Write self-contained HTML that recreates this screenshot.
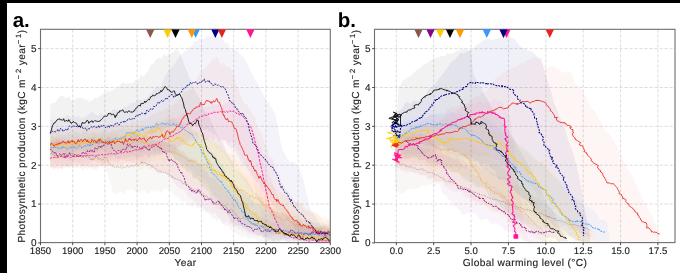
<!DOCTYPE html><html><head><meta charset="utf-8"><style>html,body{margin:0;padding:0;background:#fff;overflow:hidden}svg{display:block;will-change:transform;text-rendering:geometricPrecision}</style></head><body><svg width="680" height="273" viewBox="0 0 680 273">
<rect width="680" height="273" fill="#fff"/>
<line x1="72.70" y1="29.3" x2="72.70" y2="242.6" stroke="#d2d2d2" stroke-width="0.75" stroke-dasharray="3.2,1.8"/>
<line x1="104.90" y1="29.3" x2="104.90" y2="242.6" stroke="#d2d2d2" stroke-width="0.75" stroke-dasharray="3.2,1.8"/>
<line x1="137.10" y1="29.3" x2="137.10" y2="242.6" stroke="#d2d2d2" stroke-width="0.75" stroke-dasharray="3.2,1.8"/>
<line x1="169.30" y1="29.3" x2="169.30" y2="242.6" stroke="#d2d2d2" stroke-width="0.75" stroke-dasharray="3.2,1.8"/>
<line x1="201.50" y1="29.3" x2="201.50" y2="242.6" stroke="#d2d2d2" stroke-width="0.75" stroke-dasharray="3.2,1.8"/>
<line x1="233.70" y1="29.3" x2="233.70" y2="242.6" stroke="#d2d2d2" stroke-width="0.75" stroke-dasharray="3.2,1.8"/>
<line x1="265.90" y1="29.3" x2="265.90" y2="242.6" stroke="#d2d2d2" stroke-width="0.75" stroke-dasharray="3.2,1.8"/>
<line x1="298.10" y1="29.3" x2="298.10" y2="242.6" stroke="#d2d2d2" stroke-width="0.75" stroke-dasharray="3.2,1.8"/>
<line x1="40.5" y1="204.05" x2="330.3" y2="204.05" stroke="#d2d2d2" stroke-width="0.75" stroke-dasharray="3.2,1.8"/>
<line x1="40.5" y1="165.20" x2="330.3" y2="165.20" stroke="#d2d2d2" stroke-width="0.75" stroke-dasharray="3.2,1.8"/>
<line x1="40.5" y1="126.35" x2="330.3" y2="126.35" stroke="#d2d2d2" stroke-width="0.75" stroke-dasharray="3.2,1.8"/>
<line x1="40.5" y1="87.50" x2="330.3" y2="87.50" stroke="#d2d2d2" stroke-width="0.75" stroke-dasharray="3.2,1.8"/>
<line x1="40.5" y1="48.65" x2="330.3" y2="48.65" stroke="#d2d2d2" stroke-width="0.75" stroke-dasharray="3.2,1.8"/>
<line x1="396.30" y1="29.3" x2="396.30" y2="242.6" stroke="#d2d2d2" stroke-width="0.75" stroke-dasharray="3.2,1.8"/>
<line x1="433.68" y1="29.3" x2="433.68" y2="242.6" stroke="#d2d2d2" stroke-width="0.75" stroke-dasharray="3.2,1.8"/>
<line x1="471.05" y1="29.3" x2="471.05" y2="242.6" stroke="#d2d2d2" stroke-width="0.75" stroke-dasharray="3.2,1.8"/>
<line x1="508.43" y1="29.3" x2="508.43" y2="242.6" stroke="#d2d2d2" stroke-width="0.75" stroke-dasharray="3.2,1.8"/>
<line x1="545.80" y1="29.3" x2="545.80" y2="242.6" stroke="#d2d2d2" stroke-width="0.75" stroke-dasharray="3.2,1.8"/>
<line x1="583.17" y1="29.3" x2="583.17" y2="242.6" stroke="#d2d2d2" stroke-width="0.75" stroke-dasharray="3.2,1.8"/>
<line x1="620.55" y1="29.3" x2="620.55" y2="242.6" stroke="#d2d2d2" stroke-width="0.75" stroke-dasharray="3.2,1.8"/>
<line x1="657.92" y1="29.3" x2="657.92" y2="242.6" stroke="#d2d2d2" stroke-width="0.75" stroke-dasharray="3.2,1.8"/>
<line x1="374.5" y1="204.05" x2="675.0" y2="204.05" stroke="#d2d2d2" stroke-width="0.75" stroke-dasharray="3.2,1.8"/>
<line x1="374.5" y1="165.20" x2="675.0" y2="165.20" stroke="#d2d2d2" stroke-width="0.75" stroke-dasharray="3.2,1.8"/>
<line x1="374.5" y1="126.35" x2="675.0" y2="126.35" stroke="#d2d2d2" stroke-width="0.75" stroke-dasharray="3.2,1.8"/>
<line x1="374.5" y1="87.50" x2="675.0" y2="87.50" stroke="#d2d2d2" stroke-width="0.75" stroke-dasharray="3.2,1.8"/>
<line x1="374.5" y1="48.65" x2="675.0" y2="48.65" stroke="#d2d2d2" stroke-width="0.75" stroke-dasharray="3.2,1.8"/>
<path d="M50.2,105.3 L51.4,103.6 L52.7,103.1 L54.0,102.5 L55.3,102.4 L56.6,101.1 L57.9,98.4 L59.2,97.3 L60.5,95.6 L61.8,95.8 L63.0,96.0 L64.3,96.5 L65.6,98.9 L66.9,97.3 L68.2,96.9 L69.5,96.8 L70.8,99.4 L72.1,100.8 L73.3,100.4 L74.6,99.8 L75.9,98.5 L77.2,98.3 L78.5,97.5 L79.8,98.5 L81.1,97.9 L82.4,97.5 L83.6,99.6 L84.9,98.4 L86.2,99.7 L87.5,100.1 L88.8,101.2 L90.1,101.6 L91.4,101.0 L92.7,100.0 L94.0,98.4 L95.2,97.6 L96.5,97.8 L97.8,98.1 L99.1,97.3 L100.4,94.5 L101.7,95.0 L103.0,93.7 L104.3,92.4 L105.5,93.7 L106.8,92.1 L108.1,89.4 L109.4,91.8 L110.7,90.8 L112.0,89.8 L113.3,89.9 L114.6,88.1 L115.8,87.7 L117.1,88.8 L118.4,86.5 L119.7,85.3 L121.0,84.1 L122.3,82.7 L123.6,83.0 L124.9,83.2 L126.2,84.7 L127.4,83.0 L128.7,83.3 L130.0,83.0 L131.3,83.5 L132.6,83.1 L133.9,82.0 L135.2,79.1 L136.5,81.2 L137.7,81.3 L139.0,79.1 L140.3,76.2 L141.6,74.8 L142.9,76.3 L144.2,77.1 L145.5,73.4 L146.8,72.2 L148.0,71.4 L149.3,67.8 L150.6,65.2 L151.9,64.6 L153.2,63.6 L154.5,62.3 L155.8,59.8 L157.1,59.1 L158.4,58.3 L159.6,57.3 L160.9,59.1 L162.2,56.2 L163.5,54.7 L164.8,54.0 L166.1,56.2 L167.4,55.3 L168.7,52.7 L169.9,54.4 L171.2,53.3 L172.5,51.1 L173.8,52.6 L175.1,49.8 L176.4,49.4 L177.7,49.9 L179.0,51.1 L180.2,53.8 L181.5,57.3 L182.8,59.4 L184.1,64.1 L185.4,68.1 L186.7,70.1 L188.0,74.0 L189.3,78.3 L190.6,79.5 L191.8,80.8 L193.1,85.1 L194.4,89.7 L195.7,91.8 L197.0,94.3 L198.3,97.0 L199.6,97.7 L200.9,102.2 L202.1,103.1 L203.4,107.8 L204.7,110.9 L206.0,112.0 L207.3,113.3 L208.6,115.6 L209.9,118.6 L211.2,121.7 L212.4,124.5 L213.7,126.7 L215.0,130.0 L216.3,132.4 L217.6,134.5 L218.9,137.6 L220.2,139.5 L221.5,141.8 L222.8,142.4 L224.0,145.8 L225.3,149.6 L226.6,152.6 L227.9,154.8 L229.2,156.0 L230.5,159.3 L231.8,161.2 L233.1,161.6 L234.3,167.8 L235.6,169.8 L236.9,169.9 L238.2,170.6 L239.5,171.9 L240.8,174.1 L242.1,174.7 L243.4,176.2 L244.6,178.7 L245.9,177.3 L247.2,179.7 L248.5,182.8 L249.8,184.6 L251.1,186.4 L252.4,187.9 L253.7,192.6 L255.0,193.1 L256.2,192.3 L257.5,195.3 L258.8,196.3 L260.1,196.3 L261.4,197.2 L262.7,197.7 L264.0,202.5 L265.3,204.1 L266.5,205.2 L267.8,204.9 L269.1,204.5 L270.4,209.2 L271.7,207.5 L273.0,210.0 L274.3,209.1 L275.6,211.7 L276.8,211.3 L278.1,210.4 L279.4,211.9 L280.7,212.6 L282.0,212.6 L283.3,213.8 L284.6,215.1 L285.9,214.2 L287.2,214.7 L288.4,216.9 L289.7,214.8 L291.0,218.7 L292.3,218.7 L293.6,220.4 L294.9,221.2 L296.2,221.3 L297.5,222.3 L298.7,222.5 L300.0,225.2 L301.3,226.6 L302.6,225.0 L303.9,226.2 L305.2,227.1 L306.5,228.2 L307.8,225.7 L309.0,225.2 L310.3,224.2 L311.6,226.7 L312.9,227.0 L314.2,228.7 L315.5,227.4 L316.8,226.0 L318.1,228.3 L319.4,226.8 L320.6,226.8 L321.9,228.4 L323.2,231.4 L324.5,229.1 L325.8,229.9 L327.1,231.1 L328.4,230.6 L329.7,230.5 L329.7,242.1 L328.4,242.8 L327.1,242.2 L325.8,241.7 L324.5,241.2 L323.2,241.0 L321.9,241.5 L320.6,240.7 L319.4,240.8 L318.1,241.8 L316.8,242.3 L315.5,242.9 L314.2,240.9 L312.9,239.9 L311.6,240.1 L310.3,240.4 L309.0,238.2 L307.8,240.8 L306.5,240.2 L305.2,238.3 L303.9,238.0 L302.6,240.6 L301.3,239.4 L300.0,239.7 L298.7,239.7 L297.5,240.9 L296.2,240.1 L294.9,241.0 L293.6,240.8 L292.3,238.2 L291.0,238.1 L289.7,237.9 L288.4,239.2 L287.2,239.4 L285.9,238.4 L284.6,238.2 L283.3,239.6 L282.0,239.5 L280.7,240.2 L279.4,241.6 L278.1,241.5 L276.8,240.0 L275.6,239.3 L274.3,242.6 L273.0,242.9 L271.7,240.6 L270.4,239.3 L269.1,240.9 L267.8,240.4 L266.5,241.7 L265.3,239.5 L264.0,237.4 L262.7,237.2 L261.4,235.8 L260.1,235.1 L258.8,235.9 L257.5,236.5 L256.2,234.4 L255.0,233.5 L253.7,233.1 L252.4,232.5 L251.1,232.3 L249.8,231.8 L248.5,231.7 L247.2,230.7 L245.9,228.9 L244.6,227.8 L243.4,228.1 L242.1,226.8 L240.8,225.9 L239.5,225.7 L238.2,225.4 L236.9,225.6 L235.6,225.2 L234.3,223.7 L233.1,223.8 L231.8,223.2 L230.5,221.9 L229.2,217.6 L227.9,216.3 L226.6,212.5 L225.3,210.4 L224.0,210.1 L222.8,209.1 L221.5,210.5 L220.2,207.5 L218.9,203.5 L217.6,202.2 L216.3,203.8 L215.0,201.3 L213.7,199.2 L212.4,197.9 L211.2,197.2 L209.9,195.0 L208.6,190.4 L207.3,190.3 L206.0,190.6 L204.7,188.0 L203.4,186.6 L202.1,187.2 L200.9,183.0 L199.6,182.0 L198.3,179.9 L197.0,178.1 L195.7,178.6 L194.4,178.1 L193.1,178.6 L191.8,173.3 L190.6,171.5 L189.3,170.4 L188.0,173.0 L186.7,171.1 L185.4,168.7 L184.1,167.3 L182.8,167.6 L181.5,166.5 L180.2,164.1 L179.0,162.4 L177.7,160.5 L176.4,160.1 L175.1,159.4 L173.8,158.1 L172.5,155.0 L171.2,154.1 L169.9,153.0 L168.7,150.8 L167.4,152.3 L166.1,152.8 L164.8,150.1 L163.5,152.8 L162.2,153.7 L160.9,150.4 L159.6,152.7 L158.4,151.8 L157.1,150.4 L155.8,151.7 L154.5,153.5 L153.2,150.2 L151.9,149.6 L150.6,149.2 L149.3,150.1 L148.0,149.7 L146.8,149.7 L145.5,150.2 L144.2,151.5 L142.9,151.3 L141.6,152.7 L140.3,153.0 L139.0,150.5 L137.7,150.4 L136.5,152.6 L135.2,151.1 L133.9,151.0 L132.6,153.0 L131.3,150.5 L130.0,152.1 L128.7,151.5 L127.4,152.7 L126.2,151.7 L124.9,151.6 L123.6,150.9 L122.3,150.2 L121.0,152.3 L119.7,152.8 L118.4,151.5 L117.1,149.7 L115.8,149.4 L114.6,150.1 L113.3,149.6 L112.0,150.4 L110.7,152.4 L109.4,152.5 L108.1,150.3 L106.8,152.2 L105.5,152.2 L104.3,150.5 L103.0,149.4 L101.7,150.1 L100.4,150.2 L99.1,149.3 L97.8,151.6 L96.5,152.3 L95.2,151.9 L94.0,152.2 L92.7,152.5 L91.4,153.4 L90.1,152.2 L88.8,155.1 L87.5,153.9 L86.2,153.4 L84.9,150.6 L83.6,151.2 L82.4,148.9 L81.1,149.6 L79.8,150.6 L78.5,151.4 L77.2,150.5 L75.9,151.9 L74.6,151.6 L73.3,152.9 L72.1,153.2 L70.8,152.5 L69.5,153.2 L68.2,155.7 L66.9,154.4 L65.6,155.2 L64.3,152.3 L63.0,151.1 L61.8,152.5 L60.5,152.4 L59.2,152.1 L57.9,153.5 L56.6,152.0 L55.3,150.4 L54.0,151.0 L52.7,152.3 L51.4,153.8 L50.2,151.8Z" fill="#000000" fill-opacity="0.052" stroke="none"/>
<path d="M50.2,119.8 L51.4,119.8 L52.7,119.0 L54.0,120.2 L55.3,119.6 L56.6,121.0 L57.9,120.1 L59.2,118.1 L60.5,117.1 L61.8,117.2 L63.0,117.4 L64.3,118.8 L65.6,115.7 L66.9,115.6 L68.2,114.8 L69.5,116.6 L70.8,116.6 L72.1,118.5 L73.3,116.3 L74.6,115.0 L75.9,117.6 L77.2,116.6 L78.5,115.3 L79.8,117.4 L81.1,118.4 L82.4,118.0 L83.6,117.2 L84.9,117.6 L86.2,116.1 L87.5,115.0 L88.8,113.9 L90.1,113.2 L91.4,111.9 L92.7,111.5 L94.0,114.2 L95.2,114.5 L96.5,115.3 L97.8,115.6 L99.1,114.5 L100.4,113.8 L101.7,112.8 L103.0,114.7 L104.3,115.1 L105.5,113.7 L106.8,112.9 L108.1,112.4 L109.4,111.7 L110.7,111.9 L112.0,110.0 L113.3,109.3 L114.6,109.2 L115.8,109.7 L117.1,109.1 L118.4,111.5 L119.7,110.5 L121.0,108.6 L122.3,109.2 L123.6,107.3 L124.9,106.2 L126.2,107.2 L127.4,106.1 L128.7,105.5 L130.0,104.0 L131.3,102.8 L132.6,102.6 L133.9,103.1 L135.2,102.3 L136.5,101.5 L137.7,99.8 L139.0,99.2 L140.3,99.8 L141.6,100.5 L142.9,99.4 L144.2,99.0 L145.5,99.0 L146.8,97.4 L148.0,96.8 L149.3,95.1 L150.6,93.2 L151.9,92.8 L153.2,88.9 L154.5,89.6 L155.8,87.7 L157.1,87.4 L158.4,85.5 L159.6,88.2 L160.9,86.2 L162.2,83.1 L163.5,80.1 L164.8,75.7 L166.1,74.8 L167.4,72.3 L168.7,70.7 L169.9,68.7 L171.2,67.3 L172.5,66.4 L173.8,64.2 L175.1,64.0 L176.4,60.3 L177.7,60.0 L179.0,57.8 L180.2,54.1 L181.5,54.4 L182.8,53.6 L184.1,51.3 L185.4,50.8 L186.7,51.0 L188.0,49.2 L189.3,47.4 L190.6,46.0 L191.8,46.5 L193.1,43.2 L194.4,41.2 L195.7,41.6 L197.0,41.1 L198.3,41.1 L199.6,38.4 L200.9,39.6 L202.1,38.4 L203.4,38.9 L204.7,39.2 L206.0,37.5 L207.3,35.6 L208.6,36.1 L209.9,36.9 L211.2,35.3 L212.4,35.8 L213.7,36.1 L215.0,35.2 L216.3,35.4 L217.6,37.8 L218.9,35.9 L220.2,37.9 L221.5,38.3 L222.8,40.5 L224.0,41.1 L225.3,43.7 L226.6,42.5 L227.9,43.4 L229.2,46.6 L230.5,48.9 L231.8,50.5 L233.1,48.3 L234.3,49.5 L235.6,50.0 L236.9,50.8 L238.2,51.4 L239.5,53.7 L240.8,54.2 L242.1,56.8 L243.4,57.1 L244.6,58.6 L245.9,60.2 L247.2,63.1 L248.5,66.4 L249.8,68.5 L251.1,72.2 L252.4,73.3 L253.7,76.4 L255.0,79.5 L256.2,81.3 L257.5,82.9 L258.8,85.7 L260.1,88.6 L261.4,90.9 L262.7,93.4 L264.0,96.2 L265.3,97.4 L266.5,101.0 L267.8,102.6 L269.1,100.8 L270.4,106.1 L271.7,107.8 L273.0,110.1 L274.3,112.8 L275.6,115.3 L276.8,122.1 L278.1,127.9 L279.4,135.8 L280.7,142.8 L282.0,148.1 L283.3,150.9 L284.6,152.6 L285.9,155.8 L287.2,158.7 L288.4,159.5 L289.7,162.6 L291.0,162.0 L292.3,161.8 L293.6,162.4 L294.9,162.8 L296.2,164.0 L297.5,166.4 L298.7,167.6 L300.0,170.0 L301.3,174.1 L302.6,177.2 L303.9,181.8 L305.2,188.7 L306.5,193.3 L307.8,197.2 L309.0,204.9 L310.3,209.1 L311.6,211.9 L312.9,212.6 L314.2,215.6 L315.5,216.4 L316.8,219.2 L318.1,220.5 L319.4,221.7 L320.6,224.6 L321.9,222.2 L323.2,221.9 L324.5,225.0 L325.8,223.9 L327.1,224.5 L328.4,224.3 L329.7,224.5 L329.7,242.2 L328.4,241.5 L327.1,239.4 L325.8,238.1 L324.5,237.4 L323.2,239.2 L321.9,238.9 L320.6,237.1 L319.4,237.4 L318.1,235.9 L316.8,236.2 L315.5,234.5 L314.2,235.2 L312.9,235.0 L311.6,235.0 L310.3,234.8 L309.0,236.2 L307.8,233.1 L306.5,234.5 L305.2,235.6 L303.9,233.1 L302.6,232.7 L301.3,233.6 L300.0,231.4 L298.7,231.7 L297.5,231.0 L296.2,228.4 L294.9,230.8 L293.6,226.6 L292.3,224.4 L291.0,220.7 L289.7,220.5 L288.4,220.1 L287.2,219.9 L285.9,219.1 L284.6,217.2 L283.3,216.4 L282.0,215.2 L280.7,213.3 L279.4,211.1 L278.1,210.9 L276.8,209.8 L275.6,209.5 L274.3,206.2 L273.0,205.6 L271.7,203.3 L270.4,200.2 L269.1,200.2 L267.8,199.4 L266.5,196.6 L265.3,193.9 L264.0,192.2 L262.7,191.3 L261.4,190.0 L260.1,188.3 L258.8,182.2 L257.5,181.7 L256.2,183.2 L255.0,179.1 L253.7,176.6 L252.4,175.7 L251.1,173.8 L249.8,170.9 L248.5,170.6 L247.2,169.6 L245.9,167.1 L244.6,165.1 L243.4,164.9 L242.1,163.3 L240.8,161.6 L239.5,159.8 L238.2,156.0 L236.9,155.8 L235.6,151.8 L234.3,150.6 L233.1,148.5 L231.8,148.2 L230.5,148.3 L229.2,145.9 L227.9,145.7 L226.6,143.6 L225.3,140.1 L224.0,141.2 L222.8,141.6 L221.5,140.7 L220.2,139.5 L218.9,138.7 L217.6,135.9 L216.3,135.8 L215.0,133.6 L213.7,134.1 L212.4,133.7 L211.2,131.5 L209.9,132.4 L208.6,131.1 L207.3,129.0 L206.0,129.7 L204.7,130.4 L203.4,130.3 L202.1,126.8 L200.9,126.3 L199.6,125.4 L198.3,126.1 L197.0,126.1 L195.7,126.6 L194.4,126.2 L193.1,126.0 L191.8,128.0 L190.6,126.0 L189.3,125.3 L188.0,124.8 L186.7,125.4 L185.4,125.2 L184.1,127.7 L182.8,125.5 L181.5,125.4 L180.2,126.9 L179.0,125.2 L177.7,125.2 L176.4,127.6 L175.1,126.0 L173.8,125.4 L172.5,126.0 L171.2,125.3 L169.9,125.3 L168.7,126.7 L167.4,126.9 L166.1,127.4 L164.8,127.9 L163.5,129.8 L162.2,130.1 L160.9,129.8 L159.6,129.4 L158.4,128.9 L157.1,128.0 L155.8,130.7 L154.5,132.8 L153.2,133.4 L151.9,137.0 L150.6,133.6 L149.3,133.7 L148.0,131.4 L146.8,133.2 L145.5,133.2 L144.2,134.1 L142.9,133.9 L141.6,132.8 L140.3,135.8 L139.0,136.7 L137.7,138.5 L136.5,140.9 L135.2,138.9 L133.9,136.9 L132.6,138.0 L131.3,138.2 L130.0,138.0 L128.7,135.9 L127.4,138.7 L126.2,137.0 L124.9,139.0 L123.6,139.8 L122.3,138.9 L121.0,139.4 L119.7,139.0 L118.4,140.5 L117.1,141.5 L115.8,141.6 L114.6,139.8 L113.3,140.9 L112.0,140.3 L110.7,139.7 L109.4,141.3 L108.1,141.0 L106.8,142.2 L105.5,143.9 L104.3,142.3 L103.0,141.2 L101.7,142.4 L100.4,142.1 L99.1,143.0 L97.8,141.2 L96.5,141.4 L95.2,141.1 L94.0,139.6 L92.7,141.1 L91.4,142.1 L90.1,142.4 L88.8,141.0 L87.5,141.8 L86.2,140.4 L84.9,141.7 L83.6,143.3 L82.4,143.1 L81.1,143.2 L79.8,143.2 L78.5,144.4 L77.2,144.4 L75.9,145.0 L74.6,143.6 L73.3,144.2 L72.1,145.6 L70.8,144.7 L69.5,143.2 L68.2,143.7 L66.9,144.6 L65.6,143.5 L64.3,141.4 L63.0,143.7 L61.8,143.5 L60.5,143.3 L59.2,145.8 L57.9,147.6 L56.6,147.4 L55.3,146.6 L54.0,145.5 L52.7,144.4 L51.4,146.8 L50.2,147.5Z" fill="#000080" fill-opacity="0.048" stroke="none"/>
<path d="M50.2,130.0 L51.4,128.9 L52.7,128.9 L54.0,128.7 L55.3,129.2 L56.6,127.8 L57.9,129.1 L59.2,129.8 L60.5,128.5 L61.8,128.7 L63.0,129.2 L64.3,129.7 L65.6,129.5 L66.9,128.3 L68.2,128.0 L69.5,129.6 L70.8,128.4 L72.1,128.1 L73.3,129.2 L74.6,127.7 L75.9,128.1 L77.2,128.3 L78.5,127.0 L79.8,125.7 L81.1,127.3 L82.4,126.8 L83.6,128.0 L84.9,124.8 L86.2,126.4 L87.5,125.2 L88.8,126.7 L90.1,125.7 L91.4,123.4 L92.7,127.9 L94.0,127.6 L95.2,126.2 L96.5,126.2 L97.8,126.8 L99.1,123.8 L100.4,124.6 L101.7,127.0 L103.0,125.2 L104.3,127.3 L105.5,124.9 L106.8,125.6 L108.1,125.1 L109.4,123.5 L110.7,124.0 L112.0,125.9 L113.3,127.2 L114.6,124.4 L115.8,123.4 L117.1,124.8 L118.4,123.4 L119.7,123.1 L121.0,122.7 L122.3,125.8 L123.6,125.0 L124.9,123.2 L126.2,122.4 L127.4,121.8 L128.7,125.3 L130.0,124.0 L131.3,122.8 L132.6,119.8 L133.9,122.3 L135.2,122.8 L136.5,122.6 L137.7,121.1 L139.0,121.5 L140.3,119.6 L141.6,120.5 L142.9,119.5 L144.2,119.6 L145.5,118.5 L146.8,118.7 L148.0,119.5 L149.3,116.4 L150.6,115.5 L151.9,115.8 L153.2,114.7 L154.5,112.9 L155.8,114.0 L157.1,113.2 L158.4,111.8 L159.6,110.8 L160.9,110.9 L162.2,112.8 L163.5,109.5 L164.8,108.6 L166.1,108.2 L167.4,108.1 L168.7,107.0 L169.9,106.8 L171.2,106.7 L172.5,105.7 L173.8,104.5 L175.1,103.4 L176.4,102.9 L177.7,100.0 L179.0,100.3 L180.2,97.6 L181.5,97.6 L182.8,95.5 L184.1,92.6 L185.4,92.1 L186.7,92.3 L188.0,91.0 L189.3,89.6 L190.6,90.6 L191.8,89.2 L193.1,86.1 L194.4,84.2 L195.7,81.6 L197.0,78.5 L198.3,75.9 L199.6,73.4 L200.9,71.5 L202.1,70.7 L203.4,69.3 L204.7,68.1 L206.0,66.7 L207.3,65.0 L208.6,65.1 L209.9,62.7 L211.2,60.4 L212.4,60.1 L213.7,59.1 L215.0,57.8 L216.3,57.8 L217.6,56.0 L218.9,61.9 L220.2,62.9 L221.5,66.1 L222.8,64.7 L224.0,61.9 L225.3,66.9 L226.6,66.6 L227.9,66.2 L229.2,67.4 L230.5,67.3 L231.8,70.9 L233.1,69.4 L234.3,75.5 L235.6,82.2 L236.9,86.3 L238.2,88.6 L239.5,92.7 L240.8,95.6 L242.1,98.2 L243.4,102.5 L244.6,103.0 L245.9,103.9 L247.2,104.8 L248.5,108.1 L249.8,109.8 L251.1,110.8 L252.4,113.4 L253.7,115.2 L255.0,116.6 L256.2,122.3 L257.5,127.8 L258.8,128.7 L260.1,130.0 L261.4,132.9 L262.7,136.1 L264.0,140.9 L265.3,144.9 L266.5,146.6 L267.8,151.2 L269.1,156.0 L270.4,158.8 L271.7,157.4 L273.0,158.8 L274.3,164.0 L275.6,168.0 L276.8,170.3 L278.1,174.0 L279.4,174.8 L280.7,178.3 L282.0,182.6 L283.3,183.3 L284.6,187.3 L285.9,189.0 L287.2,190.4 L288.4,192.1 L289.7,192.8 L291.0,195.0 L292.3,198.2 L293.6,200.8 L294.9,201.6 L296.2,202.1 L297.5,202.1 L298.7,202.7 L300.0,203.0 L301.3,204.4 L302.6,206.8 L303.9,208.5 L305.2,211.4 L306.5,210.9 L307.8,210.2 L309.0,210.2 L310.3,211.3 L311.6,212.4 L312.9,212.0 L314.2,213.2 L315.5,213.4 L316.8,214.1 L318.1,215.2 L319.4,214.9 L320.6,217.3 L321.9,218.7 L323.2,220.3 L324.5,221.5 L325.8,219.7 L327.1,218.9 L328.4,221.0 L329.7,221.7 L329.7,242.9 L328.4,242.8 L327.1,241.4 L325.8,242.2 L324.5,242.0 L323.2,242.8 L321.9,242.9 L320.6,241.8 L319.4,240.5 L318.1,241.1 L316.8,241.2 L315.5,239.9 L314.2,239.9 L312.9,240.5 L311.6,241.8 L310.3,239.7 L309.0,239.3 L307.8,240.3 L306.5,241.6 L305.2,239.6 L303.9,237.2 L302.6,238.3 L301.3,239.3 L300.0,240.8 L298.7,241.0 L297.5,238.9 L296.2,238.3 L294.9,237.4 L293.6,233.6 L292.3,233.6 L291.0,232.2 L289.7,233.7 L288.4,230.9 L287.2,228.1 L285.9,227.7 L284.6,227.4 L283.3,226.6 L282.0,225.3 L280.7,224.5 L279.4,223.0 L278.1,222.4 L276.8,222.8 L275.6,221.6 L274.3,220.5 L273.0,219.5 L271.7,216.3 L270.4,213.4 L269.1,212.0 L267.8,212.0 L266.5,211.7 L265.3,212.0 L264.0,208.7 L262.7,205.7 L261.4,203.9 L260.1,200.3 L258.8,201.0 L257.5,198.2 L256.2,198.5 L255.0,194.7 L253.7,194.0 L252.4,193.2 L251.1,192.5 L249.8,188.6 L248.5,186.8 L247.2,187.8 L245.9,182.5 L244.6,180.8 L243.4,178.7 L242.1,177.9 L240.8,175.3 L239.5,173.9 L238.2,171.6 L236.9,170.2 L235.6,168.3 L234.3,165.1 L233.1,165.6 L231.8,163.3 L230.5,163.6 L229.2,160.2 L227.9,158.8 L226.6,159.0 L225.3,155.9 L224.0,155.3 L222.8,152.8 L221.5,152.5 L220.2,151.9 L218.9,149.1 L217.6,149.7 L216.3,147.7 L215.0,145.9 L213.7,145.3 L212.4,145.6 L211.2,144.2 L209.9,142.1 L208.6,140.9 L207.3,140.1 L206.0,140.2 L204.7,139.2 L203.4,138.6 L202.1,136.7 L200.9,135.4 L199.6,133.5 L198.3,135.1 L197.0,135.6 L195.7,136.1 L194.4,136.8 L193.1,138.0 L191.8,135.5 L190.6,137.7 L189.3,138.6 L188.0,142.1 L186.7,139.7 L185.4,140.8 L184.1,143.6 L182.8,142.4 L181.5,143.6 L180.2,146.9 L179.0,146.5 L177.7,147.3 L176.4,146.6 L175.1,146.4 L173.8,146.6 L172.5,147.0 L171.2,147.6 L169.9,146.4 L168.7,147.2 L167.4,149.1 L166.1,148.9 L164.8,148.0 L163.5,148.0 L162.2,149.9 L160.9,151.8 L159.6,153.1 L158.4,153.7 L157.1,153.5 L155.8,156.2 L154.5,156.2 L153.2,155.1 L151.9,155.5 L150.6,158.4 L149.3,158.5 L148.0,157.1 L146.8,156.4 L145.5,155.4 L144.2,153.3 L142.9,156.2 L141.6,157.1 L140.3,156.8 L139.0,158.7 L137.7,158.6 L136.5,160.1 L135.2,157.1 L133.9,156.6 L132.6,157.5 L131.3,157.4 L130.0,157.0 L128.7,156.9 L127.4,156.0 L126.2,156.2 L124.9,158.4 L123.6,159.0 L122.3,157.8 L121.0,158.8 L119.7,159.4 L118.4,159.0 L117.1,158.8 L115.8,159.6 L114.6,157.6 L113.3,156.1 L112.0,158.2 L110.7,157.0 L109.4,157.3 L108.1,157.2 L106.8,158.1 L105.5,159.0 L104.3,158.0 L103.0,158.5 L101.7,157.0 L100.4,156.5 L99.1,155.7 L97.8,158.5 L96.5,156.0 L95.2,155.4 L94.0,154.8 L92.7,156.8 L91.4,158.1 L90.1,158.1 L88.8,157.4 L87.5,157.9 L86.2,158.2 L84.9,155.5 L83.6,156.7 L82.4,157.0 L81.1,156.2 L79.8,156.1 L78.5,155.0 L77.2,155.6 L75.9,155.2 L74.6,156.9 L73.3,157.3 L72.1,155.7 L70.8,154.8 L69.5,154.9 L68.2,157.5 L66.9,157.7 L65.6,156.4 L64.3,159.0 L63.0,158.5 L61.8,158.1 L60.5,157.9 L59.2,156.4 L57.9,155.7 L56.6,157.4 L55.3,158.4 L54.0,157.8 L52.7,155.2 L51.4,155.8 L50.2,156.0Z" fill="#e8221e" fill-opacity="0.045" stroke="none"/>
<path d="M50.2,142.2 L51.4,141.3 L52.7,139.6 L54.0,140.9 L55.3,138.7 L56.6,138.3 L57.9,138.8 L59.2,139.3 L60.5,138.1 L61.8,139.8 L63.0,140.5 L64.3,141.9 L65.6,140.8 L66.9,139.2 L68.2,139.2 L69.5,139.4 L70.8,140.1 L72.1,140.0 L73.3,141.8 L74.6,139.8 L75.9,140.4 L77.2,141.5 L78.5,141.6 L79.8,141.7 L81.1,139.7 L82.4,138.4 L83.6,140.6 L84.9,138.9 L86.2,138.1 L87.5,139.4 L88.8,141.1 L90.1,141.0 L91.4,140.8 L92.7,139.4 L94.0,139.6 L95.2,141.6 L96.5,139.9 L97.8,141.0 L99.1,138.7 L100.4,140.0 L101.7,140.0 L103.0,140.1 L104.3,139.8 L105.5,137.4 L106.8,136.7 L108.1,136.6 L109.4,136.8 L110.7,139.1 L112.0,139.0 L113.3,138.9 L114.6,139.4 L115.8,137.8 L117.1,138.4 L118.4,138.7 L119.7,139.1 L121.0,140.5 L122.3,138.0 L123.6,135.9 L124.9,136.1 L126.2,137.6 L127.4,140.3 L128.7,138.2 L130.0,135.9 L131.3,135.8 L132.6,134.9 L133.9,133.8 L135.2,133.6 L136.5,135.3 L137.7,134.2 L139.0,133.5 L140.3,135.7 L141.6,135.1 L142.9,135.8 L144.2,134.3 L145.5,132.4 L146.8,133.2 L148.0,134.5 L149.3,130.9 L150.6,129.9 L151.9,127.8 L153.2,129.8 L154.5,127.8 L155.8,125.3 L157.1,123.8 L158.4,125.4 L159.6,125.4 L160.9,125.6 L162.2,124.1 L163.5,123.0 L164.8,123.3 L166.1,124.9 L167.4,122.9 L168.7,123.1 L169.9,121.6 L171.2,120.9 L172.5,118.7 L173.8,117.8 L175.1,119.0 L176.4,118.3 L177.7,116.0 L179.0,117.2 L180.2,116.4 L181.5,114.8 L182.8,113.6 L184.1,113.5 L185.4,115.3 L186.7,115.9 L188.0,114.1 L189.3,112.7 L190.6,109.1 L191.8,111.1 L193.1,109.4 L194.4,108.6 L195.7,110.8 L197.0,110.6 L198.3,109.0 L199.6,108.7 L200.9,107.8 L202.1,106.6 L203.4,107.5 L204.7,106.4 L206.0,107.1 L207.3,107.2 L208.6,105.9 L209.9,106.5 L211.2,105.7 L212.4,103.7 L213.7,104.5 L215.0,105.0 L216.3,104.1 L217.6,104.9 L218.9,103.5 L220.2,105.5 L221.5,104.2 L222.8,104.8 L224.0,105.4 L225.3,102.5 L226.6,104.1 L227.9,101.8 L229.2,101.8 L230.5,100.8 L231.8,103.1 L233.1,101.6 L234.3,101.7 L235.6,105.2 L236.9,108.1 L238.2,107.6 L239.5,111.1 L240.8,114.7 L242.1,117.8 L243.4,119.2 L244.6,121.1 L245.9,123.3 L247.2,123.7 L248.5,126.5 L249.8,127.6 L251.1,127.7 L252.4,131.2 L253.7,131.3 L255.0,131.0 L256.2,136.5 L257.5,140.2 L258.8,143.2 L260.1,147.0 L261.4,148.1 L262.7,152.9 L264.0,154.2 L265.3,155.3 L266.5,164.7 L267.8,171.2 L269.1,176.5 L270.4,177.7 L271.7,181.9 L273.0,185.2 L274.3,188.2 L275.6,190.9 L276.8,195.1 L278.1,198.5 L279.4,201.6 L280.7,202.7 L282.0,205.5 L283.3,206.3 L284.6,209.8 L285.9,210.6 L287.2,209.0 L288.4,211.1 L289.7,214.5 L291.0,215.2 L292.3,217.8 L293.6,220.6 L294.9,221.7 L296.2,221.4 L297.5,222.4 L298.7,223.6 L300.0,225.0 L301.3,226.1 L302.6,223.9 L303.9,224.2 L305.2,226.0 L306.5,228.4 L307.8,228.9 L309.0,224.7 L310.3,227.1 L311.6,227.2 L312.9,227.0 L314.2,227.5 L315.5,228.1 L316.8,229.8 L318.1,230.4 L319.4,227.7 L320.6,229.3 L321.9,228.4 L323.2,231.1 L324.5,231.0 L325.8,230.4 L327.1,229.4 L328.4,231.6 L329.7,230.8 L329.7,242.8 L328.4,241.3 L327.1,242.9 L325.8,242.2 L324.5,242.6 L323.2,242.4 L321.9,241.3 L320.6,239.0 L319.4,238.5 L318.1,237.4 L316.8,240.9 L315.5,241.0 L314.2,241.1 L312.9,240.7 L311.6,239.6 L310.3,238.2 L309.0,237.2 L307.8,237.2 L306.5,237.9 L305.2,237.0 L303.9,237.6 L302.6,237.4 L301.3,237.1 L300.0,238.0 L298.7,236.0 L297.5,236.8 L296.2,234.5 L294.9,235.4 L293.6,235.6 L292.3,236.1 L291.0,236.6 L289.7,237.6 L288.4,236.3 L287.2,235.2 L285.9,237.2 L284.6,237.0 L283.3,234.7 L282.0,233.1 L280.7,232.1 L279.4,232.2 L278.1,234.1 L276.8,232.0 L275.6,231.2 L274.3,233.1 L273.0,233.2 L271.7,233.9 L270.4,233.7 L269.1,233.0 L267.8,231.1 L266.5,229.7 L265.3,227.0 L264.0,224.0 L262.7,220.4 L261.4,215.8 L260.1,209.1 L258.8,205.4 L257.5,201.7 L256.2,195.1 L255.0,189.7 L253.7,182.6 L252.4,180.6 L251.1,178.4 L249.8,175.7 L248.5,170.2 L247.2,167.9 L245.9,165.2 L244.6,165.6 L243.4,160.3 L242.1,158.6 L240.8,157.4 L239.5,153.4 L238.2,150.7 L236.9,149.7 L235.6,146.6 L234.3,145.5 L233.1,143.5 L231.8,141.1 L230.5,142.9 L229.2,141.6 L227.9,143.8 L226.6,141.8 L225.3,141.2 L224.0,139.8 L222.8,138.1 L221.5,139.9 L220.2,142.0 L218.9,141.9 L217.6,139.4 L216.3,137.3 L215.0,137.1 L213.7,140.2 L212.4,140.0 L211.2,138.8 L209.9,136.9 L208.6,138.5 L207.3,140.8 L206.0,139.5 L204.7,138.6 L203.4,136.9 L202.1,138.0 L200.9,136.0 L199.6,137.5 L198.3,139.3 L197.0,141.2 L195.7,139.7 L194.4,141.7 L193.1,141.0 L191.8,141.0 L190.6,139.7 L189.3,141.3 L188.0,142.3 L186.7,145.0 L185.4,144.9 L184.1,144.6 L182.8,144.8 L181.5,144.5 L180.2,146.5 L179.0,146.2 L177.7,145.4 L176.4,149.3 L175.1,150.4 L173.8,153.5 L172.5,152.5 L171.2,152.6 L169.9,152.4 L168.7,153.0 L167.4,154.5 L166.1,152.6 L164.8,151.9 L163.5,152.3 L162.2,155.1 L160.9,155.1 L159.6,155.8 L158.4,155.2 L157.1,155.0 L155.8,154.8 L154.5,153.8 L153.2,153.7 L151.9,154.4 L150.6,155.7 L149.3,157.9 L148.0,157.5 L146.8,159.8 L145.5,160.5 L144.2,161.6 L142.9,161.6 L141.6,161.6 L140.3,162.6 L139.0,162.7 L137.7,163.0 L136.5,165.8 L135.2,165.4 L133.9,162.8 L132.6,162.5 L131.3,163.8 L130.0,163.0 L128.7,164.6 L127.4,162.8 L126.2,163.2 L124.9,163.0 L123.6,163.3 L122.3,163.9 L121.0,166.7 L119.7,165.2 L118.4,163.1 L117.1,164.3 L115.8,163.5 L114.6,165.3 L113.3,165.6 L112.0,166.2 L110.7,166.3 L109.4,164.5 L108.1,166.4 L106.8,166.4 L105.5,167.0 L104.3,164.3 L103.0,164.7 L101.7,165.2 L100.4,165.9 L99.1,165.8 L97.8,166.8 L96.5,166.5 L95.2,166.6 L94.0,166.6 L92.7,167.5 L91.4,166.8 L90.1,167.3 L88.8,167.0 L87.5,166.2 L86.2,165.3 L84.9,167.9 L83.6,166.7 L82.4,165.6 L81.1,164.0 L79.8,165.2 L78.5,164.7 L77.2,165.2 L75.9,165.1 L74.6,166.2 L73.3,164.5 L72.1,165.3 L70.8,165.4 L69.5,168.2 L68.2,167.1 L66.9,165.2 L65.6,167.0 L64.3,166.6 L63.0,168.5 L61.8,169.4 L60.5,168.8 L59.2,168.6 L57.9,170.4 L56.6,167.6 L55.3,168.3 L54.0,167.9 L52.7,166.8 L51.4,167.7 L50.2,166.7Z" fill="#ff1493" fill-opacity="0.05" stroke="none"/>
<path d="M50.2,132.9 L51.4,136.1 L52.7,135.0 L54.0,134.1 L55.3,133.7 L56.6,132.9 L57.9,132.9 L59.2,133.0 L60.5,135.4 L61.8,135.2 L63.0,136.9 L64.3,134.3 L65.6,133.3 L66.9,133.3 L68.2,134.0 L69.5,134.1 L70.8,131.2 L72.1,129.8 L73.3,131.2 L74.6,130.3 L75.9,133.2 L77.2,135.0 L78.5,134.1 L79.8,134.1 L81.1,133.7 L82.4,132.6 L83.6,128.6 L84.9,130.9 L86.2,131.2 L87.5,131.0 L88.8,131.3 L90.1,130.2 L91.4,128.7 L92.7,131.4 L94.0,131.1 L95.2,131.3 L96.5,130.7 L97.8,132.6 L99.1,133.7 L100.4,134.9 L101.7,132.1 L103.0,131.1 L104.3,130.7 L105.5,133.3 L106.8,132.2 L108.1,132.1 L109.4,132.7 L110.7,132.4 L112.0,130.3 L113.3,129.4 L114.6,129.6 L115.8,129.0 L117.1,130.0 L118.4,129.6 L119.7,129.5 L121.0,128.7 L122.3,129.0 L123.6,129.2 L124.9,129.3 L126.2,129.9 L127.4,126.7 L128.7,127.1 L130.0,127.4 L131.3,125.3 L132.6,125.3 L133.9,128.7 L135.2,127.7 L136.5,127.0 L137.7,125.2 L139.0,124.7 L140.3,124.9 L141.6,127.1 L142.9,127.7 L144.2,126.4 L145.5,125.3 L146.8,126.3 L148.0,125.9 L149.3,125.5 L150.6,124.6 L151.9,123.6 L153.2,123.7 L154.5,124.6 L155.8,122.0 L157.1,120.1 L158.4,120.9 L159.6,119.8 L160.9,119.7 L162.2,119.3 L163.5,119.0 L164.8,120.2 L166.1,119.0 L167.4,117.7 L168.7,119.1 L169.9,116.7 L171.2,115.8 L172.5,116.0 L173.8,116.1 L175.1,117.9 L176.4,120.3 L177.7,122.1 L179.0,123.5 L180.2,123.4 L181.5,123.7 L182.8,123.3 L184.1,126.6 L185.4,123.4 L186.7,122.0 L188.0,124.4 L189.3,125.1 L190.6,126.1 L191.8,127.3 L193.1,128.8 L194.4,129.9 L195.7,131.6 L197.0,131.7 L198.3,132.3 L199.6,132.7 L200.9,134.6 L202.1,135.0 L203.4,135.9 L204.7,136.2 L206.0,138.9 L207.3,139.0 L208.6,138.9 L209.9,139.9 L211.2,142.1 L212.4,143.8 L213.7,145.0 L215.0,144.9 L216.3,144.5 L217.6,146.8 L218.9,149.1 L220.2,149.6 L221.5,150.6 L222.8,152.9 L224.0,154.5 L225.3,155.0 L226.6,154.9 L227.9,157.6 L229.2,159.3 L230.5,158.9 L231.8,161.3 L233.1,161.4 L234.3,161.9 L235.6,163.5 L236.9,166.1 L238.2,166.9 L239.5,168.3 L240.8,169.0 L242.1,171.4 L243.4,171.0 L244.6,174.8 L245.9,175.6 L247.2,176.5 L248.5,176.5 L249.8,179.1 L251.1,179.7 L252.4,182.0 L253.7,182.3 L255.0,182.0 L256.2,185.1 L257.5,186.3 L258.8,189.2 L260.1,189.2 L261.4,189.5 L262.7,191.8 L264.0,195.0 L265.3,195.5 L266.5,195.3 L267.8,195.5 L269.1,196.3 L270.4,200.2 L271.7,201.2 L273.0,199.6 L274.3,202.3 L275.6,201.3 L276.8,200.2 L278.1,201.4 L279.4,202.0 L280.7,204.4 L282.0,207.0 L283.3,207.4 L284.6,208.1 L285.9,208.7 L287.2,208.4 L288.4,209.7 L289.7,210.4 L291.0,210.8 L292.3,211.9 L293.6,210.7 L294.9,212.1 L296.2,213.6 L297.5,215.1 L298.7,216.6 L300.0,215.1 L301.3,216.1 L302.6,218.2 L303.9,218.9 L305.2,219.0 L306.5,219.6 L307.8,218.4 L309.0,220.6 L310.3,220.0 L311.6,220.4 L312.9,222.3 L314.2,222.1 L315.5,222.4 L316.8,222.1 L318.1,223.3 L319.4,223.2 L320.6,225.7 L321.9,226.5 L323.2,225.0 L324.5,224.1 L325.8,225.2 L327.1,226.6 L328.4,225.6 L329.7,229.1 L329.7,242.6 L328.4,242.9 L327.1,242.3 L325.8,241.6 L324.5,240.4 L323.2,242.9 L321.9,242.9 L320.6,241.9 L319.4,240.2 L318.1,240.7 L316.8,241.0 L315.5,241.2 L314.2,239.1 L312.9,239.7 L311.6,240.5 L310.3,239.6 L309.0,241.6 L307.8,237.5 L306.5,239.0 L305.2,237.0 L303.9,238.2 L302.6,238.0 L301.3,236.7 L300.0,234.8 L298.7,236.4 L297.5,237.1 L296.2,238.1 L294.9,238.4 L293.6,235.8 L292.3,235.0 L291.0,236.0 L289.7,237.2 L288.4,235.5 L287.2,234.8 L285.9,236.9 L284.6,236.6 L283.3,233.9 L282.0,235.0 L280.7,233.1 L279.4,233.4 L278.1,234.7 L276.8,233.1 L275.6,231.5 L274.3,234.3 L273.0,232.2 L271.7,234.1 L270.4,233.8 L269.1,233.1 L267.8,233.2 L266.5,234.3 L265.3,234.0 L264.0,234.4 L262.7,229.7 L261.4,227.3 L260.1,228.9 L258.8,228.1 L257.5,226.0 L256.2,225.1 L255.0,224.7 L253.7,226.2 L252.4,223.2 L251.1,222.2 L249.8,222.8 L248.5,219.5 L247.2,220.0 L245.9,218.3 L244.6,218.4 L243.4,217.1 L242.1,215.0 L240.8,214.7 L239.5,214.5 L238.2,214.7 L236.9,214.9 L235.6,215.2 L234.3,214.1 L233.1,210.5 L231.8,209.6 L230.5,209.5 L229.2,207.4 L227.9,208.0 L226.6,206.2 L225.3,204.2 L224.0,203.2 L222.8,203.4 L221.5,201.8 L220.2,200.9 L218.9,200.0 L217.6,196.6 L216.3,196.6 L215.0,195.8 L213.7,194.4 L212.4,195.1 L211.2,191.6 L209.9,188.8 L208.6,187.8 L207.3,186.5 L206.0,185.7 L204.7,184.4 L203.4,184.7 L202.1,181.9 L200.9,182.2 L199.6,180.7 L198.3,181.2 L197.0,178.9 L195.7,178.7 L194.4,176.9 L193.1,177.8 L191.8,176.0 L190.6,172.9 L189.3,173.7 L188.0,171.2 L186.7,170.9 L185.4,170.4 L184.1,167.9 L182.8,168.6 L181.5,168.0 L180.2,167.9 L179.0,168.5 L177.7,165.4 L176.4,164.6 L175.1,165.0 L173.8,162.6 L172.5,162.2 L171.2,161.1 L169.9,159.4 L168.7,160.5 L167.4,158.6 L166.1,162.7 L164.8,162.5 L163.5,162.7 L162.2,161.5 L160.9,160.3 L159.6,160.5 L158.4,159.8 L157.1,160.4 L155.8,161.7 L154.5,159.7 L153.2,160.9 L151.9,161.0 L150.6,162.3 L149.3,162.7 L148.0,162.3 L146.8,161.3 L145.5,161.9 L144.2,159.7 L142.9,161.6 L141.6,162.9 L140.3,163.1 L139.0,161.8 L137.7,159.6 L136.5,159.6 L135.2,159.5 L133.9,160.3 L132.6,160.9 L131.3,160.2 L130.0,161.3 L128.7,160.7 L127.4,160.9 L126.2,161.4 L124.9,161.3 L123.6,159.9 L122.3,161.1 L121.0,160.5 L119.7,159.0 L118.4,159.3 L117.1,159.5 L115.8,160.0 L114.6,162.0 L113.3,161.4 L112.0,161.0 L110.7,162.5 L109.4,163.3 L108.1,162.8 L106.8,163.1 L105.5,163.6 L104.3,164.6 L103.0,162.7 L101.7,162.3 L100.4,162.5 L99.1,162.2 L97.8,161.8 L96.5,162.0 L95.2,163.1 L94.0,160.3 L92.7,161.0 L91.4,159.4 L90.1,160.6 L88.8,159.1 L87.5,161.0 L86.2,160.8 L84.9,161.5 L83.6,162.8 L82.4,161.8 L81.1,162.2 L79.8,162.2 L78.5,161.4 L77.2,159.9 L75.9,160.9 L74.6,160.6 L73.3,158.4 L72.1,160.7 L70.8,161.0 L69.5,163.5 L68.2,161.4 L66.9,163.3 L65.6,160.4 L64.3,161.3 L63.0,163.9 L61.8,160.4 L60.5,161.7 L59.2,162.2 L57.9,160.9 L56.6,160.9 L55.3,163.9 L54.0,162.1 L52.7,160.4 L51.4,161.0 L50.2,162.3Z" fill="#ffcc00" fill-opacity="0.07" stroke="none"/>
<path d="M50.2,138.6 L51.4,136.5 L52.7,136.1 L54.0,136.9 L55.3,136.4 L56.6,138.2 L57.9,138.2 L59.2,138.4 L60.5,139.3 L61.8,138.2 L63.0,137.8 L64.3,135.7 L65.6,140.2 L66.9,139.3 L68.2,139.1 L69.5,138.4 L70.8,137.0 L72.1,136.2 L73.3,136.3 L74.6,136.8 L75.9,135.9 L77.2,135.6 L78.5,138.0 L79.8,137.3 L81.1,138.2 L82.4,138.4 L83.6,136.8 L84.9,136.1 L86.2,135.7 L87.5,136.6 L88.8,136.2 L90.1,136.8 L91.4,135.5 L92.7,134.5 L94.0,132.7 L95.2,132.3 L96.5,134.5 L97.8,135.2 L99.1,136.0 L100.4,134.9 L101.7,132.4 L103.0,132.5 L104.3,136.0 L105.5,136.6 L106.8,136.9 L108.1,134.8 L109.4,134.4 L110.7,133.8 L112.0,131.7 L113.3,133.7 L114.6,134.6 L115.8,131.8 L117.1,132.2 L118.4,133.7 L119.7,135.9 L121.0,136.3 L122.3,137.6 L123.6,135.2 L124.9,134.0 L126.2,132.2 L127.4,132.7 L128.7,133.5 L130.0,133.9 L131.3,130.9 L132.6,133.7 L133.9,132.8 L135.2,132.5 L136.5,131.6 L137.7,132.2 L139.0,131.3 L140.3,130.4 L141.6,130.9 L142.9,131.5 L144.2,131.3 L145.5,132.0 L146.8,131.3 L148.0,131.0 L149.3,130.1 L150.6,128.2 L151.9,127.2 L153.2,128.6 L154.5,128.0 L155.8,127.9 L157.1,127.2 L158.4,127.6 L159.6,127.4 L160.9,128.1 L162.2,128.7 L163.5,126.9 L164.8,125.4 L166.1,125.3 L167.4,125.4 L168.7,125.5 L169.9,126.5 L171.2,128.9 L172.5,127.4 L173.8,127.3 L175.1,128.4 L176.4,129.5 L177.7,127.6 L179.0,130.4 L180.2,127.8 L181.5,127.9 L182.8,126.1 L184.1,129.0 L185.4,129.8 L186.7,130.9 L188.0,130.9 L189.3,131.4 L190.6,132.5 L191.8,131.0 L193.1,132.6 L194.4,133.3 L195.7,132.5 L197.0,133.6 L198.3,134.1 L199.6,133.6 L200.9,134.4 L202.1,136.3 L203.4,136.5 L204.7,137.2 L206.0,135.7 L207.3,138.8 L208.6,138.3 L209.9,140.7 L211.2,141.8 L212.4,142.8 L213.7,143.0 L215.0,142.9 L216.3,142.3 L217.6,145.2 L218.9,144.9 L220.2,145.6 L221.5,146.6 L222.8,149.4 L224.0,149.3 L225.3,150.9 L226.6,151.7 L227.9,153.2 L229.2,153.4 L230.5,153.4 L231.8,153.8 L233.1,156.1 L234.3,156.3 L235.6,156.3 L236.9,159.6 L238.2,158.9 L239.5,162.3 L240.8,162.3 L242.1,162.6 L243.4,162.3 L244.6,163.9 L245.9,166.1 L247.2,168.1 L248.5,170.1 L249.8,169.1 L251.1,170.3 L252.4,171.9 L253.7,171.8 L255.0,173.7 L256.2,174.7 L257.5,175.7 L258.8,174.2 L260.1,174.1 L261.4,176.4 L262.7,179.7 L264.0,179.7 L265.3,180.4 L266.5,180.8 L267.8,181.3 L269.1,183.0 L270.4,182.9 L271.7,183.4 L273.0,184.8 L274.3,186.8 L275.6,188.3 L276.8,188.1 L278.1,190.6 L279.4,191.2 L280.7,192.7 L282.0,194.7 L283.3,193.7 L284.6,194.5 L285.9,195.3 L287.2,195.1 L288.4,198.3 L289.7,198.7 L291.0,198.9 L292.3,198.9 L293.6,201.6 L294.9,201.3 L296.2,202.2 L297.5,201.7 L298.7,202.1 L300.0,203.2 L301.3,202.2 L302.6,204.5 L303.9,206.5 L305.2,207.7 L306.5,209.3 L307.8,209.4 L309.0,211.9 L310.3,211.3 L311.6,210.8 L312.9,210.1 L314.2,211.7 L315.5,210.7 L316.8,213.0 L318.1,213.8 L319.4,216.6 L320.6,217.0 L321.9,217.5 L323.2,215.4 L324.5,215.8 L325.8,218.2 L327.1,217.8 L328.4,218.0 L329.7,219.2 L329.7,242.9 L328.4,241.9 L327.1,242.9 L325.8,242.0 L324.5,240.8 L323.2,241.2 L321.9,240.7 L320.6,239.6 L319.4,240.5 L318.1,241.6 L316.8,241.7 L315.5,241.3 L314.2,241.4 L312.9,240.4 L311.6,240.1 L310.3,238.6 L309.0,239.6 L307.8,239.6 L306.5,237.7 L305.2,237.8 L303.9,239.1 L302.6,238.2 L301.3,240.4 L300.0,240.0 L298.7,240.6 L297.5,240.8 L296.2,239.0 L294.9,240.8 L293.6,238.4 L292.3,238.7 L291.0,238.2 L289.7,237.5 L288.4,236.0 L287.2,235.9 L285.9,236.1 L284.6,237.5 L283.3,238.0 L282.0,238.7 L280.7,237.3 L279.4,237.1 L278.1,235.5 L276.8,235.3 L275.6,233.9 L274.3,234.5 L273.0,236.2 L271.7,234.4 L270.4,235.1 L269.1,235.4 L267.8,236.3 L266.5,236.1 L265.3,234.5 L264.0,235.0 L262.7,232.7 L261.4,233.4 L260.1,231.0 L258.8,230.8 L257.5,232.3 L256.2,230.6 L255.0,229.1 L253.7,227.9 L252.4,227.5 L251.1,229.8 L249.8,228.3 L248.5,227.1 L247.2,225.7 L245.9,223.8 L244.6,224.1 L243.4,225.6 L242.1,225.5 L240.8,223.9 L239.5,222.7 L238.2,221.5 L236.9,221.0 L235.6,219.5 L234.3,221.0 L233.1,216.5 L231.8,217.1 L230.5,214.2 L229.2,215.4 L227.9,215.8 L226.6,214.1 L225.3,213.7 L224.0,213.3 L222.8,212.2 L221.5,209.9 L220.2,210.5 L218.9,209.6 L217.6,208.5 L216.3,209.3 L215.0,206.9 L213.7,204.5 L212.4,205.1 L211.2,203.7 L209.9,203.0 L208.6,200.2 L207.3,201.5 L206.0,200.9 L204.7,199.0 L203.4,199.0 L202.1,195.5 L200.9,195.9 L199.6,194.9 L198.3,194.0 L197.0,193.6 L195.7,191.9 L194.4,191.2 L193.1,190.8 L191.8,192.6 L190.6,189.2 L189.3,187.8 L188.0,186.7 L186.7,185.5 L185.4,183.7 L184.1,183.6 L182.8,183.6 L181.5,183.6 L180.2,181.7 L179.0,178.4 L177.7,180.6 L176.4,178.0 L175.1,178.4 L173.8,177.4 L172.5,174.7 L171.2,173.9 L169.9,172.5 L168.7,174.1 L167.4,172.2 L166.1,173.7 L164.8,172.8 L163.5,171.3 L162.2,171.4 L160.9,172.2 L159.6,171.9 L158.4,169.0 L157.1,168.7 L155.8,170.0 L154.5,171.3 L153.2,167.6 L151.9,168.0 L150.6,169.0 L149.3,169.6 L148.0,167.9 L146.8,167.5 L145.5,166.5 L144.2,168.2 L142.9,169.0 L141.6,169.7 L140.3,169.7 L139.0,170.5 L137.7,169.2 L136.5,167.2 L135.2,165.7 L133.9,167.2 L132.6,167.1 L131.3,166.8 L130.0,167.0 L128.7,165.5 L127.4,165.6 L126.2,166.1 L124.9,164.6 L123.6,165.2 L122.3,165.0 L121.0,166.2 L119.7,165.0 L118.4,166.8 L117.1,166.7 L115.8,166.6 L114.6,167.1 L113.3,166.1 L112.0,167.5 L110.7,166.7 L109.4,166.6 L108.1,164.9 L106.8,166.1 L105.5,166.2 L104.3,166.0 L103.0,166.7 L101.7,167.4 L100.4,166.7 L99.1,167.6 L97.8,169.5 L96.5,167.4 L95.2,168.0 L94.0,167.4 L92.7,165.5 L91.4,166.8 L90.1,168.2 L88.8,168.1 L87.5,165.3 L86.2,167.2 L84.9,165.0 L83.6,165.2 L82.4,165.2 L81.1,167.9 L79.8,167.2 L78.5,166.5 L77.2,167.8 L75.9,168.2 L74.6,166.7 L73.3,168.0 L72.1,168.9 L70.8,167.3 L69.5,166.6 L68.2,167.2 L66.9,166.9 L65.6,167.4 L64.3,166.3 L63.0,166.4 L61.8,167.6 L60.5,167.6 L59.2,166.4 L57.9,165.1 L56.6,166.3 L55.3,168.5 L54.0,169.6 L52.7,167.9 L51.4,167.5 L50.2,167.1Z" fill="#ff9900" fill-opacity="0.06" stroke="none"/>
<path d="M50.2,140.8 L51.4,142.4 L52.7,140.0 L54.0,142.0 L55.3,140.8 L56.6,139.5 L57.9,141.6 L59.2,139.8 L60.5,141.5 L61.8,143.4 L63.0,141.5 L64.3,140.6 L65.6,141.1 L66.9,143.9 L68.2,142.5 L69.5,142.1 L70.8,141.9 L72.1,141.7 L73.3,143.3 L74.6,142.7 L75.9,139.6 L77.2,138.4 L78.5,139.9 L79.8,141.0 L81.1,140.3 L82.4,139.1 L83.6,138.9 L84.9,140.9 L86.2,140.4 L87.5,140.1 L88.8,138.5 L90.1,137.9 L91.4,138.4 L92.7,137.8 L94.0,139.3 L95.2,137.8 L96.5,139.3 L97.8,139.0 L99.1,138.3 L100.4,140.0 L101.7,140.5 L103.0,142.0 L104.3,140.5 L105.5,140.0 L106.8,140.0 L108.1,139.1 L109.4,141.5 L110.7,140.3 L112.0,139.6 L113.3,139.6 L114.6,138.4 L115.8,136.7 L117.1,138.3 L118.4,139.6 L119.7,139.8 L121.0,139.1 L122.3,138.2 L123.6,139.4 L124.9,137.8 L126.2,139.3 L127.4,137.9 L128.7,137.6 L130.0,137.4 L131.3,135.4 L132.6,137.1 L133.9,137.8 L135.2,137.4 L136.5,136.7 L137.7,138.9 L139.0,138.3 L140.3,139.3 L141.6,138.3 L142.9,137.0 L144.2,138.0 L145.5,138.7 L146.8,138.8 L148.0,142.5 L149.3,140.2 L150.6,139.4 L151.9,139.5 L153.2,140.2 L154.5,141.1 L155.8,140.9 L157.1,139.4 L158.4,140.2 L159.6,139.0 L160.9,142.9 L162.2,142.6 L163.5,141.7 L164.8,141.6 L166.1,143.5 L167.4,143.4 L168.7,141.3 L169.9,143.5 L171.2,145.0 L172.5,146.3 L173.8,146.8 L175.1,146.2 L176.4,146.4 L177.7,149.9 L179.0,148.2 L180.2,150.2 L181.5,151.6 L182.8,150.2 L184.1,152.0 L185.4,154.6 L186.7,155.7 L188.0,156.9 L189.3,158.2 L190.6,158.6 L191.8,157.9 L193.1,158.6 L194.4,161.4 L195.7,158.5 L197.0,161.8 L198.3,162.7 L199.6,163.7 L200.9,163.8 L202.1,165.5 L203.4,165.8 L204.7,164.5 L206.0,166.5 L207.3,169.2 L208.6,169.4 L209.9,171.1 L211.2,171.9 L212.4,172.0 L213.7,172.3 L215.0,173.5 L216.3,173.3 L217.6,174.7 L218.9,177.1 L220.2,176.2 L221.5,177.5 L222.8,176.8 L224.0,178.9 L225.3,179.0 L226.6,179.7 L227.9,183.9 L229.2,185.0 L230.5,185.5 L231.8,183.3 L233.1,186.3 L234.3,185.1 L235.6,184.8 L236.9,185.8 L238.2,186.5 L239.5,188.7 L240.8,189.7 L242.1,190.4 L243.4,191.0 L244.6,191.4 L245.9,193.2 L247.2,195.0 L248.5,196.3 L249.8,196.3 L251.1,199.1 L252.4,200.5 L253.7,200.7 L255.0,201.5 L256.2,202.0 L257.5,205.4 L258.8,205.0 L260.1,205.1 L261.4,204.5 L262.7,207.7 L264.0,208.0 L265.3,207.6 L266.5,207.7 L267.8,206.9 L269.1,206.9 L270.4,209.5 L271.7,209.1 L273.0,210.1 L274.3,211.4 L275.6,209.6 L276.8,211.3 L278.1,212.6 L279.4,213.0 L280.7,213.8 L282.0,212.4 L283.3,212.5 L284.6,211.7 L285.9,212.5 L287.2,214.3 L288.4,213.5 L289.7,215.3 L291.0,216.1 L292.3,216.4 L293.6,216.5 L294.9,215.4 L296.2,217.1 L297.5,217.1 L298.7,217.7 L300.0,219.6 L301.3,220.5 L302.6,220.2 L303.9,219.5 L305.2,219.5 L306.5,219.5 L307.8,220.2 L309.0,221.3 L310.3,221.0 L311.6,222.7 L312.9,224.1 L314.2,223.9 L315.5,225.2 L316.8,225.0 L318.1,225.4 L319.4,225.5 L320.6,225.2 L321.9,226.1 L323.2,226.4 L324.5,228.1 L325.8,227.1 L327.1,227.9 L328.4,227.1 L329.7,230.5 L329.7,242.7 L328.4,242.9 L327.1,240.7 L325.8,242.3 L324.5,242.9 L323.2,242.9 L321.9,242.9 L320.6,242.9 L319.4,242.8 L318.1,241.4 L316.8,242.4 L315.5,242.9 L314.2,242.9 L312.9,242.9 L311.6,242.8 L310.3,242.9 L309.0,240.1 L307.8,242.5 L306.5,241.7 L305.2,242.9 L303.9,242.9 L302.6,242.9 L301.3,242.9 L300.0,242.9 L298.7,242.9 L297.5,242.9 L296.2,242.9 L294.9,242.9 L293.6,242.9 L292.3,242.6 L291.0,242.1 L289.7,242.9 L288.4,242.9 L287.2,242.9 L285.9,242.9 L284.6,241.3 L283.3,241.5 L282.0,240.1 L280.7,241.1 L279.4,242.9 L278.1,242.9 L276.8,242.9 L275.6,242.9 L274.3,242.9 L273.0,242.9 L271.7,242.9 L270.4,242.9 L269.1,241.4 L267.8,242.1 L266.5,242.5 L265.3,242.1 L264.0,242.4 L262.7,240.8 L261.4,242.7 L260.1,242.9 L258.8,242.4 L257.5,239.8 L256.2,239.2 L255.0,238.8 L253.7,238.9 L252.4,237.7 L251.1,238.4 L249.8,237.0 L248.5,239.5 L247.2,236.4 L245.9,237.4 L244.6,236.9 L243.4,235.5 L242.1,238.4 L240.8,235.8 L239.5,234.9 L238.2,235.2 L236.9,234.3 L235.6,232.5 L234.3,231.3 L233.1,230.7 L231.8,229.6 L230.5,230.0 L229.2,227.3 L227.9,226.1 L226.6,226.4 L225.3,225.9 L224.0,224.7 L222.8,224.6 L221.5,223.6 L220.2,220.0 L218.9,218.9 L217.6,220.8 L216.3,220.6 L215.0,218.6 L213.7,218.4 L212.4,219.1 L211.2,217.3 L209.9,216.1 L208.6,213.4 L207.3,212.9 L206.0,212.1 L204.7,212.1 L203.4,211.1 L202.1,210.4 L200.9,209.5 L199.6,208.6 L198.3,207.8 L197.0,209.2 L195.7,206.5 L194.4,204.5 L193.1,207.4 L191.8,207.3 L190.6,206.3 L189.3,206.0 L188.0,204.2 L186.7,202.5 L185.4,200.4 L184.1,201.6 L182.8,201.1 L181.5,200.5 L180.2,201.0 L179.0,197.6 L177.7,195.6 L176.4,197.9 L175.1,195.9 L173.8,194.5 L172.5,192.8 L171.2,191.6 L169.9,190.1 L168.7,190.1 L167.4,190.1 L166.1,188.1 L164.8,189.0 L163.5,189.8 L162.2,192.3 L160.9,193.0 L159.6,193.7 L158.4,189.5 L157.1,191.9 L155.8,190.7 L154.5,190.4 L153.2,192.1 L151.9,189.7 L150.6,192.3 L149.3,194.1 L148.0,194.2 L146.8,192.4 L145.5,191.7 L144.2,189.7 L142.9,191.0 L141.6,192.3 L140.3,193.6 L139.0,190.9 L137.7,192.5 L136.5,193.4 L135.2,191.2 L133.9,191.2 L132.6,189.6 L131.3,188.8 L130.0,189.7 L128.7,190.0 L127.4,190.8 L126.2,189.9 L124.9,194.6 L123.6,194.3 L122.3,192.4 L121.0,192.1 L119.7,192.6 L118.4,192.1 L117.1,193.3 L115.8,192.9 L114.6,193.8 L113.3,193.9 L112.0,189.0 L110.7,183.5 L109.4,180.8 L108.1,174.9 L106.8,171.6 L105.5,169.6 L104.3,170.0 L103.0,167.0 L101.7,166.3 L100.4,166.6 L99.1,166.7 L97.8,167.5 L96.5,170.6 L95.2,170.1 L94.0,168.8 L92.7,169.7 L91.4,169.2 L90.1,168.2 L88.8,167.6 L87.5,169.3 L86.2,168.4 L84.9,168.7 L83.6,169.5 L82.4,170.8 L81.1,168.0 L79.8,167.4 L78.5,167.7 L77.2,168.1 L75.9,167.2 L74.6,168.3 L73.3,168.0 L72.1,166.7 L70.8,166.4 L69.5,167.5 L68.2,167.4 L66.9,168.2 L65.6,167.6 L64.3,167.6 L63.0,167.3 L61.8,168.7 L60.5,167.7 L59.2,168.1 L57.9,169.3 L56.6,167.7 L55.3,168.1 L54.0,169.1 L52.7,170.1 L51.4,167.4 L50.2,168.1Z" fill="#8c564b" fill-opacity="0.05" stroke="none"/>
<path d="M50.2,140.7 L51.4,143.4 L52.7,142.2 L54.0,142.1 L55.3,143.3 L56.6,140.8 L57.9,140.7 L59.2,141.4 L60.5,140.6 L61.8,139.9 L63.0,139.4 L64.3,139.3 L65.6,139.4 L66.9,141.2 L68.2,141.2 L69.5,140.5 L70.8,143.4 L72.1,139.1 L73.3,139.9 L74.6,140.9 L75.9,142.3 L77.2,140.5 L78.5,139.9 L79.8,140.2 L81.1,140.1 L82.4,140.5 L83.6,140.5 L84.9,139.7 L86.2,139.9 L87.5,138.4 L88.8,138.5 L90.1,138.2 L91.4,137.7 L92.7,136.4 L94.0,136.4 L95.2,136.8 L96.5,137.4 L97.8,138.4 L99.1,138.3 L100.4,137.0 L101.7,136.8 L103.0,137.4 L104.3,138.7 L105.5,139.5 L106.8,137.7 L108.1,136.0 L109.4,135.8 L110.7,137.7 L112.0,137.2 L113.3,136.4 L114.6,137.3 L115.8,136.2 L117.1,136.2 L118.4,136.9 L119.7,137.7 L121.0,135.6 L122.3,135.1 L123.6,136.2 L124.9,136.8 L126.2,134.9 L127.4,134.2 L128.7,134.8 L130.0,132.9 L131.3,134.0 L132.6,135.4 L133.9,133.6 L135.2,134.1 L136.5,133.7 L137.7,134.0 L139.0,135.6 L140.3,136.8 L141.6,136.4 L142.9,134.5 L144.2,136.5 L145.5,134.9 L146.8,135.6 L148.0,137.6 L149.3,137.2 L150.6,136.8 L151.9,138.4 L153.2,140.8 L154.5,139.3 L155.8,140.4 L157.1,139.3 L158.4,141.6 L159.6,140.9 L160.9,141.5 L162.2,142.7 L163.5,142.0 L164.8,141.4 L166.1,142.0 L167.4,143.2 L168.7,142.4 L169.9,144.8 L171.2,144.1 L172.5,144.3 L173.8,143.6 L175.1,144.7 L176.4,146.4 L177.7,147.9 L179.0,149.5 L180.2,152.4 L181.5,151.2 L182.8,152.2 L184.1,154.2 L185.4,156.7 L186.7,155.5 L188.0,156.5 L189.3,159.5 L190.6,159.5 L191.8,158.6 L193.1,160.9 L194.4,162.1 L195.7,164.1 L197.0,166.0 L198.3,165.5 L199.6,163.5 L200.9,166.4 L202.1,168.7 L203.4,169.4 L204.7,171.5 L206.0,171.9 L207.3,172.5 L208.6,175.5 L209.9,177.6 L211.2,178.1 L212.4,177.8 L213.7,178.8 L215.0,178.8 L216.3,182.3 L217.6,182.5 L218.9,184.4 L220.2,185.0 L221.5,185.7 L222.8,188.0 L224.0,188.9 L225.3,190.9 L226.6,190.8 L227.9,192.6 L229.2,193.7 L230.5,193.9 L231.8,195.6 L233.1,194.9 L234.3,197.0 L235.6,196.9 L236.9,197.9 L238.2,200.4 L239.5,201.1 L240.8,202.7 L242.1,203.4 L243.4,204.1 L244.6,202.5 L245.9,204.8 L247.2,204.1 L248.5,205.5 L249.8,208.7 L251.1,211.9 L252.4,210.5 L253.7,213.4 L255.0,212.2 L256.2,211.7 L257.5,212.6 L258.8,214.2 L260.1,215.6 L261.4,216.1 L262.7,217.5 L264.0,218.9 L265.3,219.9 L266.5,218.8 L267.8,220.2 L269.1,219.9 L270.4,221.6 L271.7,222.0 L273.0,223.1 L274.3,222.5 L275.6,221.2 L276.8,221.2 L278.1,222.2 L279.4,221.5 L280.7,222.4 L282.0,222.1 L283.3,222.2 L284.6,222.1 L285.9,225.6 L287.2,226.1 L288.4,224.1 L289.7,224.3 L291.0,221.8 L292.3,223.4 L293.6,224.8 L294.9,223.2 L296.2,223.6 L297.5,222.4 L298.7,223.5 L300.0,225.0 L301.3,224.8 L302.6,226.5 L303.9,227.1 L305.2,227.7 L306.5,227.7 L307.8,226.6 L309.0,227.7 L310.3,227.4 L311.6,228.3 L312.9,227.3 L314.2,231.1 L315.5,230.2 L316.8,229.4 L318.1,230.6 L319.4,228.9 L320.6,229.1 L321.9,228.1 L323.2,228.0 L324.5,228.5 L325.8,229.8 L327.1,231.6 L328.4,231.6 L329.7,232.0 L329.7,242.2 L328.4,240.9 L327.1,241.2 L325.8,241.3 L324.5,240.6 L323.2,239.8 L321.9,241.2 L320.6,242.4 L319.4,242.9 L318.1,242.9 L316.8,242.9 L315.5,242.0 L314.2,241.2 L312.9,241.4 L311.6,242.5 L310.3,241.8 L309.0,240.5 L307.8,242.9 L306.5,241.3 L305.2,242.6 L303.9,242.8 L302.6,242.7 L301.3,241.9 L300.0,240.4 L298.7,240.5 L297.5,240.1 L296.2,240.4 L294.9,240.0 L293.6,241.9 L292.3,239.4 L291.0,240.2 L289.7,242.5 L288.4,242.8 L287.2,241.6 L285.9,240.2 L284.6,240.6 L283.3,240.2 L282.0,238.7 L280.7,241.4 L279.4,239.4 L278.1,239.8 L276.8,242.5 L275.6,241.9 L274.3,240.8 L273.0,240.6 L271.7,241.9 L270.4,239.1 L269.1,239.3 L267.8,237.7 L266.5,237.8 L265.3,236.4 L264.0,238.0 L262.7,237.2 L261.4,235.3 L260.1,236.8 L258.8,235.8 L257.5,235.8 L256.2,234.5 L255.0,235.9 L253.7,234.8 L252.4,235.9 L251.1,233.5 L249.8,234.8 L248.5,234.5 L247.2,233.8 L245.9,231.1 L244.6,232.1 L243.4,230.2 L242.1,232.3 L240.8,228.9 L239.5,229.9 L238.2,228.7 L236.9,227.9 L235.6,226.0 L234.3,226.8 L233.1,226.6 L231.8,224.6 L230.5,224.3 L229.2,225.4 L227.9,222.1 L226.6,221.8 L225.3,222.9 L224.0,223.8 L222.8,221.9 L221.5,222.3 L220.2,218.8 L218.9,218.5 L217.6,218.2 L216.3,215.3 L215.0,212.9 L213.7,213.0 L212.4,215.6 L211.2,212.8 L209.9,212.6 L208.6,211.9 L207.3,211.9 L206.0,210.9 L204.7,209.2 L203.4,207.1 L202.1,208.2 L200.9,207.2 L199.6,206.5 L198.3,204.8 L197.0,202.6 L195.7,202.7 L194.4,201.6 L193.1,201.1 L191.8,198.7 L190.6,198.6 L189.3,196.6 L188.0,196.7 L186.7,194.7 L185.4,191.9 L184.1,190.1 L182.8,188.5 L181.5,189.1 L180.2,188.4 L179.0,187.4 L177.7,187.2 L176.4,185.8 L175.1,183.3 L173.8,182.1 L172.5,180.2 L171.2,178.5 L169.9,177.8 L168.7,176.9 L167.4,174.8 L166.1,173.4 L164.8,173.2 L163.5,172.7 L162.2,171.8 L160.9,173.4 L159.6,173.9 L158.4,173.5 L157.1,171.5 L155.8,171.6 L154.5,168.2 L153.2,166.6 L151.9,169.1 L150.6,169.0 L149.3,164.5 L148.0,165.9 L146.8,165.0 L145.5,164.5 L144.2,163.4 L142.9,163.8 L141.6,163.6 L140.3,163.0 L139.0,160.3 L137.7,160.3 L136.5,160.1 L135.2,160.8 L133.9,162.2 L132.6,163.0 L131.3,161.6 L130.0,160.9 L128.7,161.1 L127.4,161.4 L126.2,161.8 L124.9,159.8 L123.6,159.8 L122.3,161.6 L121.0,159.0 L119.7,161.0 L118.4,162.7 L117.1,162.0 L115.8,161.2 L114.6,162.0 L113.3,160.3 L112.0,160.5 L110.7,160.7 L109.4,160.9 L108.1,162.0 L106.8,162.1 L105.5,164.4 L104.3,164.7 L103.0,164.5 L101.7,164.9 L100.4,163.1 L99.1,163.0 L97.8,162.0 L96.5,161.8 L95.2,160.3 L94.0,161.3 L92.7,161.2 L91.4,163.0 L90.1,162.7 L88.8,164.2 L87.5,163.7 L86.2,163.4 L84.9,162.8 L83.6,166.8 L82.4,166.8 L81.1,166.3 L79.8,163.8 L78.5,163.6 L77.2,163.9 L75.9,162.4 L74.6,161.8 L73.3,164.4 L72.1,164.0 L70.8,164.6 L69.5,166.0 L68.2,166.1 L66.9,165.5 L65.6,167.0 L64.3,164.8 L63.0,164.7 L61.8,165.8 L60.5,164.3 L59.2,163.9 L57.9,165.1 L56.6,164.8 L55.3,163.7 L54.0,165.2 L52.7,161.8 L51.4,165.5 L50.2,164.9Z" fill="#8b008b" fill-opacity="0.045" stroke="none"/>
<path d="M50.2,135.7 L51.4,133.3 L52.7,136.4 L54.0,137.6 L55.3,137.6 L56.6,135.7 L57.9,134.1 L59.2,135.0 L60.5,134.3 L61.8,134.6 L63.0,134.4 L64.3,135.1 L65.6,134.9 L66.9,134.7 L68.2,133.2 L69.5,131.2 L70.8,134.7 L72.1,133.7 L73.3,133.8 L74.6,132.7 L75.9,132.0 L77.2,131.9 L78.5,131.7 L79.8,133.6 L81.1,135.3 L82.4,132.3 L83.6,131.3 L84.9,133.1 L86.2,131.5 L87.5,131.3 L88.8,134.7 L90.1,132.5 L91.4,133.5 L92.7,131.5 L94.0,132.5 L95.2,133.1 L96.5,134.2 L97.8,133.2 L99.1,131.2 L100.4,132.1 L101.7,133.8 L103.0,130.1 L104.3,128.5 L105.5,129.0 L106.8,130.5 L108.1,132.0 L109.4,133.2 L110.7,131.2 L112.0,129.4 L113.3,131.0 L114.6,130.6 L115.8,130.7 L117.1,130.6 L118.4,129.7 L119.7,127.3 L121.0,129.2 L122.3,128.4 L123.6,127.6 L124.9,128.8 L126.2,129.1 L127.4,130.6 L128.7,128.5 L130.0,129.3 L131.3,129.7 L132.6,129.1 L133.9,129.7 L135.2,130.2 L136.5,129.6 L137.7,127.0 L139.0,127.4 L140.3,126.6 L141.6,128.2 L142.9,129.4 L144.2,125.5 L145.5,125.9 L146.8,127.2 L148.0,126.0 L149.3,124.4 L150.6,126.1 L151.9,125.8 L153.2,124.1 L154.5,124.4 L155.8,122.4 L157.1,121.1 L158.4,120.8 L159.6,121.4 L160.9,121.1 L162.2,121.4 L163.5,120.8 L164.8,119.8 L166.1,119.8 L167.4,118.2 L168.7,115.3 L169.9,117.8 L171.2,118.5 L172.5,118.6 L173.8,119.2 L175.1,120.8 L176.4,122.1 L177.7,121.4 L179.0,121.8 L180.2,122.4 L181.5,124.4 L182.8,124.1 L184.1,124.1 L185.4,125.5 L186.7,125.5 L188.0,124.1 L189.3,128.3 L190.6,127.8 L191.8,129.9 L193.1,131.5 L194.4,131.3 L195.7,131.1 L197.0,132.5 L198.3,135.4 L199.6,138.0 L200.9,139.0 L202.1,139.7 L203.4,141.7 L204.7,144.3 L206.0,142.6 L207.3,145.6 L208.6,147.0 L209.9,149.0 L211.2,150.8 L212.4,151.7 L213.7,153.4 L215.0,154.2 L216.3,157.8 L217.6,161.0 L218.9,159.7 L220.2,162.4 L221.5,163.8 L222.8,165.1 L224.0,167.5 L225.3,170.3 L226.6,174.6 L227.9,177.8 L229.2,177.5 L230.5,178.7 L231.8,180.5 L233.1,185.0 L234.3,188.3 L235.6,189.0 L236.9,190.1 L238.2,189.6 L239.5,191.3 L240.8,189.7 L242.1,191.9 L243.4,193.5 L244.6,193.3 L245.9,194.3 L247.2,196.7 L248.5,196.5 L249.8,195.7 L251.1,199.5 L252.4,200.8 L253.7,202.9 L255.0,205.5 L256.2,204.4 L257.5,204.3 L258.8,204.5 L260.1,205.8 L261.4,209.7 L262.7,210.0 L264.0,211.4 L265.3,213.2 L266.5,214.2 L267.8,212.5 L269.1,213.1 L270.4,210.9 L271.7,211.7 L273.0,214.9 L274.3,213.5 L275.6,212.6 L276.8,213.6 L278.1,215.7 L279.4,213.5 L280.7,216.1 L282.0,216.2 L283.3,218.4 L284.6,219.0 L285.9,219.9 L287.2,217.3 L288.4,216.1 L289.7,217.5 L291.0,219.4 L292.3,219.0 L293.6,218.5 L294.9,220.5 L296.2,221.3 L297.5,220.7 L298.7,219.5 L300.0,219.9 L301.3,219.8 L302.6,221.8 L303.9,224.4 L305.2,222.7 L306.5,223.3 L307.8,222.9 L309.0,223.2 L310.3,222.5 L311.6,223.7 L312.9,221.9 L314.2,222.8 L315.5,222.9 L316.8,222.9 L318.1,222.6 L319.4,223.4 L320.6,226.4 L321.9,226.7 L323.2,224.2 L324.5,224.7 L325.8,225.0 L327.1,225.4 L328.4,227.0 L329.7,228.1 L329.7,242.9 L328.4,242.9 L327.1,242.9 L325.8,242.3 L324.5,242.2 L323.2,242.9 L321.9,242.9 L320.6,242.9 L319.4,242.9 L318.1,241.9 L316.8,241.3 L315.5,241.7 L314.2,241.0 L312.9,240.0 L311.6,241.5 L310.3,242.1 L309.0,242.0 L307.8,241.6 L306.5,241.2 L305.2,241.9 L303.9,242.0 L302.6,239.5 L301.3,240.6 L300.0,240.3 L298.7,240.2 L297.5,240.4 L296.2,240.6 L294.9,240.7 L293.6,239.8 L292.3,240.3 L291.0,241.7 L289.7,241.6 L288.4,240.3 L287.2,241.4 L285.9,240.4 L284.6,240.2 L283.3,237.5 L282.0,236.2 L280.7,238.4 L279.4,235.0 L278.1,235.5 L276.8,235.3 L275.6,235.7 L274.3,235.8 L273.0,235.2 L271.7,236.5 L270.4,237.0 L269.1,235.8 L267.8,237.7 L266.5,237.0 L265.3,236.4 L264.0,235.8 L262.7,235.2 L261.4,233.5 L260.1,233.2 L258.8,230.4 L257.5,229.9 L256.2,230.0 L255.0,228.2 L253.7,230.0 L252.4,229.3 L251.1,228.3 L249.8,227.7 L248.5,225.6 L247.2,227.2 L245.9,226.9 L244.6,228.0 L243.4,226.8 L242.1,225.5 L240.8,221.8 L239.5,220.6 L238.2,220.1 L236.9,217.7 L235.6,220.3 L234.3,219.7 L233.1,217.8 L231.8,214.5 L230.5,214.3 L229.2,214.8 L227.9,211.8 L226.6,209.0 L225.3,209.5 L224.0,209.0 L222.8,206.2 L221.5,203.9 L220.2,203.1 L218.9,200.5 L217.6,198.6 L216.3,197.1 L215.0,196.2 L213.7,195.1 L212.4,192.6 L211.2,189.7 L209.9,188.9 L208.6,185.0 L207.3,183.2 L206.0,181.3 L204.7,179.9 L203.4,179.4 L202.1,176.4 L200.9,175.7 L199.6,175.9 L198.3,175.8 L197.0,176.5 L195.7,175.1 L194.4,173.1 L193.1,170.0 L191.8,169.2 L190.6,169.4 L189.3,167.1 L188.0,167.5 L186.7,167.1 L185.4,166.4 L184.1,163.0 L182.8,162.9 L181.5,161.7 L180.2,159.8 L179.0,160.3 L177.7,159.9 L176.4,159.5 L175.1,159.7 L173.8,156.6 L172.5,157.1 L171.2,155.2 L169.9,154.2 L168.7,153.7 L167.4,156.4 L166.1,153.7 L164.8,152.3 L163.5,151.3 L162.2,153.7 L160.9,154.9 L159.6,155.8 L158.4,156.0 L157.1,154.6 L155.8,155.2 L154.5,156.2 L153.2,157.8 L151.9,156.0 L150.6,154.3 L149.3,156.5 L148.0,158.5 L146.8,153.9 L145.5,155.1 L144.2,156.2 L142.9,156.6 L141.6,157.5 L140.3,155.9 L139.0,155.8 L137.7,158.5 L136.5,156.7 L135.2,156.3 L133.9,156.5 L132.6,155.5 L131.3,155.5 L130.0,156.4 L128.7,156.9 L127.4,158.5 L126.2,159.1 L124.9,157.3 L123.6,156.3 L122.3,155.3 L121.0,157.6 L119.7,158.0 L118.4,159.7 L117.1,158.0 L115.8,157.4 L114.6,155.3 L113.3,157.6 L112.0,156.6 L110.7,159.2 L109.4,159.0 L108.1,156.6 L106.8,156.8 L105.5,156.2 L104.3,157.7 L103.0,158.4 L101.7,158.4 L100.4,156.1 L99.1,157.5 L97.8,158.1 L96.5,159.1 L95.2,158.3 L94.0,159.6 L92.7,159.9 L91.4,159.0 L90.1,158.9 L88.8,160.3 L87.5,158.7 L86.2,159.0 L84.9,158.2 L83.6,157.8 L82.4,158.0 L81.1,156.9 L79.8,157.2 L78.5,155.5 L77.2,156.6 L75.9,159.1 L74.6,160.1 L73.3,161.2 L72.1,160.5 L70.8,160.9 L69.5,160.9 L68.2,160.1 L66.9,158.7 L65.6,158.8 L64.3,157.8 L63.0,157.1 L61.8,157.8 L60.5,157.3 L59.2,159.5 L57.9,157.1 L56.6,156.1 L55.3,157.4 L54.0,156.8 L52.7,158.4 L51.4,158.4 L50.2,160.1Z" fill="#3399ff" fill-opacity="0.06" stroke="none"/>
<path d="M50.2,153.5 L50.8,153.7 L51.4,153.3 L52.1,153.3 L52.7,153.9 L53.4,155.1 L54.0,155.7 L54.7,155.4 L55.3,156.0 L56.0,154.8 L56.6,155.8 L57.2,157.0 L57.9,156.4 L58.5,157.4 L59.2,155.0 L59.8,155.8 L60.5,155.5 L61.1,155.4 L61.8,155.9 L62.4,157.2 L63.0,158.1 L63.7,156.4 L64.3,155.0 L65.0,153.0 L65.6,154.9 L66.3,154.5 L66.9,154.7 L67.5,154.1 L68.2,154.9 L68.8,154.3 L69.5,153.8 L70.1,153.8 L70.8,153.0 L71.4,153.9 L72.1,153.0 L72.7,154.4 L73.3,153.3 L74.0,156.5 L74.6,156.2 L75.3,156.8 L75.9,156.5 L76.6,155.4 L77.2,154.9 L77.9,155.2 L78.5,153.9 L79.1,155.9 L79.8,156.7 L80.4,155.2 L81.1,155.2 L81.7,157.4 L82.4,156.8 L83.0,157.7 L83.6,156.0 L84.3,155.1 L84.9,156.0 L85.6,155.0 L86.2,156.3 L86.9,155.5 L87.5,155.4 L88.2,155.9 L88.8,157.5 L89.4,157.5 L90.1,159.4 L90.7,159.2 L91.4,160.2 L92.0,158.2 L92.7,158.7 L93.3,160.4 L94.0,158.9 L94.6,158.1 L95.2,158.3 L95.9,156.1 L96.5,155.8 L97.2,156.2 L97.8,157.2 L98.5,160.0 L99.1,158.9 L99.7,157.8 L100.4,158.4 L101.0,159.6 L101.7,159.3 L102.3,160.6 L103.0,160.0 L103.6,158.9 L104.3,157.6 L104.9,157.8 L105.5,158.0 L106.2,157.7 L106.8,157.5 L107.5,159.1 L108.1,161.3 L108.8,162.6 L109.4,164.1 L110.1,165.1 L110.7,165.2 L111.3,165.1 L112.0,165.4 L112.6,165.9 L113.3,166.9 L113.9,167.0 L114.6,166.9 L115.2,167.1 L115.8,166.8 L116.5,167.6 L117.1,168.1 L117.8,166.6 L118.4,166.9 L119.1,166.8 L119.7,167.4 L120.4,166.6 L121.0,167.3 L121.6,168.2 L122.3,168.0 L122.9,168.1 L123.6,167.0 L124.2,167.3 L124.9,167.0 L125.5,167.0 L126.2,166.5 L126.8,167.0 L127.4,165.7 L128.1,167.0 L128.7,167.0 L129.4,167.2 L130.0,166.1 L130.7,165.8 L131.3,165.1 L131.9,165.4 L132.6,165.8 L133.2,166.5 L133.9,166.2 L134.5,166.1 L135.2,165.2 L135.8,164.5 L136.5,163.5 L137.1,163.6 L137.7,164.5 L138.4,165.5 L139.0,165.1 L139.7,164.7 L140.3,162.9 L141.0,163.3 L141.6,162.2 L142.3,161.4 L142.9,163.5 L143.5,162.9 L144.2,162.6 L144.8,162.2 L145.5,163.2 L146.1,163.1 L146.8,164.3 L147.4,164.8 L148.0,165.1 L148.7,163.8 L149.3,164.7 L150.0,164.3 L150.6,165.0 L151.3,166.3 L151.9,166.4 L152.6,166.1 L153.2,167.3 L153.8,167.0 L154.5,168.1 L155.1,169.0 L155.8,168.8 L156.4,169.1 L157.1,170.1 L157.7,171.4 L158.4,171.0 L159.0,170.5 L159.6,170.9 L160.3,170.8 L160.9,172.4 L161.6,171.8 L162.2,171.5 L162.9,171.6 L163.5,172.5 L164.1,172.6 L164.8,172.8 L165.4,172.2 L166.1,172.5 L166.7,172.9 L167.4,174.2 L168.0,173.8 L168.7,173.3 L169.3,174.6 L169.9,174.5 L170.6,174.9 L171.2,175.6 L171.9,177.4 L172.5,175.9 L173.2,178.3 L173.8,178.1 L174.5,178.7 L175.1,177.8 L175.7,178.7 L176.4,179.1 L177.0,179.0 L177.7,179.1 L178.3,180.2 L179.0,180.0 L179.6,180.3 L180.2,180.0 L180.9,181.3 L181.5,181.9 L182.2,182.8 L182.8,183.9 L183.5,183.8 L184.1,183.7 L184.8,182.9 L185.4,184.0 L186.0,184.2 L186.7,183.8 L187.3,184.8 L188.0,185.4 L188.6,185.9 L189.3,187.1 L189.9,188.3 L190.6,187.4 L191.2,187.8 L191.8,188.3 L192.5,189.9 L193.1,189.9 L193.8,189.0 L194.4,190.6 L195.1,191.7 L195.7,190.7 L196.3,189.8 L197.0,189.2 L197.6,190.8 L198.3,191.0 L198.9,192.5 L199.6,192.5 L200.2,193.4 L200.9,193.6 L201.5,192.9 L202.1,193.4 L202.8,194.3 L203.4,194.9 L204.1,195.1 L204.7,196.2 L205.4,196.3 L206.0,196.2 L206.7,195.4 L207.3,198.1 L207.9,199.4 L208.6,200.5 L209.2,199.4 L209.9,197.4 L210.5,198.1 L211.2,198.7 L211.8,198.4 L212.4,201.5 L213.1,201.8 L213.7,204.8 L214.4,204.0 L215.0,204.2 L215.7,204.5 L216.3,204.0 L217.0,204.7 L217.6,203.7 L218.2,204.2 L218.9,204.3 L219.5,202.5 L220.2,204.1 L220.8,204.1 L221.5,205.8 L222.1,205.2 L222.8,205.2 L223.4,206.1 L224.0,206.0 L224.7,205.5 L225.3,205.5 L226.0,206.8 L226.6,207.9 L227.3,207.7 L227.9,210.0 L228.5,210.9 L229.2,210.7 L229.8,210.6 L230.5,209.5 L231.1,208.9 L231.8,209.9 L232.4,210.6 L233.1,212.8 L233.7,213.4 L234.3,213.5 L235.0,214.2 L235.6,214.5 L236.3,214.3 L236.9,215.7 L237.6,216.5 L238.2,218.2 L238.9,216.9 L239.5,218.0 L240.1,219.6 L240.8,218.5 L241.4,218.8 L242.1,218.0 L242.7,218.8 L243.4,217.2 L244.0,217.5 L244.6,218.3 L245.3,219.0 L245.9,219.9 L246.6,219.7 L247.2,218.6 L247.9,220.1 L248.5,221.9 L249.2,221.8 L249.8,221.2 L250.4,223.1 L251.1,223.8 L251.7,224.6 L252.4,223.9 L253.0,223.4 L253.7,224.3 L254.3,225.3 L255.0,224.5 L255.6,226.4 L256.2,225.4 L256.9,225.5 L257.5,223.7 L258.2,223.4 L258.8,224.6 L259.5,225.3 L260.1,225.8 L260.7,226.6 L261.4,226.5 L262.0,225.7 L262.7,227.4 L263.3,227.5 L264.0,226.2 L264.6,225.9 L265.3,227.2 L265.9,228.1 L266.5,228.9 L267.2,230.2 L267.8,228.6 L268.5,228.6 L269.1,229.3 L269.8,230.5 L270.4,230.5 L271.1,230.7 L271.7,228.9 L272.3,229.6 L273.0,229.7 L273.6,228.9 L274.3,228.8 L274.9,229.5 L275.6,231.9 L276.2,230.4 L276.8,230.2 L277.5,230.8 L278.1,231.0 L278.8,231.9 L279.4,232.5 L280.1,233.5 L280.7,232.4 L281.4,231.7 L282.0,231.5 L282.6,230.8 L283.3,230.6 L283.9,230.8 L284.6,231.9 L285.2,231.4 L285.9,230.5 L286.5,230.4 L287.2,229.8 L287.8,230.9 L288.4,232.2 L289.1,231.1 L289.7,232.0 L290.4,231.9 L291.0,232.2 L291.7,232.3 L292.3,232.6 L292.9,233.1 L293.6,234.6 L294.2,232.3 L294.9,232.3 L295.5,234.2 L296.2,234.6 L296.8,235.2 L297.5,235.2 L298.1,236.8 L298.7,235.3 L299.4,233.2 L300.0,233.5 L300.7,232.8 L301.3,232.5 L302.0,233.9 L302.6,232.7 L303.3,234.5 L303.9,234.8 L304.5,234.8 L305.2,233.4 L305.8,233.5 L306.5,233.8 L307.1,234.6 L307.8,234.4 L308.4,234.3 L309.0,233.6 L309.7,232.6 L310.3,232.5 L311.0,233.1 L311.6,233.7 L312.3,232.5 L312.9,233.0 L313.6,233.5 L314.2,232.3 L314.8,231.7 L315.5,232.2 L316.1,233.1 L316.8,234.3 L317.4,233.6 L318.1,234.5 L318.7,233.9 L319.4,235.0 L320.0,235.0 L320.6,234.8 L321.3,234.9 L321.9,234.9 L322.6,234.8 L323.2,236.1 L323.9,237.0 L324.5,236.8 L325.1,234.9 L325.8,235.3 L326.4,236.4 L327.1,236.9 L327.7,236.6 L328.4,235.5 L329.0,236.2 L329.7,235.8 L330.3,235.8" fill="none" stroke="#8c564b" stroke-width="0.51" stroke-dasharray="1.6,1" stroke-linejoin="round" opacity="0.8"/>
<path d="M50.2,144.1 L50.8,144.7 L51.4,144.5 L52.1,144.8 L52.7,143.9 L53.4,145.3 L54.0,143.8 L54.7,143.1 L55.3,142.9 L56.0,142.0 L56.6,142.2 L57.2,144.1 L57.9,143.9 L58.5,143.4 L59.2,144.1 L59.8,144.8 L60.5,144.0 L61.1,143.4 L61.8,143.8 L62.4,143.9 L63.0,144.2 L63.7,144.3 L64.3,144.1 L65.0,143.0 L65.6,144.5 L66.3,144.3 L66.9,142.7 L67.5,142.8 L68.2,142.9 L68.8,142.4 L69.5,143.6 L70.1,144.5 L70.8,145.3 L71.4,145.7 L72.1,144.6 L72.7,143.4 L73.3,143.7 L74.0,144.1 L74.6,143.4 L75.3,142.9 L75.9,142.8 L76.6,144.5 L77.2,144.4 L77.9,145.9 L78.5,144.7 L79.1,144.7 L79.8,144.6 L80.4,142.9 L81.1,141.9 L81.7,142.0 L82.4,142.3 L83.0,142.5 L83.6,143.2 L84.3,143.2 L84.9,141.6 L85.6,142.9 L86.2,143.5 L86.9,143.2 L87.5,142.4 L88.2,142.0 L88.8,143.1 L89.4,143.2 L90.1,143.3 L90.7,144.1 L91.4,143.6 L92.0,143.7 L92.7,142.7 L93.3,142.4 L94.0,143.2 L94.6,143.0 L95.2,143.2 L95.9,143.6 L96.5,143.7 L97.2,142.5 L97.8,142.9 L98.5,144.2 L99.1,144.2 L99.7,143.0 L100.4,141.2 L101.0,142.6 L101.7,143.0 L102.3,143.1 L103.0,144.0 L103.6,143.2 L104.3,143.0 L104.9,142.6 L105.5,140.9 L106.2,141.8 L106.8,141.5 L107.5,141.3 L108.1,142.3 L108.8,142.9 L109.4,141.5 L110.1,141.3 L110.7,141.7 L111.3,142.9 L112.0,142.0 L112.6,141.8 L113.3,140.3 L113.9,140.0 L114.6,140.3 L115.2,140.9 L115.8,141.5 L116.5,142.3 L117.1,142.1 L117.8,142.0 L118.4,141.6 L119.1,141.0 L119.7,141.3 L120.4,142.1 L121.0,141.5 L121.6,140.6 L122.3,141.9 L122.9,141.7 L123.6,141.5 L124.2,141.3 L124.9,141.3 L125.5,141.7 L126.2,141.9 L126.8,140.7 L127.4,139.9 L128.1,141.9 L128.7,143.9 L129.4,142.8 L130.0,143.0 L130.7,143.0 L131.3,143.9 L131.9,142.8 L132.6,142.5 L133.2,142.7 L133.9,141.7 L134.5,139.9 L135.2,139.5 L135.8,139.6 L136.5,140.8 L137.1,140.7 L137.7,141.3 L138.4,140.8 L139.0,141.0 L139.7,141.6 L140.3,141.6 L141.0,142.6 L141.6,142.1 L142.3,141.2 L142.9,142.2 L143.5,142.2 L144.2,143.9 L144.8,143.0 L145.5,142.5 L146.1,143.7 L146.8,142.4 L147.4,142.9 L148.0,144.7 L148.7,145.5 L149.3,144.3 L150.0,144.5 L150.6,143.6 L151.3,145.2 L151.9,145.0 L152.6,144.1 L153.2,144.9 L153.8,144.4 L154.5,144.9 L155.1,144.8 L155.8,144.7 L156.4,143.2 L157.1,145.1 L157.7,144.7 L158.4,144.1 L159.0,145.7 L159.6,145.7 L160.3,144.3 L160.9,144.6 L161.6,148.1 L162.2,148.2 L162.9,149.6 L163.5,149.0 L164.1,149.6 L164.8,150.0 L165.4,150.6 L166.1,150.2 L166.7,150.8 L167.4,151.6 L168.0,151.7 L168.7,151.4 L169.3,152.4 L169.9,151.3 L170.6,152.9 L171.2,152.3 L171.9,152.6 L172.5,151.2 L173.2,152.2 L173.8,152.9 L174.5,153.9 L175.1,151.9 L175.7,151.8 L176.4,153.4 L177.0,153.9 L177.7,154.9 L178.3,153.7 L179.0,153.9 L179.6,156.2 L180.2,155.9 L180.9,155.3 L181.5,155.8 L182.2,155.9 L182.8,156.6 L183.5,156.9 L184.1,157.2 L184.8,158.3 L185.4,158.2 L186.0,158.5 L186.7,159.0 L187.3,159.9 L188.0,160.9 L188.6,160.4 L189.3,159.8 L189.9,162.0 L190.6,162.0 L191.2,160.5 L191.8,160.1 L192.5,161.2 L193.1,160.3 L193.8,161.7 L194.4,162.4 L195.1,160.8 L195.7,161.8 L196.3,162.3 L197.0,163.8 L197.6,164.2 L198.3,164.7 L198.9,164.3 L199.6,165.4 L200.2,164.1 L200.9,164.5 L201.5,165.1 L202.1,165.6 L202.8,164.9 L203.4,164.0 L204.1,165.1 L204.7,164.4 L205.4,164.0 L206.0,164.2 L206.7,165.2 L207.3,167.4 L207.9,167.1 L208.6,167.9 L209.2,168.1 L209.9,169.9 L210.5,169.9 L211.2,169.6 L211.8,170.5 L212.4,170.2 L213.1,169.2 L213.7,169.8 L214.4,171.1 L215.0,169.6 L215.7,172.4 L216.3,173.3 L217.0,172.9 L217.6,173.6 L218.2,175.6 L218.9,174.9 L219.5,174.2 L220.2,175.2 L220.8,174.1 L221.5,174.4 L222.1,174.2 L222.8,176.4 L223.4,176.7 L224.0,175.8 L224.7,175.2 L225.3,175.6 L226.0,177.1 L226.6,178.0 L227.3,179.4 L227.9,179.1 L228.5,180.5 L229.2,181.0 L229.8,183.1 L230.5,184.2 L231.1,182.5 L231.8,183.0 L232.4,183.4 L233.1,185.7 L233.7,185.6 L234.3,184.1 L235.0,186.2 L235.6,188.4 L236.3,188.0 L236.9,188.2 L237.6,188.3 L238.2,189.3 L238.9,190.1 L239.5,190.7 L240.1,189.7 L240.8,189.8 L241.4,189.3 L242.1,190.7 L242.7,190.4 L243.4,191.1 L244.0,191.3 L244.6,190.9 L245.3,191.6 L245.9,192.4 L246.6,194.1 L247.2,193.9 L247.9,193.4 L248.5,194.3 L249.2,194.5 L249.8,196.2 L250.4,197.0 L251.1,196.2 L251.7,195.2 L252.4,196.0 L253.0,197.7 L253.7,197.8 L254.3,199.0 L255.0,198.8 L255.6,197.1 L256.2,197.6 L256.9,198.4 L257.5,198.2 L258.2,199.3 L258.8,199.6 L259.5,200.1 L260.1,200.3 L260.7,202.2 L261.4,201.7 L262.0,201.5 L262.7,204.1 L263.3,206.1 L264.0,206.1 L264.6,204.4 L265.3,204.8 L265.9,204.9 L266.5,205.2 L267.2,205.4 L267.8,207.0 L268.5,208.1 L269.1,208.3 L269.8,208.5 L270.4,208.9 L271.1,209.5 L271.7,210.8 L272.3,210.6 L273.0,211.2 L273.6,211.4 L274.3,214.6 L274.9,213.9 L275.6,216.5 L276.2,216.2 L276.8,217.0 L277.5,217.0 L278.1,217.5 L278.8,217.7 L279.4,217.5 L280.1,217.4 L280.7,218.4 L281.4,220.4 L282.0,220.4 L282.6,219.4 L283.3,220.0 L283.9,219.5 L284.6,219.9 L285.2,220.7 L285.9,219.6 L286.5,218.7 L287.2,219.7 L287.8,220.3 L288.4,220.0 L289.1,221.7 L289.7,222.5 L290.4,221.4 L291.0,221.1 L291.7,222.1 L292.3,223.0 L292.9,222.7 L293.6,224.1 L294.2,224.2 L294.9,224.2 L295.5,226.1 L296.2,224.9 L296.8,224.1 L297.5,223.5 L298.1,225.2 L298.7,226.2 L299.4,226.5 L300.0,227.1 L300.7,224.9 L301.3,226.0 L302.0,226.3 L302.6,226.0 L303.3,225.8 L303.9,224.9 L304.5,226.5 L305.2,225.9 L305.8,226.2 L306.5,227.5 L307.1,227.3 L307.8,228.5 L308.4,226.9 L309.0,227.8 L309.7,227.1 L310.3,226.4 L311.0,227.5 L311.6,228.5 L312.3,228.2 L312.9,229.1 L313.6,228.0 L314.2,228.0 L314.8,228.8 L315.5,229.2 L316.1,228.4 L316.8,229.7 L317.4,227.9 L318.1,228.9 L318.7,229.1 L319.4,229.8 L320.0,228.2 L320.6,227.9 L321.3,227.3 L321.9,227.6 L322.6,228.2 L323.2,227.3 L323.9,227.6 L324.5,228.0 L325.1,228.2 L325.8,228.2 L326.4,228.6 L327.1,229.2 L327.7,230.8 L328.4,228.8 L329.0,230.3 L329.7,232.0 L330.3,231.8" fill="none" stroke="#ff9900" stroke-width="0.595" stroke-dasharray="1.8,1" stroke-linejoin="round" opacity="0.85"/>
<path d="M50.2,149.5 L50.8,149.1 L51.4,150.4 L52.1,150.7 L52.7,151.2 L53.4,153.3 L54.0,153.4 L54.7,152.9 L55.3,151.8 L56.0,153.2 L56.6,155.2 L57.2,156.1 L57.9,155.0 L58.5,154.5 L59.2,154.1 L59.8,153.9 L60.5,154.3 L61.1,155.5 L61.8,154.8 L62.4,154.3 L63.0,153.9 L63.7,153.1 L64.3,154.8 L65.0,157.0 L65.6,158.1 L66.3,155.4 L66.9,156.3 L67.5,155.8 L68.2,155.8 L68.8,155.2 L69.5,152.7 L70.1,154.2 L70.8,155.1 L71.4,156.1 L72.1,156.1 L72.7,155.9 L73.3,156.9 L74.0,155.4 L74.6,154.5 L75.3,154.4 L75.9,154.9 L76.6,155.2 L77.2,156.7 L77.9,155.6 L78.5,156.3 L79.1,156.3 L79.8,154.9 L80.4,155.6 L81.1,155.6 L81.7,154.4 L82.4,152.6 L83.0,153.6 L83.6,152.6 L84.3,153.5 L84.9,153.1 L85.6,152.7 L86.2,153.7 L86.9,152.3 L87.5,150.6 L88.2,150.9 L88.8,150.8 L89.4,151.9 L90.1,149.9 L90.7,150.0 L91.4,151.2 L92.0,150.1 L92.7,151.3 L93.3,151.3 L94.0,152.5 L94.6,150.1 L95.2,147.6 L95.9,148.3 L96.5,148.7 L97.2,148.9 L97.8,148.8 L98.5,147.7 L99.1,146.1 L99.7,147.0 L100.4,146.5 L101.0,148.0 L101.7,146.1 L102.3,146.1 L103.0,146.7 L103.6,145.0 L104.3,145.2 L104.9,144.0 L105.5,143.4 L106.2,142.4 L106.8,143.9 L107.5,144.1 L108.1,143.9 L108.8,144.2 L109.4,142.8 L110.1,144.7 L110.7,144.6 L111.3,144.4 L112.0,147.4 L112.6,148.8 L113.3,150.0 L113.9,150.6 L114.6,150.4 L115.2,151.0 L115.8,151.4 L116.5,152.3 L117.1,152.0 L117.8,151.1 L118.4,150.3 L119.1,151.0 L119.7,150.8 L120.4,151.2 L121.0,150.9 L121.6,151.7 L122.3,150.1 L122.9,149.2 L123.6,149.2 L124.2,149.4 L124.9,149.2 L125.5,149.2 L126.2,149.8 L126.8,147.2 L127.4,143.8 L128.1,145.4 L128.7,146.3 L129.4,145.2 L130.0,144.3 L130.7,145.5 L131.3,147.2 L131.9,146.2 L132.6,147.9 L133.2,146.0 L133.9,146.5 L134.5,146.4 L135.2,146.4 L135.8,147.1 L136.5,147.2 L137.1,147.5 L137.7,146.3 L138.4,146.8 L139.0,147.0 L139.7,147.7 L140.3,148.4 L141.0,148.9 L141.6,148.7 L142.3,147.0 L142.9,146.4 L143.5,146.9 L144.2,146.0 L144.8,146.0 L145.5,146.7 L146.1,147.7 L146.8,149.2 L147.4,149.1 L148.0,149.2 L148.7,150.4 L149.3,150.8 L150.0,148.2 L150.6,147.8 L151.3,147.2 L151.9,147.0 L152.6,147.4 L153.2,146.7 L153.8,145.7 L154.5,146.1 L155.1,145.6 L155.8,144.7 L156.4,145.4 L157.1,145.2 L157.7,146.6 L158.4,146.6 L159.0,147.6 L159.6,147.1 L160.3,148.7 L160.9,147.7 L161.6,149.1 L162.2,150.6 L162.9,152.0 L163.5,151.7 L164.1,153.0 L164.8,151.7 L165.4,151.9 L166.1,153.1 L166.7,156.0 L167.4,157.0 L168.0,158.7 L168.7,161.2 L169.3,161.2 L169.9,159.1 L170.6,160.2 L171.2,159.7 L171.9,159.1 L172.5,160.7 L173.2,161.3 L173.8,161.3 L174.5,161.1 L175.1,162.5 L175.7,162.3 L176.4,163.6 L177.0,163.9 L177.7,166.8 L178.3,168.2 L179.0,169.5 L179.6,170.7 L180.2,171.1 L180.9,173.0 L181.5,171.7 L182.2,174.3 L182.8,175.2 L183.5,176.3 L184.1,177.6 L184.8,180.0 L185.4,182.8 L186.0,184.7 L186.7,185.7 L187.3,186.2 L188.0,186.4 L188.6,186.6 L189.3,188.3 L189.9,189.6 L190.6,188.6 L191.2,189.8 L191.8,191.7 L192.5,190.1 L193.1,191.3 L193.8,192.3 L194.4,191.3 L195.1,192.6 L195.7,193.3 L196.3,192.2 L197.0,193.1 L197.6,190.8 L198.3,191.5 L198.9,189.6 L199.6,190.7 L200.2,191.9 L200.9,193.6 L201.5,194.5 L202.1,195.6 L202.8,196.0 L203.4,195.8 L204.1,197.6 L204.7,198.8 L205.4,200.8 L206.0,199.1 L206.7,199.5 L207.3,199.6 L207.9,199.7 L208.6,198.9 L209.2,199.1 L209.9,198.8 L210.5,199.5 L211.2,200.1 L211.8,200.4 L212.4,202.4 L213.1,201.2 L213.7,202.8 L214.4,203.7 L215.0,202.9 L215.7,203.0 L216.3,202.6 L217.0,201.6 L217.6,200.9 L218.2,200.9 L218.9,202.5 L219.5,201.7 L220.2,203.9 L220.8,204.9 L221.5,204.7 L222.1,205.8 L222.8,206.6 L223.4,207.5 L224.0,207.0 L224.7,210.3 L225.3,209.5 L226.0,209.4 L226.6,210.5 L227.3,210.9 L227.9,212.8 L228.5,212.5 L229.2,210.4 L229.8,212.7 L230.5,212.3 L231.1,213.5 L231.8,214.7 L232.4,215.8 L233.1,216.5 L233.7,218.0 L234.3,219.3 L235.0,217.6 L235.6,218.1 L236.3,218.0 L236.9,218.3 L237.6,218.5 L238.2,220.6 L238.9,221.7 L239.5,221.1 L240.1,220.5 L240.8,222.2 L241.4,223.0 L242.1,224.1 L242.7,223.5 L243.4,223.4 L244.0,223.8 L244.6,224.8 L245.3,224.8 L245.9,225.2 L246.6,226.3 L247.2,226.2 L247.9,227.2 L248.5,226.5 L249.2,226.5 L249.8,227.8 L250.4,227.4 L251.1,227.6 L251.7,228.6 L252.4,229.4 L253.0,230.8 L253.7,231.3 L254.3,230.3 L255.0,228.9 L255.6,229.7 L256.2,229.5 L256.9,229.3 L257.5,228.8 L258.2,228.8 L258.8,228.1 L259.5,228.1 L260.1,229.5 L260.7,229.5 L261.4,232.0 L262.0,231.9 L262.7,231.6 L263.3,231.0 L264.0,231.4 L264.6,230.7 L265.3,229.7 L265.9,231.0 L266.5,231.6 L267.2,231.3 L267.8,230.9 L268.5,231.0 L269.1,230.4 L269.8,231.8 L270.4,231.1 L271.1,230.2 L271.7,229.6 L272.3,229.9 L273.0,230.7 L273.6,230.6 L274.3,231.1 L274.9,232.7 L275.6,233.0 L276.2,232.7 L276.8,233.0 L277.5,233.5 L278.1,233.3 L278.8,233.2 L279.4,232.8 L280.1,232.7 L280.7,232.4 L281.4,231.4 L282.0,231.5 L282.6,231.4 L283.3,232.8 L283.9,235.3 L284.6,234.8 L285.2,233.4 L285.9,233.4 L286.5,233.7 L287.2,234.5 L287.8,233.1 L288.4,233.4 L289.1,232.9 L289.7,231.8 L290.4,231.5 L291.0,229.8 L291.7,230.8 L292.3,230.5 L292.9,230.5 L293.6,231.8 L294.2,232.0 L294.9,232.7 L295.5,233.7 L296.2,233.1 L296.8,233.7 L297.5,232.0 L298.1,232.9 L298.7,233.4 L299.4,233.2 L300.0,233.6 L300.7,233.3 L301.3,233.8 L302.0,234.8 L302.6,236.5 L303.3,236.6 L303.9,234.2 L304.5,233.4 L305.2,233.2 L305.8,233.6 L306.5,233.6 L307.1,233.2 L307.8,234.5 L308.4,234.8 L309.0,235.1 L309.7,233.5 L310.3,234.4 L311.0,233.0 L311.6,233.5 L312.3,231.0 L312.9,231.8 L313.6,232.3 L314.2,231.4 L314.8,231.2 L315.5,231.1 L316.1,232.8 L316.8,232.0 L317.4,230.9 L318.1,231.8 L318.7,232.8 L319.4,234.0 L320.0,233.0 L320.6,232.9 L321.3,233.2 L321.9,234.4 L322.6,232.8 L323.2,232.3 L323.9,232.7 L324.5,231.7 L325.1,233.2 L325.8,232.6 L326.4,233.9 L327.1,232.6 L327.7,233.3 L328.4,232.4 L329.0,233.2 L329.7,233.1 L330.3,232.3" fill="none" stroke="#8b008b" stroke-width="0.85" stroke-dasharray="2,1.2" stroke-linejoin="round" opacity="1.0"/>
<path d="M50.2,147.7 L50.8,147.3 L51.4,147.9 L52.1,146.9 L52.7,147.4 L53.4,147.6 L54.0,147.6 L54.7,146.4 L55.3,147.6 L56.0,147.4 L56.6,147.6 L57.2,147.9 L57.9,148.3 L58.5,148.0 L59.2,147.6 L59.8,148.7 L60.5,148.0 L61.1,148.7 L61.8,148.1 L62.4,146.0 L63.0,147.4 L63.7,147.4 L64.3,147.7 L65.0,146.8 L65.6,147.5 L66.3,148.9 L66.9,149.7 L67.5,148.7 L68.2,148.1 L68.8,147.0 L69.5,147.7 L70.1,147.1 L70.8,148.2 L71.4,147.0 L72.1,147.3 L72.7,148.0 L73.3,147.6 L74.0,146.1 L74.6,147.2 L75.3,148.1 L75.9,148.4 L76.6,148.7 L77.2,147.9 L77.9,147.1 L78.5,146.9 L79.1,146.5 L79.8,145.4 L80.4,145.8 L81.1,146.9 L81.7,148.2 L82.4,147.0 L83.0,146.9 L83.6,146.5 L84.3,145.6 L84.9,145.0 L85.6,146.3 L86.2,146.5 L86.9,145.7 L87.5,145.3 L88.2,144.0 L88.8,144.5 L89.4,146.1 L90.1,144.3 L90.7,145.5 L91.4,145.6 L92.0,144.5 L92.7,144.9 L93.3,142.3 L94.0,142.5 L94.6,142.3 L95.2,142.9 L95.9,141.1 L96.5,141.3 L97.2,142.4 L97.8,141.4 L98.5,143.2 L99.1,143.3 L99.7,142.6 L100.4,142.3 L101.0,143.0 L101.7,141.3 L102.3,140.4 L103.0,141.7 L103.6,141.5 L104.3,142.1 L104.9,142.3 L105.5,141.2 L106.2,141.3 L106.8,141.5 L107.5,141.4 L108.1,142.3 L108.8,140.9 L109.4,141.7 L110.1,140.4 L110.7,141.1 L111.3,141.5 L112.0,140.1 L112.6,140.1 L113.3,140.7 L113.9,140.9 L114.6,140.0 L115.2,138.4 L115.8,138.3 L116.5,139.0 L117.1,140.0 L117.8,140.1 L118.4,139.6 L119.1,138.9 L119.7,139.2 L120.4,137.7 L121.0,138.5 L121.6,138.7 L122.3,137.7 L122.9,137.1 L123.6,137.3 L124.2,136.2 L124.9,137.3 L125.5,135.4 L126.2,133.7 L126.8,132.7 L127.4,133.5 L128.1,132.4 L128.7,133.1 L129.4,132.4 L130.0,133.1 L130.7,133.0 L131.3,132.6 L131.9,134.1 L132.6,133.6 L133.2,131.7 L133.9,134.1 L134.5,132.8 L135.2,131.4 L135.8,131.0 L136.5,130.8 L137.1,129.6 L137.7,129.7 L138.4,131.5 L139.0,131.7 L139.7,131.2 L140.3,130.5 L141.0,130.5 L141.6,130.1 L142.3,128.4 L142.9,131.0 L143.5,129.2 L144.2,128.2 L144.8,127.8 L145.5,127.9 L146.1,127.9 L146.8,127.6 L147.4,127.4 L148.0,128.0 L148.7,127.1 L149.3,127.7 L150.0,127.4 L150.6,127.4 L151.3,128.0 L151.9,126.8 L152.6,126.6 L153.2,127.3 L153.8,126.8 L154.5,127.4 L155.1,125.5 L155.8,125.0 L156.4,123.4 L157.1,124.4 L157.7,124.0 L158.4,125.0 L159.0,125.4 L159.6,125.0 L160.3,124.4 L160.9,123.6 L161.6,124.1 L162.2,123.3 L162.9,122.9 L163.5,124.1 L164.1,124.3 L164.8,125.0 L165.4,123.3 L166.1,124.1 L166.7,123.4 L167.4,122.9 L168.0,123.6 L168.7,124.2 L169.3,123.9 L169.9,124.5 L170.6,125.4 L171.2,125.6 L171.9,124.9 L172.5,124.6 L173.2,123.3 L173.8,125.4 L174.5,124.9 L175.1,126.0 L175.7,124.9 L176.4,124.7 L177.0,125.1 L177.7,124.3 L178.3,125.4 L179.0,126.2 L179.6,127.2 L180.2,127.8 L180.9,127.6 L181.5,127.2 L182.2,126.6 L182.8,127.7 L183.5,128.8 L184.1,129.3 L184.8,129.8 L185.4,130.3 L186.0,130.7 L186.7,131.5 L187.3,131.4 L188.0,131.9 L188.6,132.2 L189.3,133.6 L189.9,133.4 L190.6,133.1 L191.2,133.1 L191.8,134.3 L192.5,135.6 L193.1,136.8 L193.8,137.6 L194.4,138.4 L195.1,139.0 L195.7,141.0 L196.3,140.7 L197.0,142.6 L197.6,143.6 L198.3,144.6 L198.9,144.9 L199.6,144.8 L200.2,147.2 L200.9,149.2 L201.5,151.1 L202.1,152.7 L202.8,153.7 L203.4,152.7 L204.1,155.3 L204.7,156.5 L205.4,158.2 L206.0,158.7 L206.7,160.5 L207.3,161.3 L207.9,163.8 L208.6,163.2 L209.2,165.0 L209.9,168.3 L210.5,168.8 L211.2,170.7 L211.8,172.9 L212.4,172.9 L213.1,174.0 L213.7,173.9 L214.4,175.2 L215.0,175.1 L215.7,176.0 L216.3,176.7 L217.0,177.6 L217.6,178.8 L218.2,179.9 L218.9,180.3 L219.5,180.6 L220.2,182.0 L220.8,181.1 L221.5,181.3 L222.1,184.0 L222.8,184.2 L223.4,185.5 L224.0,186.4 L224.7,188.0 L225.3,187.4 L226.0,189.3 L226.6,190.1 L227.3,191.4 L227.9,190.4 L228.5,190.7 L229.2,193.2 L229.8,194.3 L230.5,194.7 L231.1,195.8 L231.8,196.7 L232.4,198.2 L233.1,198.3 L233.7,200.0 L234.3,200.0 L235.0,199.1 L235.6,201.2 L236.3,201.3 L236.9,202.8 L237.6,204.9 L238.2,206.2 L238.9,207.8 L239.5,208.2 L240.1,208.4 L240.8,208.7 L241.4,210.1 L242.1,212.1 L242.7,212.7 L243.4,212.0 L244.0,213.0 L244.6,214.2 L245.3,216.8 L245.9,217.4 L246.6,217.4 L247.2,218.8 L247.9,218.2 L248.5,219.7 L249.2,221.1 L249.8,222.1 L250.4,222.2 L251.1,221.6 L251.7,222.6 L252.4,224.4 L253.0,224.2 L253.7,223.8 L254.3,223.0 L255.0,224.7 L255.6,223.9 L256.2,224.2 L256.9,224.7 L257.5,226.2 L258.2,227.1 L258.8,227.9 L259.5,226.9 L260.1,227.0 L260.7,226.5 L261.4,225.7 L262.0,226.7 L262.7,227.5 L263.3,226.5 L264.0,228.5 L264.6,229.2 L265.3,229.4 L265.9,229.6 L266.5,229.4 L267.2,230.0 L267.8,228.8 L268.5,230.2 L269.1,230.6 L269.8,231.5 L270.4,231.9 L271.1,230.6 L271.7,229.8 L272.3,230.0 L273.0,229.3 L273.6,229.1 L274.3,230.0 L274.9,230.1 L275.6,229.9 L276.2,228.4 L276.8,229.6 L277.5,229.6 L278.1,229.6 L278.8,229.0 L279.4,229.3 L280.1,229.1 L280.7,230.6 L281.4,230.9 L282.0,232.5 L282.6,231.9 L283.3,229.8 L283.9,230.1 L284.6,230.5 L285.2,230.6 L285.9,230.8 L286.5,232.1 L287.2,232.4 L287.8,232.2 L288.4,231.9 L289.1,232.5 L289.7,232.3 L290.4,232.7 L291.0,233.5 L291.7,233.4 L292.3,233.5 L292.9,232.3 L293.6,231.2 L294.2,231.2 L294.9,231.9 L295.5,232.5 L296.2,233.8 L296.8,233.7 L297.5,232.1 L298.1,231.4 L298.7,231.8 L299.4,232.5 L300.0,232.7 L300.7,232.5 L301.3,232.8 L302.0,232.6 L302.6,233.5 L303.3,233.4 L303.9,233.7 L304.5,232.8 L305.2,234.1 L305.8,232.9 L306.5,233.3 L307.1,233.9 L307.8,233.8 L308.4,233.8 L309.0,234.1 L309.7,233.7 L310.3,234.3 L311.0,235.5 L311.6,234.4 L312.3,234.2 L312.9,232.8 L313.6,233.0 L314.2,235.0 L314.8,233.7 L315.5,234.4 L316.1,233.8 L316.8,232.2 L317.4,232.1 L318.1,233.8 L318.7,234.0 L319.4,235.3 L320.0,234.3 L320.6,233.8 L321.3,234.8 L321.9,234.2 L322.6,233.5 L323.2,233.1 L323.9,234.1 L324.5,234.7 L325.1,235.4 L325.8,236.0 L326.4,235.1 L327.1,234.7 L327.7,233.5 L328.4,233.6 L329.0,234.2 L329.7,235.4 L330.3,233.8" fill="none" stroke="#3399ff" stroke-width="0.85" stroke-dasharray="2,1.2" stroke-linejoin="round" opacity="1.0"/>
<path d="M50.2,144.9 L50.8,144.9 L51.4,145.7 L52.1,146.2 L52.7,145.1 L53.4,145.7 L54.0,144.9 L54.7,144.3 L55.3,144.8 L56.0,146.0 L56.6,145.1 L57.2,143.8 L57.9,144.7 L58.5,145.6 L59.2,144.3 L59.8,144.2 L60.5,144.8 L61.1,143.7 L61.8,144.2 L62.4,143.9 L63.0,144.3 L63.7,144.9 L64.3,144.4 L65.0,145.0 L65.6,146.1 L66.3,145.7 L66.9,144.1 L67.5,143.2 L68.2,141.8 L68.8,141.9 L69.5,141.4 L70.1,142.2 L70.8,143.2 L71.4,143.1 L72.1,144.1 L72.7,143.4 L73.3,143.8 L74.0,143.5 L74.6,144.1 L75.3,143.9 L75.9,142.9 L76.6,143.1 L77.2,143.6 L77.9,143.1 L78.5,142.3 L79.1,142.6 L79.8,143.6 L80.4,144.4 L81.1,144.7 L81.7,142.9 L82.4,142.8 L83.0,142.2 L83.6,141.3 L84.3,141.4 L84.9,141.2 L85.6,141.8 L86.2,143.1 L86.9,142.0 L87.5,141.9 L88.2,141.3 L88.8,142.2 L89.4,141.9 L90.1,140.0 L90.7,141.1 L91.4,141.0 L92.0,139.9 L92.7,140.5 L93.3,140.5 L94.0,142.2 L94.6,140.9 L95.2,141.1 L95.9,139.8 L96.5,140.1 L97.2,140.4 L97.8,139.9 L98.5,140.1 L99.1,140.4 L99.7,139.0 L100.4,138.9 L101.0,139.7 L101.7,139.7 L102.3,139.9 L103.0,140.3 L103.6,141.0 L104.3,141.6 L104.9,141.8 L105.5,142.0 L106.2,142.3 L106.8,143.4 L107.5,143.3 L108.1,142.7 L108.8,143.4 L109.4,143.0 L110.1,142.1 L110.7,141.9 L111.3,142.1 L112.0,141.9 L112.6,142.1 L113.3,140.9 L113.9,141.3 L114.6,142.4 L115.2,142.6 L115.8,141.5 L116.5,140.8 L117.1,140.8 L117.8,141.4 L118.4,140.8 L119.1,140.8 L119.7,140.7 L120.4,139.9 L121.0,140.0 L121.6,139.2 L122.3,139.2 L122.9,138.9 L123.6,138.4 L124.2,136.6 L124.9,135.3 L125.5,134.9 L126.2,135.8 L126.8,135.6 L127.4,134.6 L128.1,134.0 L128.7,135.4 L129.4,134.8 L130.0,134.9 L130.7,133.6 L131.3,133.3 L131.9,134.0 L132.6,132.4 L133.2,133.4 L133.9,131.9 L134.5,133.1 L135.2,133.8 L135.8,132.7 L136.5,134.0 L137.1,134.8 L137.7,133.8 L138.4,134.4 L139.0,134.4 L139.7,135.8 L140.3,134.4 L141.0,134.1 L141.6,134.6 L142.3,134.6 L142.9,135.6 L143.5,136.2 L144.2,137.0 L144.8,135.7 L145.5,134.1 L146.1,133.3 L146.8,132.6 L147.4,132.1 L148.0,133.0 L148.7,133.6 L149.3,132.3 L150.0,131.7 L150.6,130.6 L151.3,130.9 L151.9,131.5 L152.6,130.7 L153.2,131.0 L153.8,131.8 L154.5,131.5 L155.1,131.4 L155.8,131.5 L156.4,131.0 L157.1,129.4 L157.7,127.3 L158.4,127.3 L159.0,129.2 L159.6,129.4 L160.3,130.7 L160.9,131.4 L161.6,132.9 L162.2,133.6 L162.9,135.5 L163.5,134.2 L164.1,135.6 L164.8,135.7 L165.4,136.8 L166.1,137.0 L166.7,138.4 L167.4,138.9 L168.0,138.4 L168.7,138.5 L169.3,140.7 L169.9,140.1 L170.6,141.6 L171.2,141.5 L171.9,140.7 L172.5,141.1 L173.2,141.0 L173.8,140.9 L174.5,140.2 L175.1,139.3 L175.7,138.3 L176.4,138.5 L177.0,137.3 L177.7,138.7 L178.3,137.4 L179.0,138.1 L179.6,137.7 L180.2,138.7 L180.9,139.4 L181.5,140.8 L182.2,140.8 L182.8,139.7 L183.5,140.7 L184.1,141.7 L184.8,142.4 L185.4,142.5 L186.0,143.5 L186.7,144.2 L187.3,144.6 L188.0,144.2 L188.6,144.1 L189.3,145.7 L189.9,146.3 L190.6,146.3 L191.2,145.7 L191.8,145.3 L192.5,146.1 L193.1,144.1 L193.8,144.5 L194.4,143.3 L195.1,142.4 L195.7,141.5 L196.3,141.9 L197.0,141.6 L197.6,143.7 L198.3,145.4 L198.9,145.6 L199.6,144.9 L200.2,144.3 L200.9,145.1 L201.5,145.7 L202.1,147.0 L202.8,147.6 L203.4,151.0 L204.1,152.9 L204.7,154.7 L205.4,156.3 L206.0,155.6 L206.7,157.7 L207.3,159.4 L207.9,160.5 L208.6,160.7 L209.2,162.3 L209.9,162.7 L210.5,163.5 L211.2,165.3 L211.8,168.2 L212.4,169.2 L213.1,170.5 L213.7,169.4 L214.4,170.4 L215.0,171.5 L215.7,171.1 L216.3,171.4 L217.0,172.4 L217.6,171.6 L218.2,171.5 L218.9,172.1 L219.5,173.4 L220.2,174.5 L220.8,176.1 L221.5,175.6 L222.1,175.5 L222.8,176.7 L223.4,177.0 L224.0,174.7 L224.7,177.1 L225.3,179.2 L226.0,178.9 L226.6,179.8 L227.3,180.6 L227.9,180.4 L228.5,181.1 L229.2,181.2 L229.8,182.0 L230.5,182.3 L231.1,183.7 L231.8,186.7 L232.4,186.0 L233.1,188.4 L233.7,188.1 L234.3,188.8 L235.0,190.8 L235.6,191.3 L236.3,191.3 L236.9,193.1 L237.6,193.7 L238.2,195.0 L238.9,196.3 L239.5,197.1 L240.1,196.5 L240.8,196.9 L241.4,198.1 L242.1,199.1 L242.7,199.9 L243.4,200.9 L244.0,201.9 L244.6,204.5 L245.3,204.4 L245.9,206.1 L246.6,208.9 L247.2,208.4 L247.9,209.6 L248.5,209.7 L249.2,210.0 L249.8,210.8 L250.4,210.6 L251.1,211.4 L251.7,212.1 L252.4,213.3 L253.0,213.7 L253.7,214.8 L254.3,214.9 L255.0,214.1 L255.6,214.2 L256.2,215.5 L256.9,218.1 L257.5,218.2 L258.2,218.3 L258.8,217.7 L259.5,220.9 L260.1,221.3 L260.7,222.0 L261.4,221.6 L262.0,223.2 L262.7,223.9 L263.3,222.4 L264.0,222.8 L264.6,225.6 L265.3,225.6 L265.9,224.7 L266.5,225.8 L267.2,225.6 L267.8,226.0 L268.5,227.5 L269.1,227.9 L269.8,226.8 L270.4,226.3 L271.1,227.4 L271.7,226.9 L272.3,228.1 L273.0,228.2 L273.6,228.5 L274.3,229.8 L274.9,229.5 L275.6,229.9 L276.2,232.1 L276.8,232.1 L277.5,232.1 L278.1,232.3 L278.8,232.6 L279.4,232.7 L280.1,234.2 L280.7,232.6 L281.4,232.4 L282.0,232.2 L282.6,232.6 L283.3,232.7 L283.9,233.2 L284.6,234.2 L285.2,235.2 L285.9,234.7 L286.5,233.8 L287.2,233.8 L287.8,232.7 L288.4,234.5 L289.1,234.7 L289.7,235.1 L290.4,234.0 L291.0,233.0 L291.7,234.1 L292.3,233.9 L292.9,234.6 L293.6,235.6 L294.2,235.5 L294.9,236.3 L295.5,234.8 L296.2,234.6 L296.8,234.1 L297.5,234.5 L298.1,236.9 L298.7,235.9 L299.4,235.9 L300.0,237.9 L300.7,237.1 L301.3,236.0 L302.0,234.9 L302.6,236.3 L303.3,235.8 L303.9,235.9 L304.5,236.4 L305.2,236.9 L305.8,236.5 L306.5,236.3 L307.1,236.2 L307.8,236.9 L308.4,238.1 L309.0,236.8 L309.7,236.1 L310.3,237.2 L311.0,237.4 L311.6,236.9 L312.3,238.6 L312.9,237.9 L313.6,236.0 L314.2,236.6 L314.8,237.7 L315.5,236.2 L316.1,237.0 L316.8,237.3 L317.4,238.0 L318.1,238.0 L318.7,239.6 L319.4,240.1 L320.0,240.6 L320.6,239.1 L321.3,239.0 L321.9,238.0 L322.6,239.9 L323.2,239.9 L323.9,238.4 L324.5,239.2 L325.1,240.6 L325.8,240.6 L326.4,240.3 L327.1,239.8 L327.7,238.6 L328.4,237.8 L329.0,237.2 L329.7,237.7 L330.3,238.8" fill="none" stroke="#ffcc00" stroke-width="0.85" stroke-linejoin="round" opacity="1.0"/>
<path d="M50.2,158.0 L50.8,158.5 L51.4,157.7 L52.1,157.2 L52.7,157.3 L53.4,157.8 L54.0,157.4 L54.7,157.3 L55.3,157.3 L56.0,157.8 L56.6,157.6 L57.2,157.7 L57.9,157.3 L58.5,157.1 L59.2,157.0 L59.8,157.3 L60.5,156.6 L61.1,156.6 L61.8,156.3 L62.4,156.3 L63.0,156.4 L63.7,156.5 L64.3,157.1 L65.0,157.8 L65.6,157.8 L66.3,157.2 L66.9,156.7 L67.5,156.7 L68.2,156.7 L68.8,156.0 L69.5,156.5 L70.1,157.3 L70.8,157.7 L71.4,157.4 L72.1,156.8 L72.7,156.4 L73.3,156.6 L74.0,156.2 L74.6,156.4 L75.3,156.7 L75.9,156.7 L76.6,156.3 L77.2,155.9 L77.9,156.5 L78.5,156.8 L79.1,156.5 L79.8,155.5 L80.4,156.2 L81.1,156.7 L81.7,156.3 L82.4,156.0 L83.0,156.2 L83.6,156.1 L84.3,155.9 L84.9,156.6 L85.6,156.3 L86.2,155.9 L86.9,155.5 L87.5,155.1 L88.2,155.4 L88.8,156.1 L89.4,155.4 L90.1,155.2 L90.7,155.6 L91.4,155.1 L92.0,154.9 L92.7,155.2 L93.3,156.2 L94.0,156.0 L94.6,156.1 L95.2,156.1 L95.9,155.8 L96.5,156.0 L97.2,155.5 L97.8,154.6 L98.5,155.3 L99.1,154.8 L99.7,155.1 L100.4,154.8 L101.0,154.9 L101.7,154.4 L102.3,154.8 L103.0,154.5 L103.6,154.9 L104.3,154.7 L104.9,154.7 L105.5,154.2 L106.2,154.9 L106.8,155.3 L107.5,154.4 L108.1,154.2 L108.8,153.6 L109.4,154.3 L110.1,154.2 L110.7,153.9 L111.3,153.3 L112.0,153.6 L112.6,154.0 L113.3,153.7 L113.9,153.8 L114.6,154.1 L115.2,153.6 L115.8,154.4 L116.5,154.4 L117.1,153.4 L117.8,153.6 L118.4,153.5 L119.1,153.2 L119.7,152.6 L120.4,152.5 L121.0,153.0 L121.6,153.0 L122.3,152.4 L122.9,152.5 L123.6,152.6 L124.2,152.1 L124.9,151.7 L125.5,150.9 L126.2,151.7 L126.8,152.0 L127.4,152.1 L128.1,151.8 L128.7,151.8 L129.4,151.2 L130.0,152.2 L130.7,151.3 L131.3,151.3 L131.9,151.2 L132.6,150.7 L133.2,150.4 L133.9,150.7 L134.5,149.9 L135.2,149.6 L135.8,149.8 L136.5,149.6 L137.1,150.0 L137.7,150.2 L138.4,149.9 L139.0,149.3 L139.7,149.1 L140.3,149.2 L141.0,149.5 L141.6,149.7 L142.3,148.5 L142.9,148.1 L143.5,148.3 L144.2,147.6 L144.8,147.3 L145.5,147.4 L146.1,147.4 L146.8,146.7 L147.4,146.5 L148.0,145.8 L148.7,145.8 L149.3,146.0 L150.0,146.1 L150.6,146.1 L151.3,145.7 L151.9,145.3 L152.6,144.9 L153.2,144.6 L153.8,144.9 L154.5,144.7 L155.1,144.8 L155.8,144.2 L156.4,144.4 L157.1,144.2 L157.7,144.1 L158.4,143.8 L159.0,143.3 L159.6,142.1 L160.3,142.0 L160.9,142.3 L161.6,141.9 L162.2,141.1 L162.9,140.5 L163.5,140.2 L164.1,139.2 L164.8,138.8 L165.4,138.8 L166.1,138.3 L166.7,138.8 L167.4,138.5 L168.0,138.5 L168.7,137.9 L169.3,136.9 L169.9,137.0 L170.6,136.1 L171.2,136.4 L171.9,135.5 L172.5,136.1 L173.2,135.9 L173.8,134.9 L174.5,134.6 L175.1,134.2 L175.7,133.9 L176.4,133.5 L177.0,133.2 L177.7,133.2 L178.3,132.8 L179.0,132.3 L179.6,132.2 L180.2,131.5 L180.9,130.2 L181.5,130.4 L182.2,129.9 L182.8,129.3 L183.5,128.5 L184.1,127.8 L184.8,127.4 L185.4,126.7 L186.0,126.0 L186.7,125.4 L187.3,124.1 L188.0,123.6 L188.6,124.0 L189.3,124.2 L189.9,123.2 L190.6,122.9 L191.2,122.7 L191.8,122.7 L192.5,122.2 L193.1,121.6 L193.8,121.4 L194.4,121.0 L195.1,120.1 L195.7,119.5 L196.3,119.1 L197.0,119.0 L197.6,119.3 L198.3,118.4 L198.9,117.5 L199.6,116.9 L200.2,116.6 L200.9,116.6 L201.5,116.5 L202.1,116.5 L202.8,115.9 L203.4,116.0 L204.1,115.1 L204.7,114.9 L205.4,115.2 L206.0,115.1 L206.7,115.6 L207.3,115.4 L207.9,115.1 L208.6,113.7 L209.2,114.0 L209.9,113.5 L210.5,113.4 L211.2,113.3 L211.8,112.9 L212.4,113.7 L213.1,113.0 L213.7,112.1 L214.4,112.2 L215.0,112.4 L215.7,112.4 L216.3,112.1 L217.0,112.4 L217.6,112.3 L218.2,112.0 L218.9,112.2 L219.5,111.9 L220.2,111.8 L220.8,111.5 L221.5,112.0 L222.1,112.1 L222.8,112.0 L223.4,111.3 L224.0,111.3 L224.7,112.1 L225.3,112.4 L226.0,111.3 L226.6,111.3 L227.3,111.9 L227.9,112.1 L228.5,111.9 L229.2,111.2 L229.8,110.7 L230.5,111.2 L231.1,111.5 L231.8,110.8 L232.4,111.5 L233.1,110.9 L233.7,111.3 L234.3,111.8 L235.0,111.7 L235.6,112.1 L236.3,113.0 L236.9,113.9 L237.6,113.9 L238.2,113.8 L238.9,113.6 L239.5,115.1 L240.1,114.6 L240.8,115.0 L241.4,115.1 L242.1,115.7 L242.7,116.5 L243.4,117.1 L244.0,117.7 L244.6,118.7 L245.3,119.4 L245.9,120.2 L246.6,121.3 L247.2,122.7 L247.9,123.9 L248.5,124.2 L249.2,124.7 L249.8,125.6 L250.4,126.9 L251.1,127.3 L251.7,128.4 L252.4,131.9 L253.0,133.7 L253.7,137.0 L254.3,138.6 L255.0,141.3 L255.6,144.1 L256.2,147.4 L256.9,149.7 L257.5,151.1 L258.2,152.9 L258.8,156.0 L259.5,159.8 L260.1,162.7 L260.7,165.5 L261.4,168.1 L262.0,171.1 L262.7,173.8 L263.3,177.4 L264.0,180.8 L264.6,183.3 L265.3,187.2 L265.9,190.0 L266.5,192.1 L267.2,195.3 L267.8,199.2 L268.5,201.7 L269.1,205.7 L269.8,206.9 L270.4,208.6 L271.1,209.5 L271.7,210.8 L272.3,212.5 L273.0,213.6 L273.6,215.1 L274.3,217.3 L274.9,219.1 L275.6,219.3 L276.2,221.1 L276.8,222.3 L277.5,223.8 L278.1,225.3 L278.8,227.2 L279.4,228.2 L280.1,228.7 L280.7,228.9 L281.4,229.8 L282.0,231.1 L282.6,231.9 L283.3,232.3 L283.9,232.7 L284.6,233.0 L285.2,233.8 L285.9,234.3 L286.5,235.0 L287.2,234.6 L287.8,235.2 L288.4,235.6 L289.1,235.8 L289.7,235.8 L290.4,236.7 L291.0,237.2 L291.7,237.5 L292.3,238.5 L292.9,237.9 L293.6,237.8 L294.2,238.2 L294.9,237.2 L295.5,237.6 L296.2,237.6 L296.8,237.9 L297.5,238.5 L298.1,239.6 L298.7,239.1 L299.4,239.3 L300.0,240.0 L300.7,239.9 L301.3,239.7 L302.0,239.4 L302.6,239.6 L303.3,240.0 L303.9,239.7 L304.5,240.1 L305.2,240.2 L305.8,239.8 L306.5,240.5 L307.1,240.2 L307.8,241.0 L308.4,241.0 L309.0,241.2 L309.7,240.9 L310.3,240.3 L311.0,240.4 L311.6,240.0 L312.3,240.1 L312.9,240.3 L313.6,240.1 L314.2,240.3 L314.8,240.3 L315.5,240.0 L316.1,240.4 L316.8,240.0 L317.4,240.6 L318.1,240.7 L318.7,241.3 L319.4,241.2 L320.0,240.4 L320.6,240.3 L321.3,240.0 L321.9,240.8 L322.6,241.2 L323.2,240.8 L323.9,240.5 L324.5,240.3 L325.1,241.1 L325.8,240.8 L326.4,240.9 L327.1,240.8 L327.7,240.7 L328.4,240.9 L329.0,241.6 L329.7,241.7 L330.3,242.0" fill="none" stroke="#ff1493" stroke-width="0.935" stroke-dasharray="2.6,1.2" stroke-linejoin="round" opacity="1.0"/>
<path d="M50.2,145.1 L50.8,144.7 L51.4,143.0 L52.1,143.9 L52.7,144.5 L53.4,145.2 L54.0,146.2 L54.7,145.0 L55.3,144.8 L56.0,144.4 L56.6,144.9 L57.2,143.7 L57.9,144.6 L58.5,143.5 L59.2,143.9 L59.8,142.7 L60.5,143.7 L61.1,142.9 L61.8,142.4 L62.4,142.6 L63.0,141.0 L63.7,141.5 L64.3,142.8 L65.0,142.0 L65.6,143.0 L66.3,143.2 L66.9,142.9 L67.5,142.4 L68.2,140.7 L68.8,143.0 L69.5,142.9 L70.1,141.4 L70.8,141.8 L71.4,141.5 L72.1,140.2 L72.7,142.0 L73.3,141.9 L74.0,141.1 L74.6,142.0 L75.3,143.6 L75.9,143.8 L76.6,142.8 L77.2,142.2 L77.9,140.2 L78.5,139.5 L79.1,141.9 L79.8,140.8 L80.4,140.2 L81.1,139.2 L81.7,140.3 L82.4,141.4 L83.0,141.3 L83.6,139.9 L84.3,139.9 L84.9,138.9 L85.6,139.2 L86.2,140.7 L86.9,142.0 L87.5,139.9 L88.2,142.0 L88.8,142.1 L89.4,142.1 L90.1,142.7 L90.7,142.7 L91.4,142.2 L92.0,139.5 L92.7,140.3 L93.3,141.2 L94.0,141.1 L94.6,140.2 L95.2,141.4 L95.9,141.7 L96.5,143.2 L97.2,141.7 L97.8,140.8 L98.5,139.5 L99.1,141.3 L99.7,139.1 L100.4,139.2 L101.0,140.4 L101.7,141.3 L102.3,141.8 L103.0,143.0 L103.6,141.9 L104.3,142.6 L104.9,143.2 L105.5,142.4 L106.2,142.3 L106.8,143.0 L107.5,143.1 L108.1,143.5 L108.8,142.0 L109.4,141.5 L110.1,142.9 L110.7,143.1 L111.3,141.9 L112.0,142.9 L112.6,141.2 L113.3,141.5 L113.9,141.4 L114.6,144.0 L115.2,142.6 L115.8,142.2 L116.5,141.7 L117.1,141.4 L117.8,141.2 L118.4,142.0 L119.1,141.0 L119.7,141.2 L120.4,142.4 L121.0,143.0 L121.6,142.2 L122.3,141.4 L122.9,143.4 L123.6,144.5 L124.2,142.0 L124.9,141.6 L125.5,138.5 L126.2,140.9 L126.8,141.1 L127.4,141.5 L128.1,140.6 L128.7,139.2 L129.4,138.1 L130.0,140.0 L130.7,138.9 L131.3,140.7 L131.9,140.2 L132.6,140.0 L133.2,139.4 L133.9,140.5 L134.5,139.0 L135.2,139.4 L135.8,139.6 L136.5,139.9 L137.1,140.9 L137.7,139.7 L138.4,139.3 L139.0,139.0 L139.7,137.3 L140.3,139.0 L141.0,139.4 L141.6,139.4 L142.3,138.5 L142.9,138.9 L143.5,138.1 L144.2,138.0 L144.8,140.1 L145.5,140.3 L146.1,141.7 L146.8,140.8 L147.4,140.4 L148.0,139.0 L148.7,138.6 L149.3,138.5 L150.0,137.1 L150.6,136.9 L151.3,138.5 L151.9,138.9 L152.6,138.0 L153.2,136.1 L153.8,136.8 L154.5,137.2 L155.1,136.9 L155.8,136.2 L156.4,136.5 L157.1,136.3 L157.7,136.9 L158.4,137.3 L159.0,137.7 L159.6,136.5 L160.3,136.8 L160.9,135.8 L161.6,135.3 L162.2,134.3 L162.9,137.2 L163.5,137.2 L164.1,137.4 L164.8,136.3 L165.4,134.7 L166.1,131.9 L166.7,131.1 L167.4,130.8 L168.0,131.4 L168.7,132.5 L169.3,132.1 L169.9,134.5 L170.6,132.8 L171.2,132.5 L171.9,131.3 L172.5,131.9 L173.2,132.1 L173.8,131.5 L174.5,130.3 L175.1,129.0 L175.7,128.6 L176.4,127.4 L177.0,126.1 L177.7,126.9 L178.3,126.1 L179.0,126.6 L179.6,125.6 L180.2,123.2 L180.9,123.1 L181.5,120.1 L182.2,119.4 L182.8,118.2 L183.5,118.0 L184.1,116.7 L184.8,115.5 L185.4,115.3 L186.0,115.7 L186.7,115.8 L187.3,113.1 L188.0,113.3 L188.6,113.4 L189.3,113.5 L189.9,114.2 L190.6,113.3 L191.2,111.6 L191.8,111.2 L192.5,110.9 L193.1,109.6 L193.8,108.6 L194.4,108.7 L195.1,107.8 L195.7,108.4 L196.3,106.8 L197.0,107.5 L197.6,107.1 L198.3,106.2 L198.9,106.0 L199.6,106.5 L200.2,103.6 L200.9,102.3 L201.5,104.7 L202.1,104.2 L202.8,105.1 L203.4,104.1 L204.1,104.9 L204.7,103.5 L205.4,102.6 L206.0,100.8 L206.7,100.1 L207.3,101.3 L207.9,100.5 L208.6,101.3 L209.2,101.3 L209.9,101.7 L210.5,103.2 L211.2,101.6 L211.8,103.3 L212.4,102.4 L213.1,101.1 L213.7,100.7 L214.4,102.0 L215.0,101.8 L215.7,100.4 L216.3,99.0 L217.0,98.4 L217.6,101.6 L218.2,101.5 L218.9,102.7 L219.5,102.3 L220.2,104.8 L220.8,106.6 L221.5,107.7 L222.1,110.5 L222.8,112.8 L223.4,115.7 L224.0,115.0 L224.7,117.3 L225.3,118.7 L226.0,119.3 L226.6,120.0 L227.3,118.4 L227.9,119.6 L228.5,121.8 L229.2,121.4 L229.8,121.4 L230.5,121.5 L231.1,122.0 L231.8,121.9 L232.4,123.4 L233.1,124.5 L233.7,126.1 L234.3,128.4 L235.0,128.8 L235.6,128.5 L236.3,129.8 L236.9,132.1 L237.6,134.3 L238.2,137.3 L238.9,140.5 L239.5,141.2 L240.1,144.4 L240.8,145.3 L241.4,147.0 L242.1,147.8 L242.7,149.7 L243.4,150.8 L244.0,152.4 L244.6,155.0 L245.3,155.5 L245.9,155.3 L246.6,155.1 L247.2,155.1 L247.9,158.0 L248.5,160.1 L249.2,160.2 L249.8,161.9 L250.4,160.3 L251.1,162.1 L251.7,165.4 L252.4,166.8 L253.0,166.1 L253.7,169.1 L254.3,169.3 L255.0,171.3 L255.6,169.9 L256.2,171.3 L256.9,173.1 L257.5,175.2 L258.2,175.8 L258.8,178.3 L259.5,178.0 L260.1,175.9 L260.7,177.0 L261.4,178.5 L262.0,180.7 L262.7,181.0 L263.3,182.4 L264.0,184.0 L264.6,183.2 L265.3,184.0 L265.9,186.1 L266.5,185.4 L267.2,186.9 L267.8,187.6 L268.5,188.8 L269.1,188.8 L269.8,189.8 L270.4,191.7 L271.1,192.2 L271.7,193.9 L272.3,194.8 L273.0,194.1 L273.6,196.6 L274.3,198.4 L274.9,199.2 L275.6,200.1 L276.2,199.1 L276.8,201.7 L277.5,199.8 L278.1,199.6 L278.8,201.8 L279.4,202.8 L280.1,204.3 L280.7,204.5 L281.4,204.7 L282.0,205.0 L282.6,205.5 L283.3,204.8 L283.9,206.7 L284.6,207.3 L285.2,208.7 L285.9,209.6 L286.5,210.2 L287.2,211.1 L287.8,211.4 L288.4,213.1 L289.1,213.6 L289.7,214.6 L290.4,216.1 L291.0,216.8 L291.7,217.3 L292.3,217.5 L292.9,219.3 L293.6,219.4 L294.2,220.5 L294.9,221.2 L295.5,220.9 L296.2,220.0 L296.8,220.6 L297.5,222.0 L298.1,223.0 L298.7,222.2 L299.4,224.9 L300.0,223.6 L300.7,225.7 L301.3,226.1 L302.0,225.9 L302.6,226.1 L303.3,224.5 L303.9,224.8 L304.5,225.7 L305.2,225.3 L305.8,226.2 L306.5,227.6 L307.1,226.7 L307.8,225.9 L308.4,225.8 L309.0,228.3 L309.7,226.8 L310.3,228.3 L311.0,228.0 L311.6,227.5 L312.3,226.1 L312.9,229.3 L313.6,230.7 L314.2,229.4 L314.8,229.4 L315.5,230.3 L316.1,233.5 L316.8,232.1 L317.4,232.0 L318.1,234.4 L318.7,230.7 L319.4,233.7 L320.0,233.6 L320.6,233.1 L321.3,232.5 L321.9,231.7 L322.6,232.3 L323.2,233.3 L323.9,233.4 L324.5,235.2 L325.1,235.4 L325.8,232.5 L326.4,233.4 L327.1,233.4 L327.7,231.5 L328.4,231.2 L329.0,232.0 L329.7,231.9 L330.3,232.9" fill="none" stroke="#e8221e" stroke-width="0.85" stroke-linejoin="round" opacity="1.0"/>
<path d="M50.2,133.7 L50.8,132.4 L51.4,132.3 L52.1,130.9 L52.7,131.6 L53.4,131.9 L54.0,131.5 L54.7,131.6 L55.3,131.7 L56.0,132.1 L56.6,131.4 L57.2,130.9 L57.9,129.3 L58.5,129.7 L59.2,131.2 L59.8,130.3 L60.5,128.3 L61.1,129.1 L61.8,129.9 L62.4,129.7 L63.0,131.7 L63.7,130.9 L64.3,130.2 L65.0,130.7 L65.6,129.4 L66.3,129.6 L66.9,130.5 L67.5,130.1 L68.2,128.7 L68.8,126.7 L69.5,126.1 L70.1,126.4 L70.8,127.1 L71.4,127.3 L72.1,126.4 L72.7,126.9 L73.3,126.5 L74.0,125.7 L74.6,126.6 L75.3,126.9 L75.9,126.4 L76.6,126.5 L77.2,126.7 L77.9,127.2 L78.5,127.1 L79.1,125.6 L79.8,125.2 L80.4,127.3 L81.1,127.2 L81.7,127.2 L82.4,127.3 L83.0,128.5 L83.6,128.3 L84.3,128.0 L84.9,128.5 L85.6,128.0 L86.2,130.0 L86.9,130.4 L87.5,129.5 L88.2,128.7 L88.8,128.7 L89.4,128.8 L90.1,128.3 L90.7,127.3 L91.4,126.8 L92.0,127.2 L92.7,127.7 L93.3,126.8 L94.0,126.6 L94.6,126.2 L95.2,126.8 L95.9,127.6 L96.5,127.3 L97.2,127.6 L97.8,126.4 L98.5,125.9 L99.1,127.9 L99.7,126.9 L100.4,125.7 L101.0,125.2 L101.7,126.1 L102.3,126.9 L103.0,125.9 L103.6,125.3 L104.3,125.6 L104.9,126.7 L105.5,127.7 L106.2,126.8 L106.8,127.1 L107.5,127.2 L108.1,126.3 L108.8,125.3 L109.4,127.1 L110.1,127.0 L110.7,125.4 L111.3,125.5 L112.0,125.8 L112.6,125.0 L113.3,125.9 L113.9,126.4 L114.6,125.6 L115.2,123.8 L115.8,123.1 L116.5,123.5 L117.1,122.8 L117.8,123.4 L118.4,124.3 L119.1,125.2 L119.7,124.1 L120.4,122.8 L121.0,122.4 L121.6,122.4 L122.3,122.6 L122.9,121.5 L123.6,121.7 L124.2,122.7 L124.9,121.0 L125.5,121.5 L126.2,120.9 L126.8,120.8 L127.4,119.7 L128.1,119.7 L128.7,118.7 L129.4,118.9 L130.0,119.4 L130.7,119.7 L131.3,118.8 L131.9,119.4 L132.6,118.2 L133.2,118.2 L133.9,118.6 L134.5,118.7 L135.2,118.0 L135.8,116.0 L136.5,115.4 L137.1,115.5 L137.7,116.2 L138.4,114.2 L139.0,114.6 L139.7,114.5 L140.3,114.7 L141.0,113.2 L141.6,113.1 L142.3,113.5 L142.9,113.0 L143.5,113.5 L144.2,113.8 L144.8,113.1 L145.5,114.7 L146.1,112.3 L146.8,110.1 L147.4,111.0 L148.0,110.7 L148.7,111.6 L149.3,110.5 L150.0,109.8 L150.6,108.7 L151.3,109.6 L151.9,109.4 L152.6,109.2 L153.2,108.7 L153.8,106.2 L154.5,106.5 L155.1,106.5 L155.8,106.7 L156.4,105.6 L157.1,103.3 L157.7,102.8 L158.4,102.0 L159.0,103.4 L159.6,102.4 L160.3,102.4 L160.9,101.2 L161.6,100.4 L162.2,100.1 L162.9,101.6 L163.5,100.8 L164.1,100.6 L164.8,99.6 L165.4,99.1 L166.1,97.8 L166.7,98.9 L167.4,98.7 L168.0,97.8 L168.7,96.8 L169.3,96.6 L169.9,95.9 L170.6,95.6 L171.2,94.6 L171.9,94.8 L172.5,94.6 L173.2,96.0 L173.8,97.4 L174.5,97.3 L175.1,95.7 L175.7,96.8 L176.4,95.3 L177.0,94.7 L177.7,94.3 L178.3,94.5 L179.0,94.4 L179.6,93.3 L180.2,93.0 L180.9,92.3 L181.5,91.9 L182.2,90.8 L182.8,89.0 L183.5,88.6 L184.1,88.3 L184.8,88.4 L185.4,87.3 L186.0,87.1 L186.7,87.1 L187.3,85.0 L188.0,84.6 L188.6,85.3 L189.3,84.9 L189.9,82.6 L190.6,82.7 L191.2,83.7 L191.8,84.1 L192.5,82.9 L193.1,82.3 L193.8,82.4 L194.4,82.8 L195.1,82.6 L195.7,81.7 L196.3,82.1 L197.0,82.9 L197.6,84.4 L198.3,83.9 L198.9,82.8 L199.6,82.3 L200.2,83.4 L200.9,82.7 L201.5,81.2 L202.1,81.7 L202.8,80.9 L203.4,79.7 L204.1,78.9 L204.7,80.9 L205.4,82.3 L206.0,81.4 L206.7,80.7 L207.3,81.0 L207.9,81.0 L208.6,81.3 L209.2,80.2 L209.9,82.7 L210.5,82.4 L211.2,83.6 L211.8,84.0 L212.4,85.2 L213.1,85.5 L213.7,85.2 L214.4,85.0 L215.0,83.7 L215.7,84.6 L216.3,84.8 L217.0,85.1 L217.6,85.4 L218.2,84.8 L218.9,85.5 L219.5,85.9 L220.2,86.4 L220.8,86.6 L221.5,86.9 L222.1,86.3 L222.8,86.7 L223.4,87.0 L224.0,87.3 L224.7,87.8 L225.3,89.5 L226.0,89.8 L226.6,92.5 L227.3,93.9 L227.9,94.6 L228.5,96.6 L229.2,98.6 L229.8,101.2 L230.5,101.2 L231.1,102.1 L231.8,102.2 L232.4,103.8 L233.1,104.2 L233.7,103.7 L234.3,104.8 L235.0,106.4 L235.6,108.4 L236.3,108.9 L236.9,109.0 L237.6,109.1 L238.2,110.7 L238.9,111.8 L239.5,112.6 L240.1,113.3 L240.8,113.6 L241.4,113.8 L242.1,112.8 L242.7,114.0 L243.4,114.0 L244.0,116.8 L244.6,116.3 L245.3,116.9 L245.9,117.9 L246.6,119.7 L247.2,121.7 L247.9,122.7 L248.5,125.0 L249.2,129.2 L249.8,132.5 L250.4,133.0 L251.1,135.7 L251.7,137.1 L252.4,140.2 L253.0,143.3 L253.7,144.1 L254.3,144.2 L255.0,144.7 L255.6,145.8 L256.2,146.2 L256.9,146.8 L257.5,148.8 L258.2,150.6 L258.8,152.8 L259.5,153.1 L260.1,153.5 L260.7,154.7 L261.4,155.8 L262.0,156.5 L262.7,157.1 L263.3,157.5 L264.0,158.0 L264.6,158.9 L265.3,159.0 L265.9,160.9 L266.5,161.1 L267.2,161.6 L267.8,163.3 L268.5,164.3 L269.1,164.3 L269.8,164.8 L270.4,166.4 L271.1,167.0 L271.7,166.3 L272.3,166.8 L273.0,168.1 L273.6,168.2 L274.3,170.5 L274.9,171.6 L275.6,171.8 L276.2,173.3 L276.8,175.2 L277.5,175.3 L278.1,176.0 L278.8,180.6 L279.4,182.0 L280.1,184.8 L280.7,186.5 L281.4,188.1 L282.0,186.3 L282.6,188.2 L283.3,189.2 L283.9,190.8 L284.6,192.3 L285.2,193.2 L285.9,193.6 L286.5,193.0 L287.2,194.2 L287.8,194.3 L288.4,196.9 L289.1,198.0 L289.7,199.4 L290.4,201.6 L291.0,199.0 L291.7,201.1 L292.3,202.3 L292.9,204.3 L293.6,205.7 L294.2,207.2 L294.9,206.7 L295.5,207.9 L296.2,208.8 L296.8,209.3 L297.5,211.1 L298.1,211.4 L298.7,212.2 L299.4,212.5 L300.0,213.5 L300.7,214.0 L301.3,214.1 L302.0,214.1 L302.6,215.7 L303.3,215.6 L303.9,217.3 L304.5,218.0 L305.2,218.4 L305.8,218.9 L306.5,221.5 L307.1,222.1 L307.8,222.1 L308.4,221.5 L309.0,222.7 L309.7,221.8 L310.3,224.6 L311.0,225.1 L311.6,225.4 L312.3,226.4 L312.9,227.2 L313.6,227.5 L314.2,229.4 L314.8,229.9 L315.5,230.1 L316.1,230.9 L316.8,233.1 L317.4,233.6 L318.1,233.7 L318.7,234.0 L319.4,233.1 L320.0,233.6 L320.6,231.3 L321.3,231.5 L321.9,233.2 L322.6,233.5 L323.2,232.3 L323.9,232.3 L324.5,233.7 L325.1,233.0 L325.8,233.9 L326.4,232.3 L327.1,233.6 L327.7,233.6 L328.4,233.7 L329.0,234.6 L329.7,234.9 L330.3,234.2" fill="none" stroke="#000080" stroke-width="0.85" stroke-dasharray="2,1.2" stroke-linejoin="round" opacity="1.0"/>
<path d="M50.2,132.9 L50.8,131.6 L51.4,129.8 L52.1,127.0 L52.7,125.4 L53.4,124.1 L54.0,122.9 L54.7,123.0 L55.3,122.1 L56.0,121.7 L56.6,120.3 L57.2,120.2 L57.9,119.1 L58.5,119.3 L59.2,118.6 L59.8,119.6 L60.5,119.7 L61.1,119.4 L61.8,120.0 L62.4,120.3 L63.0,119.7 L63.7,118.7 L64.3,121.0 L65.0,121.7 L65.6,120.9 L66.3,120.2 L66.9,121.0 L67.5,121.0 L68.2,121.3 L68.8,119.6 L69.5,120.5 L70.1,121.9 L70.8,123.1 L71.4,123.6 L72.1,122.2 L72.7,122.8 L73.3,121.5 L74.0,121.9 L74.6,122.5 L75.3,122.8 L75.9,123.1 L76.6,123.3 L77.2,125.0 L77.9,125.9 L78.5,126.6 L79.1,126.7 L79.8,126.3 L80.4,126.8 L81.1,126.5 L81.7,124.1 L82.4,122.3 L83.0,123.4 L83.6,123.0 L84.3,122.9 L84.9,123.3 L85.6,122.2 L86.2,122.0 L86.9,120.3 L87.5,120.4 L88.2,121.1 L88.8,123.4 L89.4,122.7 L90.1,121.5 L90.7,122.0 L91.4,121.1 L92.0,120.6 L92.7,122.3 L93.3,122.0 L94.0,121.4 L94.6,120.7 L95.2,120.8 L95.9,120.9 L96.5,121.2 L97.2,121.4 L97.8,121.2 L98.5,121.9 L99.1,121.0 L99.7,121.2 L100.4,120.2 L101.0,120.2 L101.7,119.3 L102.3,118.7 L103.0,117.6 L103.6,117.1 L104.3,116.2 L104.9,116.3 L105.5,116.1 L106.2,116.0 L106.8,116.5 L107.5,115.7 L108.1,114.1 L108.8,113.1 L109.4,113.7 L110.1,113.6 L110.7,113.3 L111.3,114.8 L112.0,114.5 L112.6,114.4 L113.3,114.1 L113.9,114.4 L114.6,116.2 L115.2,117.7 L115.8,115.4 L116.5,116.0 L117.1,114.1 L117.8,112.6 L118.4,112.3 L119.1,112.7 L119.7,110.7 L120.4,111.0 L121.0,110.8 L121.6,110.6 L122.3,110.1 L122.9,109.8 L123.6,111.5 L124.2,112.4 L124.9,112.1 L125.5,112.1 L126.2,111.6 L126.8,112.1 L127.4,112.6 L128.1,111.2 L128.7,111.0 L129.4,111.1 L130.0,111.4 L130.7,112.3 L131.3,112.1 L131.9,111.7 L132.6,112.1 L133.2,111.9 L133.9,110.7 L134.5,110.9 L135.2,109.4 L135.8,108.3 L136.5,108.0 L137.1,107.7 L137.7,106.5 L138.4,105.7 L139.0,105.0 L139.7,105.7 L140.3,106.2 L141.0,103.4 L141.6,103.6 L142.3,103.2 L142.9,104.0 L143.5,103.4 L144.2,102.8 L144.8,101.0 L145.5,102.4 L146.1,102.0 L146.8,101.0 L147.4,100.3 L148.0,100.0 L148.7,99.4 L149.3,99.9 L150.0,98.5 L150.6,96.8 L151.3,96.5 L151.9,96.7 L152.6,95.3 L153.2,94.9 L153.8,95.7 L154.5,95.7 L155.1,95.6 L155.8,95.0 L156.4,93.5 L157.1,93.9 L157.7,93.5 L158.4,92.9 L159.0,93.4 L159.6,93.0 L160.3,91.7 L160.9,90.4 L161.6,91.8 L162.2,90.4 L162.9,90.2 L163.5,88.7 L164.1,88.1 L164.8,86.6 L165.4,86.8 L166.1,87.3 L166.7,87.8 L167.4,89.7 L168.0,89.6 L168.7,89.9 L169.3,90.2 L169.9,90.4 L170.6,92.0 L171.2,92.2 L171.9,92.3 L172.5,92.0 L173.2,91.5 L173.8,90.7 L174.5,91.2 L175.1,93.4 L175.7,94.0 L176.4,95.3 L177.0,95.1 L177.7,95.4 L178.3,94.5 L179.0,95.0 L179.6,94.5 L180.2,94.6 L180.9,96.7 L181.5,97.3 L182.2,99.0 L182.8,101.3 L183.5,103.0 L184.1,106.9 L184.8,108.8 L185.4,109.4 L186.0,112.4 L186.7,114.1 L187.3,115.9 L188.0,118.2 L188.6,121.0 L189.3,122.9 L189.9,123.9 L190.6,123.1 L191.2,123.6 L191.8,123.8 L192.5,125.7 L193.1,124.8 L193.8,124.4 L194.4,123.3 L195.1,123.9 L195.7,122.9 L196.3,121.8 L197.0,119.9 L197.6,120.5 L198.3,120.6 L198.9,124.7 L199.6,126.5 L200.2,127.7 L200.9,129.3 L201.5,132.0 L202.1,132.6 L202.8,134.0 L203.4,137.2 L204.1,140.1 L204.7,141.8 L205.4,144.2 L206.0,145.9 L206.7,149.3 L207.3,149.9 L207.9,151.0 L208.6,152.0 L209.2,152.6 L209.9,153.2 L210.5,153.2 L211.2,154.0 L211.8,154.4 L212.4,155.9 L213.1,157.6 L213.7,156.8 L214.4,158.7 L215.0,157.9 L215.7,158.6 L216.3,161.9 L217.0,163.2 L217.6,164.4 L218.2,165.2 L218.9,166.3 L219.5,167.8 L220.2,167.7 L220.8,169.3 L221.5,169.4 L222.1,171.2 L222.8,172.6 L223.4,172.2 L224.0,173.6 L224.7,175.5 L225.3,176.2 L226.0,176.0 L226.6,177.0 L227.3,178.3 L227.9,178.2 L228.5,178.2 L229.2,179.4 L229.8,180.5 L230.5,181.4 L231.1,180.1 L231.8,182.0 L232.4,181.9 L233.1,183.7 L233.7,184.8 L234.3,187.7 L235.0,188.1 L235.6,188.8 L236.3,189.7 L236.9,190.7 L237.6,192.4 L238.2,193.9 L238.9,193.8 L239.5,194.7 L240.1,195.1 L240.8,197.1 L241.4,199.4 L242.1,201.8 L242.7,202.0 L243.4,205.7 L244.0,208.5 L244.6,211.0 L245.3,214.1 L245.9,216.8 L246.6,216.3 L247.2,216.3 L247.9,217.2 L248.5,215.6 L249.2,216.8 L249.8,217.6 L250.4,219.2 L251.1,218.6 L251.7,217.8 L252.4,219.0 L253.0,218.0 L253.7,219.4 L254.3,220.5 L255.0,220.3 L255.6,220.8 L256.2,220.0 L256.9,220.9 L257.5,220.4 L258.2,222.2 L258.8,221.8 L259.5,220.9 L260.1,221.5 L260.7,221.6 L261.4,221.1 L262.0,222.7 L262.7,224.0 L263.3,223.8 L264.0,223.7 L264.6,224.2 L265.3,225.2 L265.9,224.3 L266.5,225.8 L267.2,226.2 L267.8,226.4 L268.5,226.1 L269.1,227.0 L269.8,228.0 L270.4,226.5 L271.1,228.0 L271.7,227.8 L272.3,228.6 L273.0,229.3 L273.6,229.5 L274.3,229.8 L274.9,229.6 L275.6,231.9 L276.2,231.3 L276.8,230.9 L277.5,231.6 L278.1,231.7 L278.8,229.6 L279.4,228.8 L280.1,229.4 L280.7,230.2 L281.4,231.2 L282.0,230.6 L282.6,231.8 L283.3,232.9 L283.9,232.5 L284.6,233.6 L285.2,234.3 L285.9,233.0 L286.5,234.8 L287.2,234.7 L287.8,234.6 L288.4,234.6 L289.1,236.0 L289.7,236.0 L290.4,236.0 L291.0,234.3 L291.7,234.1 L292.3,235.4 L292.9,234.9 L293.6,234.8 L294.2,235.5 L294.9,236.0 L295.5,236.4 L296.2,237.7 L296.8,237.8 L297.5,236.7 L298.1,235.6 L298.7,234.7 L299.4,236.0 L300.0,236.0 L300.7,238.5 L301.3,238.3 L302.0,239.1 L302.6,237.9 L303.3,239.2 L303.9,239.6 L304.5,239.9 L305.2,239.0 L305.8,238.1 L306.5,239.0 L307.1,237.5 L307.8,237.9 L308.4,239.0 L309.0,238.7 L309.7,238.9 L310.3,238.3 L311.0,238.4 L311.6,237.0 L312.3,236.9 L312.9,238.4 L313.6,238.1 L314.2,238.0 L314.8,239.3 L315.5,239.9 L316.1,240.4 L316.8,242.0 L317.4,240.5 L318.1,240.3 L318.7,239.0 L319.4,239.7 L320.0,239.6 L320.6,239.1 L321.3,238.6 L321.9,238.8 L322.6,240.0 L323.2,238.2 L323.9,238.2 L324.5,237.8 L325.1,237.4 L325.8,237.3 L326.4,238.1 L327.1,238.5 L327.7,238.6 L328.4,240.4 L329.0,239.7 L329.7,240.7 L330.3,240.2" fill="none" stroke="#000000" stroke-width="0.85" stroke-linejoin="round" opacity="1.0"/>
<path d="M396.3,127.5 L398.5,86.8 L400.7,85.0 L402.9,79.8 L405.1,79.1 L407.3,77.4 L409.5,77.0 L411.7,74.9 L413.9,72.5 L416.1,70.5 L418.3,69.0 L420.4,68.3 L422.6,65.3 L424.8,64.3 L427.0,63.4 L429.2,60.7 L431.4,59.9 L433.6,58.5 L435.8,57.9 L438.0,57.6 L440.2,56.2 L442.4,55.8 L444.6,55.9 L446.8,53.8 L449.0,53.2 L451.2,54.0 L453.4,53.0 L455.6,51.6 L457.8,50.5 L460.0,49.8 L462.2,49.4 L464.4,48.6 L466.5,49.4 L468.7,49.9 L470.9,48.4 L473.1,73.0 L475.3,78.1 L477.5,82.5 L479.7,86.0 L481.9,88.7 L484.1,94.0 L486.3,98.0 L488.5,100.6 L490.7,105.9 L492.9,109.7 L495.1,110.9 L497.3,114.4 L499.5,118.1 L501.7,119.5 L503.9,122.4 L506.1,125.1 L508.3,129.6 L510.4,133.6 L512.6,137.3 L514.8,140.1 L517.0,146.2 L519.2,149.9 L521.4,152.1 L523.6,156.9 L525.8,160.5 L528.0,164.0 L530.2,167.4 L532.4,172.6 L534.6,178.3 L536.8,179.3 L539.0,185.7 L541.2,188.4 L543.4,196.1 L545.6,200.0 L547.8,204.1 L550.0,205.7 L552.2,208.4 L554.4,212.9 L556.5,219.5 L558.7,224.5 L560.9,228.9 L563.1,232.7 L565.3,235.6 L567.5,240.2 L569.7,243.7 L572.7,242.9 L570.5,241.5 L568.2,242.9 L566.0,242.5 L563.8,241.8 L561.5,241.0 L559.3,242.2 L557.1,240.7 L554.8,237.7 L552.6,238.0 L550.4,237.3 L548.1,238.2 L545.9,237.4 L543.7,235.7 L541.4,235.1 L539.2,234.9 L537.0,234.1 L534.7,231.2 L532.5,230.5 L530.3,228.6 L528.0,227.2 L525.8,224.7 L523.6,224.6 L521.4,223.2 L519.1,221.3 L516.9,219.4 L514.7,220.2 L512.4,217.2 L510.2,214.0 L508.0,211.8 L505.7,210.7 L503.5,208.9 L501.3,207.0 L499.0,204.3 L496.8,202.2 L494.6,200.8 L492.3,199.6 L490.1,197.2 L487.9,193.9 L485.6,190.0 L483.4,187.5 L481.2,188.0 L478.9,187.4 L476.7,187.2 L474.5,185.5 L472.2,182.5 L470.0,182.4 L467.8,181.3 L465.5,180.0 L463.3,178.6 L461.1,175.8 L458.8,173.1 L456.6,172.2 L454.4,171.9 L452.1,172.7 L449.9,170.5 L447.7,168.8 L445.4,167.2 L443.2,165.7 L441.0,166.0 L438.7,164.4 L436.5,165.8 L434.3,163.9 L432.0,163.9 L429.8,163.8 L427.6,163.4 L425.3,160.0 L423.1,159.7 L420.9,160.6 L418.6,159.8 L416.4,157.2 L414.2,157.7 L411.9,156.6 L409.7,158.4 L407.5,157.2 L405.2,158.9 L403.0,157.8 L400.8,153.6 L398.5,146.7 L396.3,144.1Z" fill="#000000" fill-opacity="0.052" stroke="none"/>
<path d="M396.3,110.7 L398.8,111.1 L401.2,109.2 L403.7,104.9 L406.1,101.8 L408.6,103.0 L411.1,103.6 L413.5,100.2 L416.0,100.7 L418.4,101.4 L420.9,97.6 L423.4,96.1 L425.8,94.5 L428.3,89.6 L430.7,88.0 L433.2,86.4 L435.7,82.9 L438.1,80.3 L440.6,76.2 L443.0,74.0 L445.5,69.9 L448.0,66.8 L450.4,63.1 L452.9,60.5 L455.3,59.0 L457.8,55.9 L460.3,52.9 L462.7,53.3 L465.2,53.1 L467.6,50.4 L470.1,51.0 L472.6,48.7 L475.0,47.0 L477.5,44.0 L479.9,43.3 L482.4,40.9 L484.9,39.6 L487.3,38.7 L489.8,38.9 L492.2,40.5 L494.7,38.6 L497.2,39.1 L499.6,38.1 L502.1,36.7 L504.5,35.3 L507.0,35.7 L509.5,35.3 L511.9,38.7 L514.4,38.3 L516.8,42.2 L519.3,44.7 L521.8,47.7 L524.2,47.9 L526.7,49.5 L529.1,51.2 L531.6,51.1 L534.1,53.2 L536.5,56.1 L539.0,58.0 L541.4,57.7 L543.9,68.8 L546.4,76.9 L548.8,84.7 L551.3,92.1 L553.7,101.7 L556.2,108.0 L558.7,113.4 L561.1,120.1 L563.6,122.5 L566.0,132.0 L568.5,141.6 L571.0,147.4 L573.4,154.6 L575.9,163.7 L578.3,173.1 L580.8,185.2 L583.3,201.6 L585.7,213.1 L588.2,225.2 L590.6,242.4 L590.6,242.9 L588.2,242.9 L585.7,242.6 L583.3,240.5 L580.8,241.1 L578.3,240.3 L575.9,240.7 L573.4,237.8 L571.0,236.8 L568.5,234.6 L566.0,231.7 L563.6,230.6 L561.1,228.7 L558.7,228.1 L556.2,227.7 L553.7,226.2 L551.3,223.5 L548.8,219.7 L546.4,220.6 L543.9,218.0 L541.4,216.7 L539.0,215.7 L536.5,209.7 L534.1,209.3 L531.6,205.2 L529.1,202.7 L526.7,201.1 L524.2,199.3 L521.8,198.0 L519.3,195.7 L516.8,193.7 L514.4,190.5 L511.9,187.9 L509.5,185.3 L507.0,182.0 L504.5,178.8 L502.1,179.0 L499.6,180.2 L497.2,176.7 L494.7,170.3 L492.2,169.2 L489.8,167.0 L487.3,164.1 L484.9,164.1 L482.4,164.7 L479.9,163.9 L477.5,160.8 L475.0,160.9 L472.6,158.4 L470.1,159.6 L467.6,159.3 L465.2,156.4 L462.7,155.4 L460.3,152.4 L457.8,151.7 L455.3,152.0 L452.9,150.4 L450.4,149.8 L448.0,150.9 L445.5,147.9 L443.0,145.9 L440.6,145.7 L438.1,146.2 L435.7,144.9 L433.2,146.9 L430.7,145.3 L428.3,145.5 L425.8,145.5 L423.4,144.3 L420.9,143.4 L418.4,141.9 L416.0,141.7 L413.5,141.7 L411.1,142.9 L408.6,142.8 L406.1,141.0 L403.7,141.1 L401.2,141.2 L398.8,140.8 L396.3,142.1Z" fill="#000080" fill-opacity="0.058" stroke="none"/>
<path d="M403.8,130.6 L407.0,130.6 L410.2,129.2 L413.5,129.2 L416.7,126.6 L420.0,124.6 L423.2,123.9 L426.4,123.2 L429.7,123.2 L432.9,122.8 L436.1,121.2 L439.4,120.7 L442.6,119.8 L445.8,116.6 L449.1,114.2 L452.3,112.5 L455.6,111.1 L458.8,108.6 L462.0,107.0 L465.3,105.0 L468.5,102.3 L471.7,99.4 L475.0,96.9 L478.2,96.2 L481.4,92.8 L484.7,92.8 L487.9,89.9 L491.1,84.7 L494.4,79.2 L497.6,77.3 L500.9,75.1 L504.1,72.4 L507.3,70.5 L510.6,68.7 L513.8,67.4 L517.0,66.5 L520.3,63.1 L523.5,63.4 L526.7,60.2 L530.0,59.0 L533.2,57.4 L536.5,57.2 L539.7,60.1 L542.9,64.9 L546.2,67.4 L549.4,66.7 L552.6,65.4 L555.9,68.0 L559.1,69.4 L562.3,72.1 L565.6,73.2 L568.8,70.5 L572.0,74.0 L575.3,84.4 L578.5,85.5 L581.8,90.0 L585.0,94.9 L588.2,102.0 L591.5,107.7 L594.7,111.3 L597.9,117.4 L601.2,123.0 L604.4,129.2 L607.6,132.4 L610.9,135.7 L614.1,141.5 L617.4,147.1 L620.6,153.8 L623.8,161.4 L627.1,167.9 L630.3,172.5 L633.5,179.6 L636.8,185.5 L640.0,192.5 L643.2,199.5 L646.5,205.6 L649.7,212.0 L652.9,217.6 L656.2,224.8 L659.4,240.9 L659.4,240.4 L656.2,240.9 L652.9,242.3 L649.7,242.9 L646.5,242.9 L643.2,242.6 L640.0,242.9 L636.8,242.9 L633.5,242.2 L630.3,242.9 L627.1,241.2 L623.8,242.8 L620.6,242.3 L617.4,242.7 L614.1,242.9 L610.9,242.9 L607.6,242.9 L604.4,242.9 L601.2,242.9 L597.9,242.8 L594.7,242.9 L591.5,241.2 L588.2,237.0 L585.0,237.1 L581.8,236.1 L578.5,231.3 L575.3,229.2 L572.0,227.3 L568.8,222.4 L565.6,219.6 L562.3,214.2 L559.1,213.6 L555.9,209.5 L552.6,209.3 L549.4,203.0 L546.2,198.6 L542.9,197.0 L539.7,196.3 L536.5,193.8 L533.2,188.8 L530.0,185.9 L526.7,182.3 L523.5,179.9 L520.3,177.3 L517.0,173.5 L513.8,170.6 L510.6,168.2 L507.3,167.4 L504.1,165.5 L500.9,163.2 L497.6,159.8 L494.4,159.9 L491.1,157.0 L487.9,156.1 L484.7,155.7 L481.4,156.2 L478.2,155.7 L475.0,153.8 L471.7,155.4 L468.5,156.1 L465.3,156.5 L462.0,155.9 L458.8,155.9 L455.6,154.7 L452.3,152.9 L449.1,155.6 L445.8,154.7 L442.6,155.4 L439.4,157.1 L436.1,156.8 L432.9,157.9 L429.7,157.4 L426.4,156.9 L423.2,155.5 L420.0,156.4 L416.7,157.2 L413.5,155.2 L410.2,158.5 L407.0,159.3 L403.8,156.7Z" fill="#e8221e" fill-opacity="0.045" stroke="none"/>
<path d="M394.8,133.6 L396.5,133.3 L398.2,134.1 L400.0,130.4 L401.7,128.0 L403.4,131.0 L405.1,128.6 L406.9,128.0 L408.6,126.4 L410.3,125.6 L412.0,125.4 L413.7,124.6 L415.5,123.9 L417.2,121.7 L418.9,121.8 L420.6,121.8 L422.4,119.9 L424.1,118.6 L425.8,117.8 L427.5,117.3 L429.2,115.4 L431.0,114.6 L432.7,114.9 L434.4,115.3 L436.1,114.1 L437.9,116.2 L439.6,115.3 L441.3,114.9 L443.0,113.3 L444.7,112.9 L446.5,109.1 L448.2,108.9 L449.9,108.9 L451.6,106.4 L453.4,107.5 L455.1,108.1 L456.8,106.3 L458.5,105.6 L460.2,104.8 L462.0,103.8 L463.7,104.8 L465.4,105.4 L467.1,105.4 L468.9,104.2 L470.6,102.2 L472.3,103.6 L474.0,103.6 L475.7,104.4 L477.5,100.9 L479.2,100.4 L480.9,100.7 L482.6,102.4 L484.4,102.9 L486.1,102.6 L487.8,101.6 L489.5,102.5 L491.2,101.6 L493.0,99.4 L494.7,99.5 L496.4,99.4 L498.1,101.7 L499.9,100.7 L501.6,101.1 L503.3,104.4 L505.0,108.4 L506.7,110.4 L508.5,113.9 L510.2,118.3 L511.9,132.7 L513.6,145.0 L515.4,156.7 L517.1,171.2 L518.8,183.9 L520.5,199.1 L522.2,210.9 L524.0,223.6 L525.7,233.0 L527.4,235.3 L529.1,240.1 L530.9,243.1 L530.9,242.9 L529.1,242.3 L527.4,241.3 L525.7,240.7 L524.0,241.1 L522.2,239.5 L520.5,239.7 L518.8,237.4 L517.1,237.0 L515.4,235.3 L513.6,234.1 L511.9,231.0 L510.2,226.1 L508.5,220.0 L506.7,215.1 L505.0,207.7 L503.3,200.7 L501.6,196.6 L499.9,194.3 L498.1,192.4 L496.4,190.9 L494.7,188.8 L493.0,188.4 L491.2,187.7 L489.5,187.2 L487.8,183.3 L486.1,182.2 L484.4,179.4 L482.6,179.9 L480.9,178.2 L479.2,176.0 L477.5,173.8 L475.7,172.3 L474.0,172.2 L472.3,170.4 L470.6,169.3 L468.9,168.6 L467.1,167.4 L465.4,169.3 L463.7,168.5 L462.0,168.1 L460.2,169.4 L458.5,170.1 L456.8,167.2 L455.1,166.5 L453.4,165.8 L451.6,168.4 L449.9,167.3 L448.2,166.4 L446.5,166.6 L444.7,164.5 L443.0,164.6 L441.3,164.7 L439.6,165.2 L437.9,165.1 L436.1,165.8 L434.4,166.1 L432.7,166.3 L431.0,166.5 L429.2,165.7 L427.5,166.0 L425.8,163.3 L424.1,165.5 L422.4,166.7 L420.6,164.6 L418.9,165.1 L417.2,163.1 L415.5,164.3 L413.7,166.0 L412.0,164.8 L410.3,165.1 L408.6,168.5 L406.9,168.3 L405.1,167.1 L403.4,165.0 L401.7,164.1 L400.0,164.3 L398.2,166.0 L396.5,164.3 L394.8,163.3Z" fill="#ff1493" fill-opacity="0.045" stroke="none"/>
<path d="M394.8,130.2 L397.3,130.7 L399.9,130.1 L402.4,128.8 L404.9,127.6 L407.5,129.5 L410.0,127.7 L412.6,126.1 L415.1,125.5 L417.6,126.0 L420.2,126.5 L422.7,124.5 L425.2,125.7 L427.8,127.3 L430.3,125.8 L432.8,124.6 L435.4,125.1 L437.9,125.3 L440.4,121.4 L443.0,121.2 L445.5,120.1 L448.1,120.7 L450.6,121.7 L453.1,120.4 L455.7,117.7 L458.2,119.4 L460.7,121.9 L463.3,121.7 L465.8,122.0 L468.3,122.2 L470.9,123.8 L473.4,124.1 L476.0,124.9 L478.5,123.9 L481.0,124.6 L483.6,124.5 L486.1,125.8 L488.6,129.9 L491.2,132.3 L493.7,131.4 L496.2,131.2 L498.8,131.7 L501.3,133.8 L503.8,137.4 L506.4,138.4 L508.9,138.5 L511.5,138.1 L514.0,140.6 L516.5,142.8 L519.1,145.5 L521.6,145.7 L524.1,147.0 L526.7,151.7 L529.2,151.6 L531.7,154.9 L534.3,158.2 L536.8,161.0 L539.3,162.4 L541.9,160.6 L544.4,160.4 L547.0,166.1 L549.5,170.1 L552.0,172.6 L554.6,175.0 L557.1,178.7 L559.6,183.4 L562.2,185.8 L564.7,188.8 L567.2,193.0 L569.8,194.5 L572.3,198.4 L574.8,202.3 L577.4,203.1 L579.9,206.7 L582.5,210.2 L585.0,215.8 L587.5,221.5 L590.1,226.3 L592.6,235.6 L595.1,242.8 L595.1,242.9 L592.6,242.9 L590.1,242.9 L587.5,242.8 L585.0,242.9 L582.5,242.9 L579.9,242.5 L577.4,240.2 L574.8,242.6 L572.3,240.7 L569.8,239.7 L567.2,237.8 L564.7,235.7 L562.2,234.9 L559.6,233.6 L557.1,231.5 L554.6,230.1 L552.0,230.0 L549.5,229.1 L547.0,230.1 L544.4,227.9 L541.9,224.0 L539.3,223.2 L536.8,221.9 L534.3,217.6 L531.7,214.6 L529.2,213.1 L526.7,211.2 L524.1,210.0 L521.6,209.7 L519.1,206.8 L516.5,206.3 L514.0,203.9 L511.5,202.3 L508.9,200.0 L506.4,197.8 L503.8,198.9 L501.3,198.1 L498.8,196.2 L496.2,194.8 L493.7,194.7 L491.2,193.8 L488.6,189.3 L486.1,188.3 L483.6,187.1 L481.0,185.7 L478.5,184.9 L476.0,184.1 L473.4,181.4 L470.9,180.2 L468.3,177.5 L465.8,176.6 L463.3,176.6 L460.7,175.1 L458.2,173.0 L455.7,173.5 L453.1,172.5 L450.6,171.1 L448.1,170.4 L445.5,169.4 L443.0,169.1 L440.4,168.1 L437.9,169.0 L435.4,170.7 L432.8,170.0 L430.3,170.3 L427.8,168.3 L425.2,165.0 L422.7,163.2 L420.2,163.8 L417.6,163.2 L415.1,163.3 L412.6,162.8 L410.0,161.1 L407.5,160.6 L404.9,161.3 L402.4,163.5 L399.9,164.1 L397.3,161.8 L394.8,161.0Z" fill="#ffcc00" fill-opacity="0.07" stroke="none"/>
<path d="M394.8,133.8 L397.0,135.6 L399.2,134.8 L401.4,135.1 L403.6,133.4 L405.8,133.0 L408.0,135.0 L410.2,135.7 L412.4,134.2 L414.6,132.8 L416.8,132.6 L419.0,133.5 L421.1,132.6 L423.3,136.0 L425.5,135.7 L427.7,136.2 L429.9,136.7 L432.1,135.3 L434.3,135.0 L436.5,135.1 L438.7,135.7 L440.9,135.3 L443.1,135.0 L445.3,136.6 L447.5,135.8 L449.7,137.7 L451.9,135.7 L454.1,138.4 L456.3,138.7 L458.5,140.8 L460.7,141.1 L462.9,140.4 L465.1,142.9 L467.2,141.9 L469.4,142.4 L471.6,144.3 L473.8,147.0 L476.0,147.2 L478.2,152.2 L480.4,152.9 L482.6,151.8 L484.8,153.0 L487.0,151.6 L489.2,155.8 L491.4,159.6 L493.6,161.3 L495.8,162.2 L498.0,162.3 L500.2,167.4 L502.4,168.7 L504.6,169.1 L506.8,172.5 L509.0,175.0 L511.2,178.1 L513.3,178.4 L515.5,179.4 L517.7,181.5 L519.9,184.1 L522.1,185.6 L524.3,188.8 L526.5,190.6 L528.7,192.5 L530.9,194.1 L533.1,196.9 L535.3,199.9 L537.5,201.9 L539.7,206.6 L541.9,210.3 L544.1,209.5 L546.3,212.0 L548.5,216.2 L550.7,219.3 L552.9,221.7 L555.1,224.1 L557.2,227.7 L559.4,228.9 L561.6,234.2 L563.8,233.6 L566.0,239.5 L568.2,241.0 L568.2,240.1 L566.0,239.3 L563.8,240.6 L561.6,241.6 L559.4,242.9 L557.2,242.9 L555.1,242.9 L552.9,242.9 L550.7,242.9 L548.5,242.1 L546.3,242.9 L544.1,241.7 L541.9,242.2 L539.7,239.8 L537.5,238.8 L535.3,237.9 L533.1,236.0 L530.9,234.4 L528.7,233.1 L526.5,234.3 L524.3,233.3 L522.1,230.8 L519.9,230.3 L517.7,228.4 L515.5,225.0 L513.3,224.5 L511.2,223.1 L509.0,222.3 L506.8,220.8 L504.6,217.2 L502.4,219.3 L500.2,215.9 L498.0,213.2 L495.8,211.5 L493.6,212.2 L491.4,211.5 L489.2,211.4 L487.0,208.3 L484.8,206.3 L482.6,205.3 L480.4,204.7 L478.2,203.9 L476.0,201.8 L473.8,200.1 L471.6,198.9 L469.4,193.6 L467.2,193.5 L465.1,191.9 L462.9,190.9 L460.7,191.8 L458.5,189.0 L456.3,186.7 L454.1,185.6 L451.9,187.2 L449.7,183.9 L447.5,185.0 L445.3,183.6 L443.1,182.1 L440.9,181.1 L438.7,181.3 L436.5,181.0 L434.3,179.7 L432.1,179.1 L429.9,178.0 L427.7,175.4 L425.5,174.9 L423.3,175.5 L421.1,175.9 L419.0,173.7 L416.8,171.0 L414.6,173.1 L412.4,173.0 L410.2,170.8 L408.0,170.3 L405.8,169.9 L403.6,168.6 L401.4,168.7 L399.2,169.0 L397.0,167.6 L394.8,164.4Z" fill="#ff9900" fill-opacity="0.06" stroke="none"/>
<path d="M394.8,140.3 L397.3,142.4 L399.8,141.5 L402.2,143.5 L404.7,144.2 L407.2,146.5 L409.7,146.3 L412.2,146.1 L414.6,146.8 L417.1,148.7 L419.6,147.6 L422.1,147.4 L424.6,148.7 L427.0,148.7 L429.5,148.8 L432.0,151.4 L434.5,152.0 L436.9,154.7 L439.4,155.4 L441.9,154.4 L444.4,155.7 L446.9,155.2 L449.3,155.3 L451.8,158.6 L454.3,158.6 L456.8,156.8 L459.3,158.2 L461.7,159.2 L464.2,161.2 L466.7,163.7 L469.2,165.5 L471.7,161.6 L474.1,163.7 L476.6,166.1 L479.1,166.6 L481.6,169.7 L484.1,167.9 L486.5,167.1 L489.0,170.4 L491.5,171.4 L494.0,174.0 L496.4,173.9 L498.9,176.5 L501.4,177.6 L503.9,177.1 L506.4,178.4 L508.8,180.7 L511.3,183.9 L513.8,186.2 L516.3,184.8 L518.8,185.8 L521.2,187.7 L523.7,188.0 L526.2,190.3 L528.7,193.3 L531.2,194.8 L533.6,196.4 L536.1,197.9 L538.6,196.5 L541.1,198.9 L543.5,201.2 L546.0,203.8 L548.5,206.4 L551.0,208.9 L553.5,211.9 L555.9,212.6 L558.4,215.0 L560.9,217.4 L563.4,218.3 L565.9,220.9 L568.3,219.0 L570.8,219.0 L573.3,222.4 L575.8,221.3 L578.3,222.9 L580.7,228.1 L583.2,228.4 L585.7,230.3 L588.2,232.8 L590.6,233.0 L590.6,242.0 L588.2,241.7 L585.7,242.1 L583.2,242.1 L580.7,242.9 L578.3,240.7 L575.8,238.9 L573.3,238.8 L570.8,236.8 L568.3,236.7 L565.9,235.9 L563.4,234.5 L560.9,233.8 L558.4,235.6 L555.9,231.9 L553.5,232.7 L551.0,231.2 L548.5,229.3 L546.0,229.1 L543.5,228.4 L541.1,229.3 L538.6,227.0 L536.1,225.3 L533.6,225.4 L531.2,224.1 L528.7,224.4 L526.2,222.6 L523.7,220.2 L521.2,220.0 L518.8,219.1 L516.3,218.2 L513.8,216.3 L511.3,215.9 L508.8,214.1 L506.4,214.4 L503.9,214.4 L501.4,210.9 L498.9,210.5 L496.4,212.0 L494.0,209.7 L491.5,209.3 L489.0,206.8 L486.5,204.3 L484.1,204.5 L481.6,202.5 L479.1,202.1 L476.6,201.2 L474.1,202.0 L471.7,199.9 L469.2,198.5 L466.7,198.3 L464.2,196.1 L461.7,192.1 L459.3,191.0 L456.8,192.3 L454.3,192.6 L451.8,190.2 L449.3,189.1 L446.9,187.5 L444.4,186.0 L441.9,180.7 L439.4,181.7 L436.9,184.6 L434.5,187.0 L432.0,184.5 L429.5,184.9 L427.0,184.4 L424.6,186.4 L422.1,184.9 L419.6,187.9 L417.1,189.1 L414.6,188.5 L412.2,189.2 L409.7,189.2 L407.2,189.8 L404.7,192.8 L402.2,193.4 L399.8,193.8 L397.3,190.9 L394.8,190.2Z" fill="#8c564b" fill-opacity="0.05" stroke="none"/>
<path d="M394.8,137.2 L396.7,136.4 L398.6,138.1 L400.5,136.1 L402.5,133.3 L404.4,135.6 L406.3,137.5 L408.2,136.0 L410.1,134.8 L412.0,134.0 L413.9,132.9 L415.8,135.7 L417.7,134.8 L419.7,134.2 L421.6,132.9 L423.5,134.6 L425.4,134.3 L427.3,135.6 L429.2,137.3 L431.1,139.0 L433.0,140.7 L434.9,144.3 L436.9,145.0 L438.8,146.1 L440.7,148.0 L442.6,153.6 L444.5,153.9 L446.4,154.8 L448.3,156.4 L450.2,155.2 L452.1,156.2 L454.1,158.9 L456.0,160.2 L457.9,158.1 L459.8,162.7 L461.7,163.9 L463.6,166.4 L465.5,165.8 L467.4,166.5 L469.3,169.0 L471.3,170.0 L473.2,172.7 L475.1,175.7 L477.0,174.9 L478.9,174.2 L480.8,176.8 L482.7,178.9 L484.6,182.1 L486.5,179.8 L488.5,183.4 L490.4,185.6 L492.3,186.6 L494.2,186.2 L496.1,188.1 L498.0,189.9 L499.9,191.4 L501.8,192.0 L503.8,194.1 L505.7,195.6 L507.6,197.4 L509.5,200.3 L511.4,199.6 L513.3,202.4 L515.2,205.2 L517.1,206.7 L519.0,208.0 L521.0,208.7 L522.9,212.7 L524.8,215.5 L526.7,216.2 L528.6,217.2 L530.5,220.5 L532.4,222.8 L534.3,223.1 L536.2,224.4 L538.2,227.5 L540.1,228.9 L542.0,227.6 L543.9,230.7 L545.8,230.5 L545.8,242.9 L543.9,242.9 L542.0,242.9 L540.1,241.4 L538.2,242.0 L536.2,242.8 L534.3,242.9 L532.4,242.9 L530.5,242.9 L528.6,242.1 L526.7,241.9 L524.8,240.5 L522.9,239.1 L521.0,235.7 L519.0,233.5 L517.1,232.1 L515.2,234.2 L513.3,235.1 L511.4,231.8 L509.5,231.8 L507.6,229.9 L505.7,230.7 L503.8,229.8 L501.8,226.6 L499.9,225.2 L498.0,223.8 L496.1,224.5 L494.2,223.0 L492.3,224.3 L490.4,222.5 L488.5,220.5 L486.5,218.4 L484.6,219.1 L482.7,219.3 L480.8,220.5 L478.9,217.9 L477.0,215.1 L475.1,212.9 L473.2,212.9 L471.3,212.1 L469.3,212.8 L467.4,212.8 L465.5,214.2 L463.6,214.7 L461.7,214.6 L459.8,211.2 L457.9,208.9 L456.0,206.3 L454.1,206.7 L452.1,203.7 L450.2,199.8 L448.3,200.2 L446.4,195.3 L444.5,195.4 L442.6,193.4 L440.7,187.5 L438.8,183.3 L436.9,182.1 L434.9,181.8 L433.0,178.4 L431.1,179.4 L429.2,179.6 L427.3,179.2 L425.4,176.6 L423.5,175.3 L421.6,174.0 L419.7,175.5 L417.7,173.4 L415.8,174.0 L413.9,172.9 L412.0,172.3 L410.1,171.4 L408.2,172.4 L406.3,173.2 L404.4,171.0 L402.5,171.6 L400.5,170.1 L398.6,167.7 L396.7,168.7 L394.8,170.9Z" fill="#8b008b" fill-opacity="0.045" stroke="none"/>
<path d="M394.8,126.3 L397.5,125.3 L400.3,125.4 L403.0,122.9 L405.7,121.7 L408.4,120.0 L411.2,120.4 L413.9,118.9 L416.6,118.6 L419.3,119.0 L422.1,117.7 L424.8,118.5 L427.5,116.7 L430.2,114.9 L433.0,113.0 L435.7,113.6 L438.4,113.8 L441.1,112.7 L443.9,114.7 L446.6,114.2 L449.3,110.4 L452.0,111.6 L454.8,113.5 L457.5,114.6 L460.2,112.5 L462.9,115.2 L465.7,115.5 L468.4,115.8 L471.1,117.0 L473.8,117.8 L476.6,119.6 L479.3,119.7 L482.0,117.5 L484.7,116.5 L487.5,119.1 L490.2,120.7 L492.9,122.9 L495.6,125.4 L498.4,128.0 L501.1,128.8 L503.8,131.0 L506.5,134.1 L509.3,136.8 L512.0,137.8 L514.7,141.1 L517.4,144.2 L520.2,146.6 L522.9,149.2 L525.6,149.7 L528.3,152.3 L531.1,155.3 L533.8,158.6 L536.5,159.2 L539.2,161.9 L542.0,162.5 L544.7,165.5 L547.4,169.5 L550.1,173.1 L552.9,175.9 L555.6,178.0 L558.3,179.5 L561.0,181.9 L563.8,183.0 L566.5,188.5 L569.2,190.6 L571.9,194.7 L574.7,197.5 L577.4,199.4 L580.1,201.6 L582.8,204.2 L585.6,207.2 L588.3,206.7 L591.0,209.3 L593.7,210.3 L596.5,214.3 L599.2,218.9 L601.9,220.2 L604.6,220.3 L607.4,223.2 L610.1,242.8 L610.1,241.0 L607.4,241.1 L604.6,241.0 L601.9,240.8 L599.2,242.5 L596.5,241.2 L593.7,239.5 L591.0,236.9 L588.3,236.2 L585.6,233.6 L582.8,233.5 L580.1,232.9 L577.4,230.8 L574.7,229.1 L571.9,230.3 L569.2,229.0 L566.5,225.7 L563.8,226.3 L561.0,226.2 L558.3,223.1 L555.6,221.5 L552.9,222.0 L550.1,219.2 L547.4,218.2 L544.7,215.1 L542.0,211.8 L539.2,210.3 L536.5,211.4 L533.8,206.5 L531.1,205.4 L528.3,200.4 L525.6,198.6 L522.9,198.1 L520.2,195.0 L517.4,192.4 L514.7,190.4 L512.0,189.8 L509.3,188.3 L506.5,185.0 L503.8,181.4 L501.1,181.1 L498.4,178.9 L495.6,176.3 L492.9,175.7 L490.2,174.6 L487.5,171.0 L484.7,169.3 L482.0,168.5 L479.3,164.3 L476.6,162.4 L473.8,162.1 L471.1,161.7 L468.4,158.7 L465.7,159.0 L462.9,158.2 L460.2,157.3 L457.5,157.5 L454.8,158.6 L452.0,154.8 L449.3,154.5 L446.6,153.1 L443.9,150.7 L441.1,150.0 L438.4,147.8 L435.7,149.7 L433.0,151.2 L430.2,151.1 L427.5,152.8 L424.8,154.4 L422.1,154.1 L419.3,153.7 L416.6,154.6 L413.9,154.3 L411.2,153.7 L408.4,153.4 L405.7,155.1 L403.0,154.3 L400.3,155.5 L397.5,156.0 L394.8,158.7Z" fill="#3399ff" fill-opacity="0.06" stroke="none"/>
<path d="M396.3,162.6 L397.6,162.6 L398.8,163.7 L400.0,164.0 L400.1,164.6 L401.5,164.9 L402.7,164.4 L404.0,164.7 L404.6,165.3 L406.0,166.2 L407.5,166.6 L408.6,166.7 L410.0,167.3 L411.4,167.0 L412.4,167.4 L413.7,168.4 L414.8,167.5 L416.3,169.5 L417.0,169.5 L417.2,169.6 L420.0,169.2 L420.8,169.1 L421.9,168.9 L422.7,168.9 L423.3,169.6 L423.4,170.2 L425.3,170.3 L426.1,170.9 L427.1,172.0 L427.1,172.4 L430.2,172.2 L430.2,172.3 L431.0,173.2 L433.0,173.0 L434.3,173.5 L434.6,174.9 L435.8,175.0 L437.1,175.0 L438.1,175.5 L439.4,176.4 L440.6,177.3 L441.0,177.2 L441.0,177.8 L444.1,178.4 L444.1,179.2 L444.4,180.2 L446.4,181.3 L447.6,181.4 L447.9,181.0 L450.7,181.1 L449.2,182.0 L451.9,181.6 L452.6,182.4 L453.7,183.4 L454.8,183.3 L455.6,183.2 L456.9,184.1 L457.0,185.2 L458.3,185.6 L460.9,187.0 L459.6,186.9 L462.3,186.4 L461.7,186.8 L463.1,187.7 L465.4,187.8 L466.0,188.6 L466.8,188.4 L467.2,189.2 L468.9,188.8 L470.1,189.8 L470.9,190.4 L471.3,191.4 L473.3,192.4 L474.8,192.3 L476.4,192.5 L477.2,193.4 L478.9,193.4 L479.9,194.0 L478.4,194.6 L481.5,194.9 L482.1,195.1 L482.4,195.2 L484.2,195.1 L485.8,195.6 L485.5,196.6 L486.3,197.3 L488.6,197.4 L489.2,198.4 L491.5,198.6 L492.1,199.0 L492.5,199.3 L492.9,199.4 L495.0,199.3 L494.9,199.1 L495.9,199.5 L497.0,199.8 L500.0,201.1 L501.7,201.0 L501.7,201.0 L502.4,202.3 L504.1,201.4 L505.7,202.5 L505.7,204.1 L508.3,203.2 L508.4,203.7 L510.0,204.4 L509.0,204.9 L511.0,204.6 L512.0,204.9 L514.7,205.5 L514.9,205.3 L515.1,206.3 L518.0,206.9 L517.9,207.3 L519.1,207.8 L519.4,207.5 L521.6,207.9 L522.7,208.7 L523.4,209.0 L524.4,210.0 L525.3,209.7 L526.3,209.8 L526.9,209.6 L529.6,210.1 L530.9,210.2 L530.6,211.0 L531.5,211.2 L533.5,211.4 L536.1,212.3 L536.0,212.2 L536.7,212.4 L537.7,212.8 L539.0,213.4 L539.9,212.8 L541.8,213.5 L543.0,214.4 L543.9,215.2 L545.6,215.1 L545.7,215.6 L546.2,216.3 L549.4,216.8 L548.0,216.6 L548.6,216.9 L549.0,216.9 L551.6,217.5 L552.2,218.5 L554.6,218.3 L554.0,218.7 L555.8,219.4 L557.0,219.9 L557.6,220.6 L560.0,220.4 L560.5,221.0 L562.0,221.1 L562.5,221.4 L563.9,222.0 L564.7,222.2 L566.0,222.7 L567.0,223.6 L567.7,224.0 L569.5,224.6 L570.4,224.2 L570.9,224.1 L571.8,224.7 L573.8,224.6 L575.8,224.9 L575.5,224.8 L576.7,225.7 L578.5,226.0 L580.1,226.7 L581.2,227.1 L581.1,226.5 L582.6,227.8 L584.5,228.2 L585.4,227.9 L586.1,227.6 L586.5,228.4 L588.3,229.5 L589.4,230.1 L590.6,229.6" fill="none" stroke="#8c564b" stroke-width="0.51" stroke-dasharray="1.6,1" stroke-linejoin="round" opacity="0.8"/>
<path d="M395.4,145.2 L397.5,145.7 L394.6,141.4 L397.0,137.9 L390.5,138.3 L397.1,142.0 L395.0,144.3 L397.1,145.1 L395.1,138.1 L400.6,146.1 L394.1,142.6 L400.1,142.1 L394.0,144.3 L402.2,143.8 L401.6,141.9 L402.7,141.5 L402.4,141.2 L404.6,141.1 L404.7,141.1 L406.0,140.8 L406.4,140.2 L408.6,139.8 L408.3,138.5 L407.6,138.4 L409.4,137.9 L411.0,137.9 L412.3,137.6 L412.5,137.6 L413.6,137.3 L413.9,137.4 L415.3,137.7 L416.7,136.8 L417.8,137.6 L419.9,137.5 L418.4,137.9 L420.5,138.5 L421.7,138.4 L421.5,139.1 L423.0,139.2 L424.1,139.8 L424.2,139.8 L426.2,140.0 L428.2,140.8 L428.5,141.1 L429.2,141.7 L430.2,141.8 L430.2,142.9 L431.6,144.4 L431.2,144.7 L432.4,145.1 L433.9,145.7 L435.4,146.2 L435.2,146.7 L435.8,147.7 L437.2,147.1 L437.8,148.0 L438.7,148.9 L440.2,149.9 L440.1,150.0 L442.1,149.7 L443.0,148.8 L443.5,148.7 L443.6,149.3 L444.8,149.9 L446.4,150.3 L448.3,150.0 L447.4,149.5 L449.8,149.8 L450.9,149.2 L450.8,149.0 L453.0,149.7 L453.9,151.4 L454.9,151.1 L454.8,151.5 L455.3,151.6 L457.7,151.7 L459.4,152.7 L459.8,153.1 L460.1,153.4 L460.7,154.2 L460.5,154.2 L463.2,154.7 L463.8,155.3 L465.5,154.9 L465.0,155.8 L466.6,156.0 L466.1,157.3 L467.4,157.8 L468.9,159.2 L468.1,159.9 L469.6,160.2 L469.8,162.2 L469.5,162.4 L470.8,163.2 L471.9,163.4 L471.5,164.3 L472.1,165.2 L472.4,166.7 L472.7,166.0 L473.6,167.5 L475.0,168.6 L474.8,169.7 L476.4,170.5 L476.0,171.1 L476.0,172.5 L477.7,172.5 L478.8,173.5 L478.0,174.0 L479.0,175.9 L478.3,176.6 L479.1,177.2 L479.7,178.0 L481.1,178.9 L480.3,179.3 L481.1,179.8 L481.6,181.0 L482.9,182.4 L482.7,182.4 L483.0,183.1 L486.7,183.2 L486.2,183.6 L485.2,184.6 L487.2,186.1 L486.6,186.8 L486.4,187.7 L489.5,187.6 L490.7,189.1 L490.0,189.0 L490.2,190.3 L492.0,190.8 L494.3,191.7 L494.5,192.2 L495.2,192.6 L494.5,192.7 L494.5,193.4 L496.7,193.4 L498.4,193.2 L498.8,194.0 L499.4,195.3 L501.2,195.9 L500.6,196.4 L502.5,197.1 L503.4,197.1 L503.1,197.3 L504.2,197.2 L505.0,198.1 L506.2,200.3 L505.9,200.7 L507.0,200.8 L508.1,201.8 L508.9,202.5 L509.8,202.5 L510.7,203.1 L511.3,204.2 L511.7,204.9 L513.6,206.7 L513.5,206.6 L514.2,207.3 L514.6,207.4 L515.0,208.2 L517.0,208.8 L517.7,209.3 L518.4,208.2 L519.7,209.7 L520.1,210.7 L521.5,211.3 L523.3,211.2 L523.3,211.4 L523.4,211.9 L525.4,212.8 L525.9,213.4 L524.8,214.4 L527.3,215.0 L527.7,215.9 L528.9,216.9 L528.1,217.7 L528.6,217.1 L529.4,217.7 L531.0,218.9 L530.7,219.6 L531.4,220.5 L533.3,220.5 L533.2,221.4 L534.2,222.4 L534.2,222.8 L534.0,223.4 L535.7,224.5 L536.7,225.4 L536.5,225.8 L538.8,227.2 L539.9,227.9 L540.8,227.7 L540.5,227.9 L540.4,228.2" fill="none" stroke="#ff9900" stroke-width="0.595" stroke-dasharray="1.8,1" stroke-linejoin="round" opacity="0.9"/>
<path d="M406.1,141.0 L406.4,141.8 L406.1,141.1 L407.9,142.4 L408.4,143.2 L409.9,143.0 L410.2,144.1 L410.9,143.7 L412.0,143.9 L412.0,144.0 L412.5,145.0 L415.1,145.0 L414.4,144.8 L415.9,145.3 L416.8,145.2 L417.6,145.7 L418.6,146.2 L417.5,147.1 L419.0,148.4 L417.8,148.8 L419.2,149.1 L420.1,150.0 L421.1,151.4 L421.8,152.3 L421.1,151.7 L421.7,152.4 L422.2,153.2 L422.5,153.0 L422.9,153.8 L423.5,155.0 L425.2,155.6 L426.3,156.3 L426.6,156.6 L427.7,157.4 L427.5,157.6 L427.0,157.8 L427.8,158.0 L429.1,157.8 L430.6,157.5 L431.7,156.9 L431.3,157.1 L432.9,156.5 L432.9,155.7 L433.9,155.5 L434.8,155.5 L435.8,154.9 L435.1,155.0 L435.6,155.4 L436.0,156.4 L435.8,156.8 L436.2,157.4 L436.8,157.6 L435.8,158.2 L436.3,158.7 L438.5,159.6 L438.2,160.2 L437.6,161.5 L436.9,161.6 L437.7,160.4 L439.2,159.6 L440.1,160.0 L440.7,159.2 L441.1,160.0 L440.7,160.1 L442.1,160.9 L440.9,161.8 L441.8,162.8 L441.7,163.4 L441.0,164.0 L442.6,165.0 L442.5,165.5 L443.2,166.0 L444.0,166.4 L443.8,167.2 L443.5,167.9 L444.0,167.5 L444.5,168.2 L445.9,169.1 L446.2,170.8 L447.0,171.1 L447.0,171.6 L446.4,173.7 L447.5,174.0 L448.2,174.2 L447.9,174.8 L448.5,175.4 L448.6,176.0 L448.4,175.9 L449.5,176.6 L450.7,177.5 L450.7,178.3 L449.9,177.9 L451.0,179.2 L452.9,180.2 L453.2,180.5 L454.3,181.1 L453.8,181.6 L454.2,181.7 L454.3,182.0 L454.8,182.8 L456.2,183.7 L456.7,184.5 L456.8,185.4 L457.7,185.5 L457.3,186.9 L458.2,187.9 L458.1,188.4 L458.7,188.7 L459.6,188.9 L460.6,188.2 L463.1,189.4 L464.4,188.8 L465.2,189.5 L464.9,189.4 L466.1,189.6 L466.0,190.0 L466.9,190.5 L468.2,190.1 L468.0,191.4 L469.6,191.9 L470.6,191.9 L469.6,191.4 L469.4,191.0 L471.1,192.0 L472.1,193.0 L472.9,193.7 L472.7,193.9 L474.1,194.1 L474.6,195.3 L474.6,195.6 L476.5,196.3 L476.8,196.1 L477.7,196.8 L479.2,197.3 L478.7,198.0 L479.3,198.8 L479.1,198.6 L480.5,198.4 L481.8,198.3 L484.1,198.7 L484.0,199.4 L484.3,200.3 L484.0,201.0 L484.7,201.4 L484.7,201.3 L485.5,201.6 L487.2,203.0 L488.3,203.1 L488.3,203.3 L489.2,204.0 L489.6,204.1 L491.1,204.1 L492.1,205.0 L492.1,205.9 L492.6,206.1 L492.8,206.1 L493.8,206.5 L496.3,206.1 L496.1,206.7 L497.1,207.8 L497.6,207.8 L498.9,208.6 L498.5,208.7 L498.5,209.2 L500.2,209.2 L501.1,210.4 L500.9,210.5 L502.4,210.8 L502.6,211.9 L503.1,211.9 L504.9,211.4 L505.1,212.2 L505.5,213.4 L505.6,214.0 L506.5,213.9 L507.7,214.5 L508.2,214.5 L508.0,215.6 L509.1,215.6 L509.6,217.2 L510.4,217.6 L510.8,218.1 L510.1,218.7 L510.7,218.5 L512.1,219.4 L511.9,219.7 L512.7,219.4 L515.6,219.8 L516.1,220.9 L516.0,221.9 L516.9,223.2 L516.0,223.1 L517.7,223.0 L519.2,223.1 L519.5,223.7 L519.1,223.4 L520.8,224.1 L520.8,226.2 L521.2,226.9 L522.3,226.8 L522.7,227.5 L524.7,227.6 L524.4,227.0 L526.2,228.5 L526.0,228.1 L525.3,229.2 L526.3,230.7 L527.1,231.1 L528.6,231.2 L529.6,231.8 L531.3,231.2 L530.3,232.0 L530.8,232.2 L533.2,231.9 L532.5,232.3 L533.6,232.7 L535.3,232.8 L534.8,232.5 L535.6,231.8 L536.2,231.5 L537.8,231.0 L538.7,231.6 L539.3,232.7 L540.5,232.5 L540.6,232.6 L541.4,232.9 L542.8,232.8 L544.8,232.5 L544.6,232.2 L545.3,231.7 L546.8,232.1 L547.1,231.4 L548.5,231.5 L548.9,231.2 L550.1,230.9 L550.4,232.0 L550.4,231.5 L551.0,232.3 L552.5,232.4 L554.5,232.2" fill="none" stroke="#8b008b" stroke-width="0.935" stroke-dasharray="2,1.1" stroke-linejoin="round" opacity="1.0"/>
<path d="M393.0,135.5 L400.0,136.2 L396.0,138.0 L397.7,138.3 L396.2,135.7 L396.8,133.8 L395.1,137.1 L397.1,137.2 L399.2,137.9 L398.4,137.3 L400.2,136.6 L402.0,136.4 L402.3,135.6 L403.0,135.1 L404.0,134.2 L406.1,133.7 L405.7,133.9 L405.9,133.5 L406.4,132.9 L407.6,131.6 L408.9,131.4 L410.4,130.4 L411.2,129.7 L410.9,129.2 L411.6,128.1 L414.3,128.4 L415.8,128.3 L415.4,127.6 L417.7,127.4 L416.5,126.9 L420.5,126.9 L421.0,126.1 L420.2,125.9 L422.2,126.5 L423.0,125.4 L423.6,125.0 L424.5,125.0 L425.5,124.4 L426.6,124.0 L427.1,123.4 L428.3,123.5 L430.2,123.8 L431.6,124.0 L431.3,124.6 L432.6,124.8 L435.3,124.9 L436.3,124.7 L438.0,125.1 L437.0,124.9 L437.7,124.1 L437.8,123.9 L438.7,123.9 L441.0,123.9 L441.9,124.3 L442.8,125.1 L444.2,124.7 L445.7,123.9 L447.7,124.3 L448.8,124.6 L448.1,123.8 L451.1,124.8 L451.4,124.6 L451.7,124.7 L453.3,124.7 L454.2,125.3 L454.4,125.2 L457.3,125.4 L457.2,126.6 L457.8,126.9 L459.5,127.4 L461.5,128.2 L461.8,128.1 L461.5,127.8 L463.1,128.4 L464.7,128.6 L465.3,129.2 L466.3,130.1 L466.4,130.5 L467.4,130.6 L467.1,131.7 L468.4,132.4 L469.1,133.6 L470.8,134.8 L473.1,135.2 L471.6,134.9 L472.5,135.1 L473.7,135.5 L475.3,135.5 L477.3,137.3 L477.0,137.1 L477.5,137.9 L479.7,138.3 L480.3,138.5 L481.2,139.9 L482.3,141.1 L481.9,141.4 L483.2,142.1 L483.4,143.0 L484.0,143.6 L485.5,144.4 L486.9,144.5 L486.7,145.0 L487.8,144.4 L489.8,145.5 L490.8,145.5 L492.2,145.9 L492.6,145.6 L492.9,147.0 L494.6,147.9 L495.5,147.8 L493.6,149.1 L496.4,150.1 L496.5,150.9 L498.2,152.0 L499.9,152.0 L499.4,152.1 L499.3,153.2 L500.7,154.5 L501.7,155.6 L502.9,155.6 L502.4,156.4 L504.2,156.6 L505.8,158.3 L506.8,158.6 L507.6,158.6 L508.9,158.9 L508.3,160.9 L510.0,161.0 L510.2,161.5 L509.8,162.2 L510.6,163.1 L511.7,164.0 L512.5,164.6 L514.0,165.2 L513.9,167.5 L513.8,167.8 L516.3,167.8 L515.5,168.7 L515.3,168.9 L517.1,170.3 L517.0,170.1 L517.2,170.8 L517.5,172.1 L519.9,171.7 L519.3,172.4 L520.5,173.1 L520.9,175.1 L521.7,176.1 L521.9,176.7 L523.2,177.1 L524.5,178.2 L525.6,179.7 L525.6,179.4 L525.8,180.0 L526.3,180.1 L528.3,180.7 L527.7,181.1 L531.2,182.0 L532.0,181.7 L533.0,182.3 L532.8,183.3 L534.1,183.0 L535.0,183.4 L536.9,183.5 L537.1,183.9 L538.6,185.3 L539.5,186.0 L538.4,186.6 L539.9,187.2 L542.1,188.3 L541.9,188.8 L542.9,188.9 L543.6,189.1 L543.4,189.4 L546.4,190.3 L546.0,192.7 L546.9,193.4 L546.8,194.3 L548.6,196.2 L549.4,195.7 L550.1,195.9 L550.6,196.8 L551.0,197.5 L552.1,198.2 L552.1,199.2 L552.3,199.5 L553.4,199.7 L552.8,200.6 L551.8,202.1 L554.5,203.0 L555.3,203.5 L555.3,204.3 L556.0,205.7 L556.1,206.1 L556.7,206.8 L558.1,207.6 L558.9,208.9 L560.1,209.8 L560.1,211.6 L561.1,212.1 L561.9,212.9 L561.5,213.6 L561.1,214.4 L562.3,215.0 L563.6,215.5 L564.3,216.1 L567.1,217.0 L566.3,217.6 L567.5,218.3 L567.4,218.7 L569.1,219.2 L568.6,220.1 L570.9,220.8 L571.8,221.5 L572.4,221.9 L572.7,221.3 L575.8,221.7 L575.7,220.7 L578.0,221.1 L576.5,221.4 L577.7,221.5 L581.1,221.9 L582.8,222.4 L582.7,222.5 L584.1,223.5 L584.9,223.4 L585.1,223.7 L586.3,224.3 L586.3,224.0 L586.9,224.2 L588.9,224.2 L590.7,225.2 L591.4,226.2 L591.2,227.0 L593.4,227.9 L594.2,228.8 L595.5,227.9 L595.8,228.5 L596.6,228.7 L598.5,229.4 L600.0,229.8 L599.2,229.4 L599.7,230.8 L602.1,231.5 L603.1,231.6 L603.8,232.2 L603.9,232.1 L606.2,231.8" fill="none" stroke="#3399ff" stroke-width="0.935" stroke-dasharray="2,1.1" stroke-linejoin="round" opacity="1.0"/>
<path d="M395.4,141.1 L398.4,141.0 L395.3,142.5 L398.7,142.8 L389.0,139.1 L398.6,147.2 L394.7,144.2 L402.4,142.4 L390.3,141.9 L396.8,137.9 L390.7,147.6 L397.2,140.3 L394.8,141.5 L397.9,140.8 L394.6,136.8 L397.1,130.8 L387.4,132.7 L399.2,135.4 L386.0,138.8 L397.0,136.2 L392.8,144.8 L397.8,141.3 L402.1,136.5 L403.0,136.1 L403.6,134.9 L403.3,135.1 L404.9,134.4 L406.8,134.2 L406.3,134.5 L408.7,133.9 L409.6,133.2 L410.1,133.6 L411.6,133.9 L413.1,133.6 L413.7,132.8 L414.0,132.9 L416.0,132.4 L416.1,131.9 L417.6,131.6 L419.2,131.2 L420.6,130.4 L421.9,130.5 L422.5,130.2 L422.7,130.7 L423.2,130.7 L424.4,130.4 L425.7,129.7 L428.4,130.7 L427.9,131.9 L427.1,131.8 L429.2,131.3 L427.9,133.6 L429.9,134.6 L429.3,134.9 L429.6,135.3 L430.8,136.3 L431.9,136.4 L432.1,136.3 L434.2,137.1 L434.9,137.3 L436.9,137.8 L436.3,138.8 L436.1,139.4 L438.6,140.0 L439.3,139.5 L441.1,139.5 L439.7,140.1 L440.6,141.6 L442.4,142.3 L444.9,142.9 L443.8,144.2 L443.5,143.2 L445.1,142.3 L447.6,142.3 L449.1,141.6 L447.9,141.0 L448.8,139.7 L448.8,139.3 L450.3,139.0 L451.3,139.0 L453.4,139.5 L455.2,138.7 L457.4,138.9 L456.7,139.8 L458.1,139.0 L458.8,139.1 L459.6,139.0 L461.9,138.7 L462.4,138.8 L463.9,138.6 L464.1,138.1 L465.3,138.5 L466.1,138.8 L466.6,138.8 L467.0,138.5 L468.0,138.8 L469.4,138.7 L470.1,139.3 L471.0,139.6 L471.7,139.6 L473.7,140.4 L474.2,140.7 L475.0,141.6 L475.9,142.0 L478.0,142.0 L477.8,141.9 L479.9,142.7 L479.5,142.9 L481.8,143.6 L482.5,143.5 L482.5,143.7 L483.9,143.8 L485.5,144.3 L485.0,145.3 L486.1,145.7 L487.5,146.4 L488.1,146.7 L488.9,146.7 L490.1,146.3 L491.2,146.4 L492.6,146.2 L494.1,145.5 L493.8,145.9 L496.9,144.2 L495.9,144.5 L497.8,143.4 L497.6,142.6 L497.1,141.9 L498.3,142.8 L499.3,143.2 L501.3,144.1 L500.1,144.3 L501.4,145.3 L502.7,146.2 L504.3,146.5 L505.1,147.2 L506.3,147.3 L506.3,148.5 L506.6,149.0 L508.1,150.2 L509.3,150.9 L509.0,150.6 L509.1,152.2 L508.8,153.5 L511.3,154.8 L511.1,155.3 L511.6,155.0 L510.4,156.1 L512.1,156.5 L514.3,157.5 L513.4,158.7 L513.4,158.5 L515.4,158.8 L515.3,160.6 L516.7,161.4 L518.5,161.5 L517.3,161.6 L517.8,162.3 L519.7,162.7 L520.4,163.0 L521.1,163.8 L521.8,163.8 L522.8,164.9 L523.8,165.1 L523.9,165.5 L524.6,166.3 L525.6,167.4 L525.4,168.1 L527.0,169.8 L525.9,170.0 L528.2,171.2 L528.8,172.4 L528.6,172.2 L531.0,173.1 L530.2,173.3 L532.9,173.9 L532.0,175.3 L533.6,176.2 L533.5,176.7 L535.2,176.9 L534.7,177.6 L535.9,178.9 L535.6,179.6 L534.7,180.1 L536.6,181.3 L537.6,182.0 L538.3,182.7 L539.9,184.2 L538.9,183.6 L538.5,184.0 L540.1,185.1 L540.2,185.4 L541.2,186.8 L542.0,186.7 L542.0,187.9 L543.9,188.6 L544.0,189.7 L545.9,190.3 L545.7,190.9 L546.7,191.6 L546.4,192.8 L546.4,193.0 L547.0,193.6 L547.3,194.5 L548.8,194.8 L549.4,196.2 L549.0,196.4 L548.9,197.5 L549.7,197.7 L549.6,199.1 L550.6,200.1 L550.8,200.8 L552.9,201.2 L552.5,201.6 L553.1,203.0 L554.0,204.3 L554.8,204.7 L555.8,204.9 L556.8,205.7 L557.4,206.8 L557.2,207.1 L558.8,208.2 L559.1,209.0 L558.8,209.6 L560.8,210.8 L559.7,212.6 L561.1,212.9 L562.5,213.1 L562.5,213.6 L563.1,214.2 L563.5,215.0 L564.5,215.4 L564.8,216.4 L565.2,216.6 L566.3,217.7 L565.0,218.3 L566.7,219.6 L567.1,220.3 L569.4,221.0 L569.1,221.9 L568.7,222.1 L570.0,223.2 L570.0,223.6 L569.7,224.6 L570.7,225.1 L572.0,226.7 L573.3,227.7 L573.9,228.0 L573.9,229.3 L573.9,229.8 L574.6,230.4 L576.0,231.2 L575.7,231.9 L577.0,232.6 L576.2,233.7 L577.0,234.4 L578.2,235.5 L578.8,236.5 L579.0,237.9 L578.9,238.4 L578.2,239.7 L579.4,240.1" fill="none" stroke="#ffcc00" stroke-width="0.85" stroke-linejoin="round" opacity="1.0"/>
<path d="M392.2,144.0 L398.8,145.2 L393.4,145.5 L397.2,147.1 L391.9,145.2 L397.6,146.7 L396.0,146.5 L398.3,144.1 L394.5,143.9 L396.2,143.9 L395.7,143.8 L397.7,143.6 L398.3,142.5 L399.4,142.4 L401.6,143.1 L403.6,141.8 L405.0,141.0 L405.1,140.6 L406.6,140.8 L406.5,140.8 L407.4,140.8 L409.8,140.5 L410.7,140.0 L411.4,139.8 L411.9,139.9 L413.8,139.9 L416.8,138.7 L415.8,137.8 L417.0,138.6 L419.5,138.7 L419.2,138.4 L420.7,137.8 L422.4,137.7 L424.4,137.4 L425.0,137.1 L427.3,136.5 L427.6,137.1 L428.4,136.3 L429.8,136.0 L431.0,135.8 L431.1,136.5 L432.2,136.3 L433.8,136.1 L435.5,135.4 L435.8,135.0 L437.1,134.6 L438.3,135.3 L440.1,134.4 L441.0,134.3 L442.7,133.8 L443.9,133.9 L444.3,134.2 L445.6,132.7 L446.2,132.7 L448.1,132.6 L449.9,133.0 L450.2,133.1 L450.6,132.5 L452.9,132.3 L454.0,131.6 L455.2,131.2 L456.5,131.5 L457.5,131.6 L458.8,130.2 L458.9,129.3 L458.5,128.9 L460.2,128.4 L461.4,128.0 L462.5,126.6 L464.1,126.5 L465.0,126.9 L467.0,126.0 L467.2,125.7 L468.4,125.1 L469.3,125.0 L471.7,124.3 L471.0,124.3 L471.2,122.9 L472.2,122.2 L473.7,121.3 L474.2,120.2 L475.0,118.9 L475.1,119.6 L475.5,118.8 L477.5,117.8 L478.9,116.8 L481.3,117.1 L482.0,116.4 L482.9,115.9 L484.3,115.0 L484.1,114.8 L484.4,114.2 L485.7,113.7 L488.1,112.6 L489.2,111.8 L489.3,111.8 L489.7,111.4 L491.9,110.9 L493.4,110.9 L493.3,110.4 L495.7,109.5 L495.7,108.9 L497.3,108.8 L497.7,108.3 L498.4,107.5 L499.0,107.4 L500.8,107.4 L502.0,107.7 L503.3,108.7 L503.7,109.0 L504.2,108.6 L507.1,108.0 L508.4,107.8 L508.3,106.4 L508.3,106.3 L510.6,105.1 L511.1,104.4 L511.9,103.2 L513.3,103.0 L514.3,103.4 L515.3,103.6 L517.6,104.7 L516.7,103.4 L518.7,103.7 L519.0,103.4 L520.4,103.3 L521.4,102.6 L522.6,101.1 L522.2,101.7 L524.8,101.7 L527.4,101.4 L527.3,101.4 L528.9,102.1 L530.1,103.2 L531.0,102.6 L531.5,101.8 L533.1,101.6 L534.2,101.4 L536.0,100.2 L537.0,100.8 L537.1,100.6 L536.5,100.4 L539.9,100.6 L541.0,101.0 L541.9,101.6 L542.3,101.2 L545.2,102.6 L546.0,103.4 L546.2,103.4 L546.4,104.6 L547.5,106.1 L548.7,106.7 L549.0,107.7 L549.8,108.5 L550.0,109.0 L550.6,109.4 L550.2,110.6 L551.4,111.4 L552.1,111.8 L552.7,112.9 L553.1,113.5 L554.0,114.8 L554.1,115.5 L554.8,116.0 L554.7,117.8 L557.4,117.3 L556.5,118.9 L556.5,120.2 L557.6,121.0 L558.9,121.2 L559.6,122.2 L559.8,122.3 L563.2,122.8 L564.6,122.4 L564.9,123.8 L566.3,123.8 L566.4,124.4 L566.8,125.2 L568.9,125.5 L570.4,126.0 L570.8,126.4 L571.4,127.3 L569.8,127.8 L571.4,129.3 L572.9,129.6 L572.9,132.2 L573.2,132.1 L573.7,132.8 L572.4,133.5 L572.7,134.9 L573.0,136.2 L574.7,137.7 L575.2,137.9 L575.1,139.4 L577.4,140.6 L577.9,141.2 L579.3,141.8 L580.8,142.6 L579.3,144.1 L579.5,145.0 L581.5,145.6 L582.7,145.9 L582.8,146.7 L583.3,147.8 L584.0,149.1 L584.6,150.3 L584.0,151.5 L585.6,152.3 L586.7,152.8 L586.7,154.0 L586.8,153.8 L587.6,155.5 L588.3,156.0 L589.6,157.2 L590.7,158.2 L591.0,159.2 L591.4,159.3 L591.1,160.6 L592.3,161.3 L592.8,162.3 L593.7,163.0 L595.1,163.8 L595.8,164.1 L598.7,165.8 L597.2,167.2 L597.5,167.2 L597.7,167.8 L598.8,169.0 L599.6,170.2 L601.1,171.1 L600.1,171.5 L602.1,173.1 L602.9,173.4 L602.8,174.7 L603.1,175.9 L604.2,177.1 L605.2,178.9 L605.5,179.3 L606.0,180.6 L606.7,181.4 L606.6,182.5 L607.9,183.0 L609.3,182.9 L610.2,183.3 L610.5,183.6 L612.0,183.9 L613.2,183.6 L614.3,184.5 L614.6,185.0 L615.9,186.4 L616.9,187.4 L617.5,188.8 L617.8,189.5 L618.9,190.9 L618.9,191.5 L619.3,192.8 L619.1,193.7 L620.4,194.0 L622.0,195.0 L621.5,195.6 L622.9,196.9 L622.5,198.7 L623.9,198.6 L625.8,199.6 L625.8,200.8 L625.5,201.1 L626.9,202.6 L627.5,203.7 L628.8,203.8 L628.9,205.0 L628.6,205.3 L629.9,206.4 L631.5,207.4 L632.7,208.2 L633.1,209.3 L633.6,209.6 L634.7,210.1 L634.9,211.2 L635.3,212.0 L636.4,212.8 L637.7,213.1 L637.6,215.1 L638.7,215.5 L638.8,216.2 L639.3,217.5 L640.5,218.4 L640.4,219.5 L641.2,219.8 L641.7,221.4 L642.8,221.9 L643.5,222.1 L646.3,222.9 L646.7,224.2 L647.0,225.3 L646.7,227.1 L646.5,227.9 L648.8,227.8 L649.4,228.9 L651.2,230.3 L651.4,230.8 L651.4,232.0 L652.7,231.7 L653.3,232.3 L654.3,232.0 L656.8,232.5 L657.5,233.5 L659.3,233.9 L659.8,234.3" fill="none" stroke="#e8221e" stroke-width="0.85" stroke-linejoin="round" opacity="1.0"/>
<path d="M393.7,155.2 L398.9,154.5 L394.7,152.8 L396.4,159.9 L395.6,157.8 L401.8,157.8 L395.5,156.0 L400.8,154.9 L395.8,159.9 L397.6,160.4 L395.3,158.9 L398.7,157.3 L395.4,160.0 L399.2,162.2 L392.6,159.2 L397.4,160.5 L398.2,149.9 L399.8,149.6 L402.0,149.5 L401.9,149.5 L402.5,149.7 L403.2,149.4 L404.8,148.2 L405.4,146.2 L407.4,147.0 L407.3,147.0 L407.5,146.5 L409.6,144.4 L408.2,144.7 L410.2,145.2 L412.3,144.6 L413.6,143.4 L414.0,144.7 L415.0,144.6 L416.6,143.2 L420.0,143.3 L418.4,142.8 L419.1,142.5 L419.7,141.5 L421.3,141.8 L422.0,141.0 L423.3,140.4 L425.1,139.7 L424.9,139.2 L425.4,138.8 L426.7,139.3 L429.1,138.7 L428.6,138.5 L430.6,137.5 L431.4,137.1 L429.3,136.5 L430.8,135.5 L431.7,135.3 L433.7,134.1 L435.5,133.5 L435.7,134.0 L436.4,133.6 L438.7,132.4 L438.7,132.2 L440.5,131.1 L439.4,131.0 L441.6,130.6 L441.2,129.5 L440.3,129.9 L441.7,129.1 L443.1,128.6 L444.3,127.9 L445.9,126.5 L446.9,126.0 L447.7,126.3 L447.5,125.3 L450.0,125.1 L451.0,124.5 L451.0,123.6 L451.2,123.4 L452.3,122.6 L453.0,122.3 L453.6,122.3 L454.8,121.9 L455.4,122.0 L457.2,120.8 L457.5,120.3 L459.0,119.5 L460.0,119.8 L460.8,118.9 L462.0,119.2 L461.8,118.5 L465.1,118.0 L464.2,117.8 L465.7,117.1 L466.3,116.6 L466.7,116.5 L469.2,116.3 L470.0,116.2 L469.8,114.7 L471.2,114.4 L472.4,114.5 L474.1,114.0 L475.0,114.3 L475.0,114.6 L475.7,114.0 L476.0,113.1 L477.8,113.0 L479.5,113.0 L479.8,112.1 L481.4,113.1 L482.2,111.5 L482.7,112.5 L483.0,112.5 L485.5,113.1 L488.1,113.3 L488.1,113.0 L487.6,111.5 L488.2,112.1 L490.1,112.3 L491.6,112.3 L493.4,113.1 L491.7,113.3 L495.0,113.1 L495.4,114.5 L496.2,114.6 L497.3,114.8 L497.7,115.2 L498.5,115.6 L500.2,116.8 L499.3,117.2 L500.7,117.7 L502.2,118.5 L501.5,118.1 L502.8,118.0 L504.5,118.9 L504.2,120.6 L504.6,120.9 L504.8,121.9 L504.6,123.5 L504.8,124.2 L504.1,125.5 L504.5,126.1 L506.3,126.7 L504.7,127.3 L505.1,129.0 L504.6,130.0 L505.1,130.9 L505.2,132.4 L504.8,132.9 L505.9,133.5 L505.4,135.2 L506.4,136.1 L507.8,137.4 L505.0,138.5 L506.0,139.5 L505.0,139.4 L506.1,140.6 L506.9,141.6 L507.1,141.9 L508.0,142.5 L507.5,143.0 L506.0,145.3 L507.9,145.7 L506.6,147.5 L506.9,148.5 L507.3,149.3 L506.5,150.3 L507.0,150.1 L508.2,151.3 L506.2,151.8 L505.5,153.1 L506.3,154.2 L506.7,155.0 L506.0,155.8 L505.1,156.7 L507.4,158.6 L507.8,159.1 L506.7,159.9 L507.9,160.6 L507.9,161.7 L508.2,162.5 L507.2,164.1 L507.7,164.4 L508.4,166.0 L506.9,166.1 L507.1,166.8 L508.7,168.0 L509.9,169.2 L509.3,169.9 L508.6,171.1 L507.6,172.7 L507.9,173.3 L508.0,174.7 L508.7,175.6 L508.4,175.4 L510.5,176.2 L510.4,177.6 L507.8,178.6 L507.8,179.9 L508.8,180.7 L510.0,182.3 L510.0,182.6 L507.6,183.5 L507.9,184.6 L510.4,185.7 L510.6,185.3 L512.3,186.8 L511.5,188.1 L511.1,189.3 L511.9,190.3 L510.7,190.5 L510.4,191.3 L510.0,192.2 L511.0,193.2 L511.5,194.8 L512.1,196.8 L512.8,196.5 L512.4,197.1 L512.8,198.0 L511.9,199.0 L511.1,199.9 L512.3,201.0 L512.9,202.1 L513.4,204.0 L512.4,204.3 L512.0,205.1 L512.0,205.5 L512.7,206.4 L512.6,207.6 L512.6,208.3 L512.9,209.3 L512.7,210.5 L513.2,211.6 L512.7,212.7 L511.9,213.6 L512.7,214.6 L514.6,215.0 L513.3,214.7 L514.2,216.2 L514.9,217.0 L513.7,219.2 L514.1,221.5 L512.3,222.0 L514.0,222.5 L515.4,223.5 L514.8,224.7 L513.1,225.6 L513.7,226.3 L513.8,226.8 L514.6,227.8 L515.1,229.1 L514.8,229.9 L514.8,229.8 L514.5,231.3 L515.6,232.1 L515.7,232.5 L515.9,234.0 L515.4,235.2 L516.1,234.6 L515.8,235.4" fill="none" stroke="#ff1493" stroke-width="1.02" stroke-linejoin="round" opacity="1.0"/>
<path d="M394.9,126.7 L398.5,119.1 L391.0,126.2 L397.3,121.9 L391.7,126.4 L396.5,126.6 L393.9,128.3 L401.9,125.2 L390.8,127.7 L400.1,132.3 L393.1,131.6 L397.0,132.0 L391.7,130.1 L398.7,136.2 L396.3,135.3 L399.6,137.4 L400.6,127.1 L402.9,126.0 L403.2,125.4 L405.6,125.9 L407.6,124.4 L408.6,123.9 L409.8,123.8 L410.7,123.5 L411.8,122.0 L413.4,121.7 L414.9,121.1 L416.8,120.5 L416.4,120.5 L417.9,119.2 L419.2,118.0 L420.0,118.4 L421.0,117.5 L420.7,117.8 L422.9,116.9 L422.6,115.9 L423.3,114.9 L423.9,113.7 L425.7,112.7 L425.7,111.7 L427.3,111.0 L428.5,110.0 L429.0,109.4 L429.4,107.6 L430.8,106.9 L432.3,105.7 L431.9,105.0 L431.9,104.4 L432.8,103.6 L433.4,103.3 L434.6,101.2 L435.6,100.3 L434.9,99.7 L438.4,99.4 L438.5,98.2 L439.6,97.9 L439.5,97.6 L440.2,97.2 L441.9,95.7 L444.1,95.2 L446.0,94.8 L445.5,94.8 L447.8,93.9 L450.3,93.8 L450.6,93.9 L452.5,93.3 L453.5,92.8 L453.7,93.3 L456.2,92.5 L456.4,91.8 L458.0,91.5 L458.6,91.6 L459.7,90.3 L461.0,89.9 L463.1,89.3 L462.2,88.7 L463.0,88.0 L464.8,86.8 L466.7,86.6 L467.0,85.4 L467.8,84.1 L469.2,83.0 L471.2,82.4 L470.9,82.5 L471.2,82.8 L473.2,82.9 L475.5,83.3 L475.5,82.3 L478.2,82.6 L479.8,83.3 L481.1,82.8 L481.1,82.4 L481.7,82.6 L484.2,83.1 L485.6,83.8 L487.3,83.5 L487.1,83.7 L486.8,84.0 L490.7,83.7 L492.6,84.4 L493.1,84.0 L494.4,85.3 L496.0,85.4 L497.5,86.0 L498.2,85.9 L499.0,85.5 L499.8,86.3 L502.4,85.7 L503.4,86.4 L501.9,86.8 L505.2,86.6 L506.3,87.5 L506.9,87.2 L508.5,88.0 L509.2,88.7 L510.8,89.6 L512.1,89.4 L513.7,90.5 L513.5,91.8 L513.3,93.1 L514.7,94.2 L515.0,95.0 L517.2,96.1 L517.6,96.6 L516.9,97.7 L517.6,99.0 L519.1,99.7 L520.1,100.0 L519.6,102.1 L521.3,102.7 L522.7,103.0 L524.3,103.9 L525.6,104.4 L525.7,106.1 L525.5,107.1 L527.0,107.0 L529.0,107.7 L529.2,108.3 L531.7,108.6 L531.0,109.6 L531.0,110.6 L532.9,112.1 L533.2,113.3 L534.0,113.7 L534.0,115.2 L534.6,117.0 L534.5,118.1 L536.6,118.6 L536.6,118.9 L536.3,120.3 L537.0,122.0 L537.7,122.8 L537.2,123.9 L537.8,124.7 L538.3,125.8 L538.2,126.9 L538.3,128.1 L539.0,129.3 L539.4,131.0 L539.7,132.2 L538.9,132.6 L540.4,133.4 L541.6,134.5 L541.8,135.8 L543.3,137.3 L543.4,138.5 L542.7,139.9 L542.7,140.5 L544.0,142.0 L544.1,143.4 L543.6,145.1 L545.2,145.2 L545.7,146.6 L546.3,148.0 L547.5,148.7 L547.9,148.9 L549.8,149.9 L548.6,151.5 L549.1,152.4 L549.9,154.0 L550.0,155.1 L550.3,156.1 L552.5,157.2 L551.1,157.9 L552.4,158.8 L551.6,159.2 L553.3,160.4 L552.5,162.0 L553.2,163.1 L555.7,164.6 L557.4,165.8 L557.3,166.7 L555.6,167.1 L558.5,168.4 L559.3,170.0 L559.0,171.2 L559.9,172.4 L559.9,173.1 L561.2,173.9 L562.0,175.2 L562.9,176.3 L564.1,177.1 L563.7,177.8 L562.6,178.5 L563.3,179.1 L563.8,180.6 L564.8,181.5 L565.4,182.8 L566.1,184.6 L567.6,185.8 L567.4,185.8 L566.7,187.3 L567.4,187.8 L567.4,188.9 L568.2,189.7 L569.3,191.4 L568.6,192.4 L570.0,194.0 L571.8,195.7 L572.5,197.1 L573.2,197.7 L572.6,199.4 L571.8,199.9 L574.4,201.3 L574.0,202.0 L574.5,203.6 L574.5,204.0 L574.5,205.1 L576.0,206.8 L575.3,208.3 L575.4,208.9 L577.3,210.4 L577.5,210.9 L577.6,211.6 L579.0,212.9 L580.4,213.2 L579.9,213.8 L580.2,215.1 L581.2,216.3 L582.1,217.4 L582.8,218.9 L582.7,219.6 L581.7,221.2 L582.5,223.6 L582.4,224.3 L581.2,225.1 L583.1,225.8 L583.3,227.6 L584.1,228.0 L583.3,229.7 L583.8,230.6 L583.3,231.5 L583.3,232.8 L583.9,233.6 L583.4,235.3 L583.7,235.6" fill="none" stroke="#000080" stroke-width="1.02" stroke-dasharray="2,1.1" stroke-linejoin="round" opacity="1.0"/>
<path d="M391.3,117.9 L396.6,120.6 L388.9,118.3 L399.8,114.2 L391.9,118.9 L396.0,114.4 L393.7,115.3 L397.0,113.6 L393.3,112.1 L397.8,114.6 L394.5,123.5 L398.7,119.7 L394.2,116.5 L400.7,116.2 L391.9,122.7 L399.0,124.4 L394.3,122.5 L400.5,125.5 L400.5,114.5 L401.6,115.2 L400.8,115.4 L401.5,114.0 L403.1,113.1 L404.4,112.3 L407.2,112.0 L407.1,111.2 L408.3,110.1 L409.9,110.0 L411.7,109.2 L412.0,108.9 L412.8,108.5 L414.9,107.9 L414.4,106.5 L413.8,105.9 L415.0,105.1 L416.2,104.6 L418.5,105.0 L418.9,103.6 L420.4,102.9 L420.6,102.1 L421.2,101.6 L421.4,101.4 L421.4,99.5 L423.2,98.0 L424.2,96.8 L425.1,97.3 L425.1,96.1 L425.6,95.9 L427.1,95.2 L428.4,94.8 L430.6,94.3 L429.8,93.9 L431.7,93.3 L432.8,92.2 L433.1,90.9 L434.1,90.3 L435.0,90.1 L437.1,89.8 L439.3,89.5 L438.9,89.0 L439.1,88.7 L440.8,88.7 L441.8,88.5 L442.4,89.0 L444.1,89.7 L445.4,90.0 L445.7,90.1 L447.4,90.4 L446.5,90.8 L447.7,90.7 L449.5,91.3 L451.1,92.3 L451.1,92.4 L453.9,93.3 L454.2,93.3 L455.3,93.6 L456.2,94.1 L457.8,94.7 L458.0,96.0 L459.7,96.5 L459.3,97.3 L459.1,97.9 L460.9,99.4 L461.5,100.3 L462.7,101.8 L461.3,102.3 L462.8,103.0 L463.0,103.8 L463.9,104.0 L464.3,104.9 L464.7,106.2 L464.9,107.7 L466.4,108.8 L465.1,109.4 L465.0,110.1 L466.7,111.5 L468.8,112.6 L467.6,113.8 L467.4,114.5 L467.4,115.5 L467.8,116.9 L469.9,118.2 L470.4,118.4 L470.9,120.1 L471.0,121.8 L471.2,123.7 L471.2,122.8 L471.5,123.8 L473.3,124.0 L475.7,124.3 L474.9,123.2 L476.4,122.2 L475.9,121.9 L476.9,122.5 L478.9,123.0 L478.7,123.8 L479.7,124.4 L479.5,123.8 L481.7,123.4 L480.4,122.0 L481.9,121.5 L482.5,122.6 L483.7,123.0 L484.5,123.4 L485.7,124.2 L486.0,125.2 L486.6,126.0 L486.5,126.7 L485.7,128.4 L487.5,129.6 L488.6,129.9 L488.5,130.5 L489.0,132.3 L488.7,133.4 L488.1,133.5 L490.0,134.3 L489.6,135.5 L491.8,136.1 L492.1,136.6 L492.1,137.3 L492.1,139.3 L493.1,140.8 L493.0,141.8 L493.9,142.5 L496.1,143.4 L495.7,144.0 L497.2,144.3 L496.3,145.2 L496.6,146.1 L495.8,147.5 L496.2,148.1 L496.3,149.3 L496.5,150.0 L499.9,150.5 L500.7,151.7 L501.1,150.9 L501.0,152.0 L502.3,152.5 L502.5,152.5 L503.1,154.0 L504.4,155.6 L507.0,155.9 L505.3,156.9 L506.7,158.4 L506.7,158.9 L505.2,160.0 L506.2,161.5 L507.7,163.5 L508.6,164.4 L508.6,164.7 L510.8,166.0 L511.0,166.1 L510.7,165.9 L510.3,167.0 L512.1,168.1 L512.4,169.2 L514.1,169.9 L513.4,171.1 L515.2,171.7 L514.9,172.3 L515.6,173.3 L515.8,175.1 L516.9,175.8 L518.0,177.0 L517.4,177.9 L517.3,178.5 L519.8,180.0 L520.2,180.9 L521.6,181.1 L521.7,182.6 L521.7,183.6 L523.2,184.1 L522.5,185.2 L522.9,185.6 L523.5,187.2 L525.0,188.6 L524.8,189.0 L525.7,189.8 L525.9,190.5 L526.7,191.0 L528.3,191.7 L529.1,193.1 L528.7,194.4 L530.9,196.2 L529.6,197.3 L530.3,197.8 L530.2,198.4 L529.2,200.0 L530.0,200.3 L532.4,201.2 L531.3,201.7 L534.5,203.0 L533.4,203.7 L533.6,205.4 L534.6,207.2 L534.2,208.2 L533.8,208.5 L533.9,209.3 L533.9,211.2 L535.2,211.8 L535.0,212.4 L536.3,212.5 L535.8,213.2 L536.9,214.2 L539.7,216.0 L539.8,216.5 L540.0,218.2 L541.5,218.8 L541.9,219.4 L543.4,220.5 L542.5,221.4 L544.1,221.9 L543.8,222.2 L545.5,223.2 L548.0,223.7 L548.5,224.2 L547.4,225.1 L548.6,225.1 L549.6,226.4 L549.7,227.5 L551.2,228.9 L551.3,228.7 L553.6,228.9 L554.8,229.7 L555.1,230.2 L556.5,230.9 L558.9,231.1 L558.3,232.0 L557.4,232.7 L559.4,233.6 L560.0,234.8 L560.5,236.4 L562.6,236.4 L563.8,237.5 L564.5,237.7 L566.1,238.0 L565.6,237.6 L566.4,238.8" fill="none" stroke="#000000" stroke-width="0.85" stroke-linejoin="round" opacity="1.0"/>
<rect x="513.7" y="234.5" width="4.4" height="4" fill="#ff1493"/>
<rect x="513.7" y="234.5" width="4.4" height="4" fill="#ff1493"/>
<rect x="40.5" y="29.3" width="289.80" height="213.30" fill="none" stroke="#6e6e6e" stroke-width="1.1"/>
<line x1="40.50" y1="242.6" x2="40.50" y2="245.2" stroke="#3a3a3a" stroke-width="0.9"/>
<text x="40.50" y="253.8" font-size="9.6" text-anchor="middle" fill="#1a1a1a" stroke="#1a1a1a" stroke-width="0.12" font-family="Liberation Sans, sans-serif">1850</text>
<line x1="72.70" y1="242.6" x2="72.70" y2="245.2" stroke="#3a3a3a" stroke-width="0.9"/>
<text x="72.70" y="253.8" font-size="9.6" text-anchor="middle" fill="#1a1a1a" stroke="#1a1a1a" stroke-width="0.12" font-family="Liberation Sans, sans-serif">1900</text>
<line x1="104.90" y1="242.6" x2="104.90" y2="245.2" stroke="#3a3a3a" stroke-width="0.9"/>
<text x="104.90" y="253.8" font-size="9.6" text-anchor="middle" fill="#1a1a1a" stroke="#1a1a1a" stroke-width="0.12" font-family="Liberation Sans, sans-serif">1950</text>
<line x1="137.10" y1="242.6" x2="137.10" y2="245.2" stroke="#3a3a3a" stroke-width="0.9"/>
<text x="137.10" y="253.8" font-size="9.6" text-anchor="middle" fill="#1a1a1a" stroke="#1a1a1a" stroke-width="0.12" font-family="Liberation Sans, sans-serif">2000</text>
<line x1="169.30" y1="242.6" x2="169.30" y2="245.2" stroke="#3a3a3a" stroke-width="0.9"/>
<text x="169.30" y="253.8" font-size="9.6" text-anchor="middle" fill="#1a1a1a" stroke="#1a1a1a" stroke-width="0.12" font-family="Liberation Sans, sans-serif">2050</text>
<line x1="201.50" y1="242.6" x2="201.50" y2="245.2" stroke="#3a3a3a" stroke-width="0.9"/>
<text x="201.50" y="253.8" font-size="9.6" text-anchor="middle" fill="#1a1a1a" stroke="#1a1a1a" stroke-width="0.12" font-family="Liberation Sans, sans-serif">2100</text>
<line x1="233.70" y1="242.6" x2="233.70" y2="245.2" stroke="#3a3a3a" stroke-width="0.9"/>
<text x="233.70" y="253.8" font-size="9.6" text-anchor="middle" fill="#1a1a1a" stroke="#1a1a1a" stroke-width="0.12" font-family="Liberation Sans, sans-serif">2150</text>
<line x1="265.90" y1="242.6" x2="265.90" y2="245.2" stroke="#3a3a3a" stroke-width="0.9"/>
<text x="265.90" y="253.8" font-size="9.6" text-anchor="middle" fill="#1a1a1a" stroke="#1a1a1a" stroke-width="0.12" font-family="Liberation Sans, sans-serif">2200</text>
<line x1="298.10" y1="242.6" x2="298.10" y2="245.2" stroke="#3a3a3a" stroke-width="0.9"/>
<text x="298.10" y="253.8" font-size="9.6" text-anchor="middle" fill="#1a1a1a" stroke="#1a1a1a" stroke-width="0.12" font-family="Liberation Sans, sans-serif">2250</text>
<line x1="330.30" y1="242.6" x2="330.30" y2="245.2" stroke="#3a3a3a" stroke-width="0.9"/>
<text x="330.30" y="253.8" font-size="9.6" text-anchor="middle" fill="#1a1a1a" stroke="#1a1a1a" stroke-width="0.12" font-family="Liberation Sans, sans-serif">2300</text>
<line x1="38.1" y1="242.90" x2="40.5" y2="242.90" stroke="#3a3a3a" stroke-width="0.9"/>
<text x="36.65" y="246.20" font-size="10" text-anchor="end" fill="#1a1a1a" stroke="#1a1a1a" stroke-width="0.12" font-family="Liberation Sans, sans-serif">0</text>
<line x1="38.1" y1="204.05" x2="40.5" y2="204.05" stroke="#3a3a3a" stroke-width="0.9"/>
<text x="36.65" y="207.35" font-size="10" text-anchor="end" fill="#1a1a1a" stroke="#1a1a1a" stroke-width="0.12" font-family="Liberation Sans, sans-serif">1</text>
<line x1="38.1" y1="165.20" x2="40.5" y2="165.20" stroke="#3a3a3a" stroke-width="0.9"/>
<text x="36.65" y="168.50" font-size="10" text-anchor="end" fill="#1a1a1a" stroke="#1a1a1a" stroke-width="0.12" font-family="Liberation Sans, sans-serif">2</text>
<line x1="38.1" y1="126.35" x2="40.5" y2="126.35" stroke="#3a3a3a" stroke-width="0.9"/>
<text x="36.65" y="129.65" font-size="10" text-anchor="end" fill="#1a1a1a" stroke="#1a1a1a" stroke-width="0.12" font-family="Liberation Sans, sans-serif">3</text>
<line x1="38.1" y1="87.50" x2="40.5" y2="87.50" stroke="#3a3a3a" stroke-width="0.9"/>
<text x="36.65" y="90.80" font-size="10" text-anchor="end" fill="#1a1a1a" stroke="#1a1a1a" stroke-width="0.12" font-family="Liberation Sans, sans-serif">4</text>
<line x1="38.1" y1="48.65" x2="40.5" y2="48.65" stroke="#3a3a3a" stroke-width="0.9"/>
<text x="36.65" y="51.95" font-size="10" text-anchor="end" fill="#1a1a1a" stroke="#1a1a1a" stroke-width="0.12" font-family="Liberation Sans, sans-serif">5</text>
<text x="185.5" y="265.6" font-size="10.2" letter-spacing="0.35" text-anchor="middle" fill="#1a1a1a" stroke="#1a1a1a" stroke-width="0.12" font-family="Liberation Sans, sans-serif">Year</text>
<text transform="translate(24.6,136.1) rotate(-90)" font-size="10.2" letter-spacing="0.33" text-anchor="middle" fill="#1a1a1a" stroke="#1a1a1a" stroke-width="0.12" font-family="Liberation Sans, sans-serif">Photosynthetic production (kgC m<tspan dy="-4" font-size="7.6" letter-spacing="1.7">−</tspan><tspan font-size="7.6" letter-spacing="0.4">2</tspan><tspan dy="4"> year</tspan><tspan dy="-4" font-size="7.6" letter-spacing="1.7">−</tspan><tspan font-size="7.6" letter-spacing="0.4">1</tspan><tspan dy="4">)</tspan></text>
<rect x="374.5" y="29.3" width="300.50" height="213.30" fill="none" stroke="#6e6e6e" stroke-width="1.1"/>
<line x1="396.30" y1="242.6" x2="396.30" y2="245.2" stroke="#3a3a3a" stroke-width="0.9"/>
<text x="396.30" y="253.8" font-size="9.6" text-anchor="middle" fill="#1a1a1a" stroke="#1a1a1a" stroke-width="0.12" font-family="Liberation Sans, sans-serif">0.0</text>
<line x1="433.68" y1="242.6" x2="433.68" y2="245.2" stroke="#3a3a3a" stroke-width="0.9"/>
<text x="433.68" y="253.8" font-size="9.6" text-anchor="middle" fill="#1a1a1a" stroke="#1a1a1a" stroke-width="0.12" font-family="Liberation Sans, sans-serif">2.5</text>
<line x1="471.05" y1="242.6" x2="471.05" y2="245.2" stroke="#3a3a3a" stroke-width="0.9"/>
<text x="471.05" y="253.8" font-size="9.6" text-anchor="middle" fill="#1a1a1a" stroke="#1a1a1a" stroke-width="0.12" font-family="Liberation Sans, sans-serif">5.0</text>
<line x1="508.43" y1="242.6" x2="508.43" y2="245.2" stroke="#3a3a3a" stroke-width="0.9"/>
<text x="508.43" y="253.8" font-size="9.6" text-anchor="middle" fill="#1a1a1a" stroke="#1a1a1a" stroke-width="0.12" font-family="Liberation Sans, sans-serif">7.5</text>
<line x1="545.80" y1="242.6" x2="545.80" y2="245.2" stroke="#3a3a3a" stroke-width="0.9"/>
<text x="545.80" y="253.8" font-size="9.6" text-anchor="middle" fill="#1a1a1a" stroke="#1a1a1a" stroke-width="0.12" font-family="Liberation Sans, sans-serif">10.0</text>
<line x1="583.17" y1="242.6" x2="583.17" y2="245.2" stroke="#3a3a3a" stroke-width="0.9"/>
<text x="583.17" y="253.8" font-size="9.6" text-anchor="middle" fill="#1a1a1a" stroke="#1a1a1a" stroke-width="0.12" font-family="Liberation Sans, sans-serif">12.5</text>
<line x1="620.55" y1="242.6" x2="620.55" y2="245.2" stroke="#3a3a3a" stroke-width="0.9"/>
<text x="620.55" y="253.8" font-size="9.6" text-anchor="middle" fill="#1a1a1a" stroke="#1a1a1a" stroke-width="0.12" font-family="Liberation Sans, sans-serif">15.0</text>
<line x1="657.92" y1="242.6" x2="657.92" y2="245.2" stroke="#3a3a3a" stroke-width="0.9"/>
<text x="657.92" y="253.8" font-size="9.6" text-anchor="middle" fill="#1a1a1a" stroke="#1a1a1a" stroke-width="0.12" font-family="Liberation Sans, sans-serif">17.5</text>
<line x1="372.1" y1="242.90" x2="374.5" y2="242.90" stroke="#3a3a3a" stroke-width="0.9"/>
<text x="370.65" y="246.20" font-size="10" text-anchor="end" fill="#1a1a1a" stroke="#1a1a1a" stroke-width="0.12" font-family="Liberation Sans, sans-serif">0</text>
<line x1="372.1" y1="204.05" x2="374.5" y2="204.05" stroke="#3a3a3a" stroke-width="0.9"/>
<text x="370.65" y="207.35" font-size="10" text-anchor="end" fill="#1a1a1a" stroke="#1a1a1a" stroke-width="0.12" font-family="Liberation Sans, sans-serif">1</text>
<line x1="372.1" y1="165.20" x2="374.5" y2="165.20" stroke="#3a3a3a" stroke-width="0.9"/>
<text x="370.65" y="168.50" font-size="10" text-anchor="end" fill="#1a1a1a" stroke="#1a1a1a" stroke-width="0.12" font-family="Liberation Sans, sans-serif">2</text>
<line x1="372.1" y1="126.35" x2="374.5" y2="126.35" stroke="#3a3a3a" stroke-width="0.9"/>
<text x="370.65" y="129.65" font-size="10" text-anchor="end" fill="#1a1a1a" stroke="#1a1a1a" stroke-width="0.12" font-family="Liberation Sans, sans-serif">3</text>
<line x1="372.1" y1="87.50" x2="374.5" y2="87.50" stroke="#3a3a3a" stroke-width="0.9"/>
<text x="370.65" y="90.80" font-size="10" text-anchor="end" fill="#1a1a1a" stroke="#1a1a1a" stroke-width="0.12" font-family="Liberation Sans, sans-serif">4</text>
<line x1="372.1" y1="48.65" x2="374.5" y2="48.65" stroke="#3a3a3a" stroke-width="0.9"/>
<text x="370.65" y="51.95" font-size="10" text-anchor="end" fill="#1a1a1a" stroke="#1a1a1a" stroke-width="0.12" font-family="Liberation Sans, sans-serif">5</text>
<text x="525" y="265.6" font-size="10.2" letter-spacing="0.35" text-anchor="middle" fill="#1a1a1a" stroke="#1a1a1a" stroke-width="0.12" font-family="Liberation Sans, sans-serif">Global warming level (°C)</text>
<text transform="translate(358.9,136.1) rotate(-90)" font-size="10.2" letter-spacing="0.33" text-anchor="middle" fill="#1a1a1a" stroke="#1a1a1a" stroke-width="0.12" font-family="Liberation Sans, sans-serif">Photosynthetic production (kgC m<tspan dy="-4" font-size="7.6" letter-spacing="1.7">−</tspan><tspan font-size="7.6" letter-spacing="0.4">2</tspan><tspan dy="4"> year</tspan><tspan dy="-4" font-size="7.6" letter-spacing="1.7">−</tspan><tspan font-size="7.6" letter-spacing="0.4">1</tspan><tspan dy="4">)</tspan></text>
<polygon points="146.15,29.6 154.35,29.6 150.25,38.0" fill="#8c564b"/>
<polygon points="163.47,29.6 171.67,29.6 167.57,38.0" fill="#ffcc00"/>
<polygon points="171.39,29.6 179.59,29.6 175.49,38.0" fill="#000000"/>
<polygon points="191.55,29.6 199.75,29.6 195.65,38.0" fill="#3399ff"/>
<polygon points="187.68,29.6 195.88,29.6 191.78,38.0" fill="#ff9900"/>
<polygon points="211.25,29.6 219.45,29.6 215.35,38.0" fill="#000080"/>
<polygon points="217.76,29.6 225.96,29.6 221.86,38.0" fill="#e8221e"/>
<polygon points="246.29,29.6 254.49,29.6 250.39,38.0" fill="#ff1493"/>
<polygon points="414.40,29.6 422.60,29.6 418.50,38.0" fill="#8c564b"/>
<polygon points="426.40,29.6 434.60,29.6 430.50,38.0" fill="#8b008b"/>
<polygon points="436.10,29.6 444.30,29.6 440.20,38.0" fill="#ffcc00"/>
<polygon points="445.90,29.6 454.10,29.6 450.00,38.0" fill="#000000"/>
<polygon points="455.90,29.6 464.10,29.6 460.00,38.0" fill="#ff9900"/>
<polygon points="482.70,29.6 490.90,29.6 486.80,38.0" fill="#3399ff"/>
<polygon points="502.40,29.6 510.60,29.6 506.50,38.0" fill="#ff1493"/>
<polygon points="499.40,29.6 507.60,29.6 503.50,38.0" fill="#000080"/>
<polygon points="545.70,29.6 553.90,29.6 549.80,38.0" fill="#e8221e"/>
<text x="12.7" y="27.2" font-size="20.5" font-weight="bold" fill="#000" font-family="Liberation Sans, sans-serif">a.</text>
<text x="337.7" y="27.2" font-size="20.5" font-weight="bold" fill="#000" font-family="Liberation Sans, sans-serif">b.</text>
<rect x="0" y="0" width="680" height="3" fill="#000"/>
<rect x="0" y="0" width="7" height="273" fill="#000"/>
</svg></body></html>
